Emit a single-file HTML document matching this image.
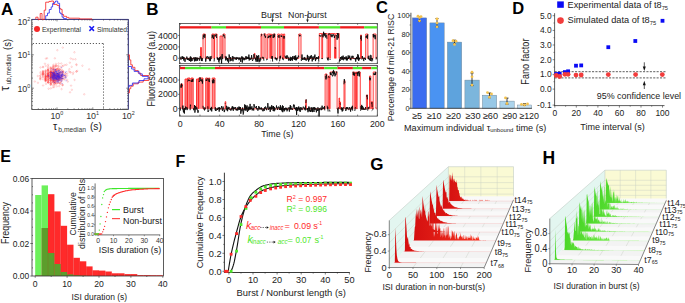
<!DOCTYPE html>
<html><head><meta charset="utf-8"><style>
html,body{margin:0;padding:0;background:#fff;overflow:hidden;width:685px;height:303px;}
svg{display:block;font-family:"Liberation Sans", sans-serif;}
</style></head><body>
<svg width="685" height="303" viewBox="0 0 685 303">
<rect width="685" height="303" fill="#fff"/>
<text x="0.9" y="14.7" font-size="17" text-anchor="start" fill="#000" font-weight="bold">A</text>
<text x="146.3" y="14.7" font-size="17" text-anchor="start" fill="#000" font-weight="bold">B</text>
<text x="376" y="13" font-size="16.5" text-anchor="start" fill="#000" font-weight="bold">C</text>
<text x="512.3" y="13.7" font-size="16.5" text-anchor="start" fill="#000" font-weight="bold">D</text>
<text x="0.3" y="161.8" font-size="16" text-anchor="start" fill="#000" font-weight="bold">E</text>
<text x="175.4" y="166.6" font-size="16" text-anchor="start" fill="#000" font-weight="bold">F</text>
<text x="370.2" y="170.3" font-size="17" text-anchor="start" fill="#000" font-weight="bold">G</text>
<text x="542.4" y="164.4" font-size="17.5" text-anchor="start" fill="#000" font-weight="bold">H</text>
<path d="M52.7,72.5a0.75,0.75 0 1,0 1.5,0a0.75,0.75 0 1,0 -1.5,0M54.5,80.6a0.75,0.75 0 1,0 1.5,0a0.75,0.75 0 1,0 -1.5,0M50.1,84a0.75,0.75 0 1,0 1.5,0a0.75,0.75 0 1,0 -1.5,0M47.4,75.8a0.75,0.75 0 1,0 1.5,0a0.75,0.75 0 1,0 -1.5,0M50,70.3a0.75,0.75 0 1,0 1.5,0a0.75,0.75 0 1,0 -1.5,0M47.5,82.6a0.75,0.75 0 1,0 1.5,0a0.75,0.75 0 1,0 -1.5,0M53,80.6a0.75,0.75 0 1,0 1.5,0a0.75,0.75 0 1,0 -1.5,0M60.8,79a0.75,0.75 0 1,0 1.5,0a0.75,0.75 0 1,0 -1.5,0M50.3,80.8a0.75,0.75 0 1,0 1.5,0a0.75,0.75 0 1,0 -1.5,0M50.1,73.7a0.75,0.75 0 1,0 1.5,0a0.75,0.75 0 1,0 -1.5,0M55.7,79.3a0.75,0.75 0 1,0 1.5,0a0.75,0.75 0 1,0 -1.5,0M54.8,78.9a0.75,0.75 0 1,0 1.5,0a0.75,0.75 0 1,0 -1.5,0M53.3,72.8a0.75,0.75 0 1,0 1.5,0a0.75,0.75 0 1,0 -1.5,0M47.5,79a0.75,0.75 0 1,0 1.5,0a0.75,0.75 0 1,0 -1.5,0M52.5,73.5a0.75,0.75 0 1,0 1.5,0a0.75,0.75 0 1,0 -1.5,0M56.9,80.1a0.75,0.75 0 1,0 1.5,0a0.75,0.75 0 1,0 -1.5,0M44.7,81.2a0.75,0.75 0 1,0 1.5,0a0.75,0.75 0 1,0 -1.5,0M50.1,84.1a0.75,0.75 0 1,0 1.5,0a0.75,0.75 0 1,0 -1.5,0M42.2,66.8a0.75,0.75 0 1,0 1.5,0a0.75,0.75 0 1,0 -1.5,0M45,77a0.75,0.75 0 1,0 1.5,0a0.75,0.75 0 1,0 -1.5,0M42.2,74.4a0.75,0.75 0 1,0 1.5,0a0.75,0.75 0 1,0 -1.5,0M50.3,75.7a0.75,0.75 0 1,0 1.5,0a0.75,0.75 0 1,0 -1.5,0M44.6,74.8a0.75,0.75 0 1,0 1.5,0a0.75,0.75 0 1,0 -1.5,0M54.3,75.3a0.75,0.75 0 1,0 1.5,0a0.75,0.75 0 1,0 -1.5,0M53.6,66.6a0.75,0.75 0 1,0 1.5,0a0.75,0.75 0 1,0 -1.5,0M52.6,80.4a0.75,0.75 0 1,0 1.5,0a0.75,0.75 0 1,0 -1.5,0M37.2,82.8a0.75,0.75 0 1,0 1.5,0a0.75,0.75 0 1,0 -1.5,0M50,80.2a0.75,0.75 0 1,0 1.5,0a0.75,0.75 0 1,0 -1.5,0M52.4,81.7a0.75,0.75 0 1,0 1.5,0a0.75,0.75 0 1,0 -1.5,0M53.4,72a0.75,0.75 0 1,0 1.5,0a0.75,0.75 0 1,0 -1.5,0M42.1,71.7a0.75,0.75 0 1,0 1.5,0a0.75,0.75 0 1,0 -1.5,0M50,80a0.75,0.75 0 1,0 1.5,0a0.75,0.75 0 1,0 -1.5,0M47.2,82a0.75,0.75 0 1,0 1.5,0a0.75,0.75 0 1,0 -1.5,0M47.5,77.2a0.75,0.75 0 1,0 1.5,0a0.75,0.75 0 1,0 -1.5,0M59.1,69a0.75,0.75 0 1,0 1.5,0a0.75,0.75 0 1,0 -1.5,0M47.8,88.7a0.75,0.75 0 1,0 1.5,0a0.75,0.75 0 1,0 -1.5,0M52.5,73a0.75,0.75 0 1,0 1.5,0a0.75,0.75 0 1,0 -1.5,0M58,80.5a0.75,0.75 0 1,0 1.5,0a0.75,0.75 0 1,0 -1.5,0M50.2,70.6a0.75,0.75 0 1,0 1.5,0a0.75,0.75 0 1,0 -1.5,0M52,80.5a0.75,0.75 0 1,0 1.5,0a0.75,0.75 0 1,0 -1.5,0M53.3,76.8a0.75,0.75 0 1,0 1.5,0a0.75,0.75 0 1,0 -1.5,0M53.1,82.6a0.75,0.75 0 1,0 1.5,0a0.75,0.75 0 1,0 -1.5,0M44.7,80.1a0.75,0.75 0 1,0 1.5,0a0.75,0.75 0 1,0 -1.5,0M53.1,69a0.75,0.75 0 1,0 1.5,0a0.75,0.75 0 1,0 -1.5,0M60.9,71.7a0.75,0.75 0 1,0 1.5,0a0.75,0.75 0 1,0 -1.5,0M42.1,77.4a0.75,0.75 0 1,0 1.5,0a0.75,0.75 0 1,0 -1.5,0M57.9,79.6a0.75,0.75 0 1,0 1.5,0a0.75,0.75 0 1,0 -1.5,0M53.4,84.4a0.75,0.75 0 1,0 1.5,0a0.75,0.75 0 1,0 -1.5,0M50,77.3a0.75,0.75 0 1,0 1.5,0a0.75,0.75 0 1,0 -1.5,0M64.8,75.7a0.75,0.75 0 1,0 1.5,0a0.75,0.75 0 1,0 -1.5,0M57.3,75.9a0.75,0.75 0 1,0 1.5,0a0.75,0.75 0 1,0 -1.5,0M45,75.9a0.75,0.75 0 1,0 1.5,0a0.75,0.75 0 1,0 -1.5,0M53.1,80.8a0.75,0.75 0 1,0 1.5,0a0.75,0.75 0 1,0 -1.5,0M56.2,75.8a0.75,0.75 0 1,0 1.5,0a0.75,0.75 0 1,0 -1.5,0M52.5,75.7a0.75,0.75 0 1,0 1.5,0a0.75,0.75 0 1,0 -1.5,0M56.8,69.5a0.75,0.75 0 1,0 1.5,0a0.75,0.75 0 1,0 -1.5,0M52.3,66.8a0.75,0.75 0 1,0 1.5,0a0.75,0.75 0 1,0 -1.5,0M56.7,76.1a0.75,0.75 0 1,0 1.5,0a0.75,0.75 0 1,0 -1.5,0M61.4,79.1a0.75,0.75 0 1,0 1.5,0a0.75,0.75 0 1,0 -1.5,0M47.3,75.8a0.75,0.75 0 1,0 1.5,0a0.75,0.75 0 1,0 -1.5,0M53.9,78.3a0.75,0.75 0 1,0 1.5,0a0.75,0.75 0 1,0 -1.5,0M50.2,79a0.75,0.75 0 1,0 1.5,0a0.75,0.75 0 1,0 -1.5,0M53.4,75.8a0.75,0.75 0 1,0 1.5,0a0.75,0.75 0 1,0 -1.5,0M45,80.4a0.75,0.75 0 1,0 1.5,0a0.75,0.75 0 1,0 -1.5,0M50,72.7a0.75,0.75 0 1,0 1.5,0a0.75,0.75 0 1,0 -1.5,0M52.5,76a0.75,0.75 0 1,0 1.5,0a0.75,0.75 0 1,0 -1.5,0M58.1,74.3a0.75,0.75 0 1,0 1.5,0a0.75,0.75 0 1,0 -1.5,0M59.6,76.4a0.75,0.75 0 1,0 1.5,0a0.75,0.75 0 1,0 -1.5,0M44.6,78.9a0.75,0.75 0 1,0 1.5,0a0.75,0.75 0 1,0 -1.5,0M47.3,79.9a0.75,0.75 0 1,0 1.5,0a0.75,0.75 0 1,0 -1.5,0M56.6,76.6a0.75,0.75 0 1,0 1.5,0a0.75,0.75 0 1,0 -1.5,0M39.3,78.1a0.75,0.75 0 1,0 1.5,0a0.75,0.75 0 1,0 -1.5,0M50.2,74.4a0.75,0.75 0 1,0 1.5,0a0.75,0.75 0 1,0 -1.5,0M52.1,75.5a0.75,0.75 0 1,0 1.5,0a0.75,0.75 0 1,0 -1.5,0M60.3,81.9a0.75,0.75 0 1,0 1.5,0a0.75,0.75 0 1,0 -1.5,0M56.9,75.2a0.75,0.75 0 1,0 1.5,0a0.75,0.75 0 1,0 -1.5,0M50,81.8a0.75,0.75 0 1,0 1.5,0a0.75,0.75 0 1,0 -1.5,0M50.1,78.4a0.75,0.75 0 1,0 1.5,0a0.75,0.75 0 1,0 -1.5,0M50.3,76.9a0.75,0.75 0 1,0 1.5,0a0.75,0.75 0 1,0 -1.5,0M61.9,85.2a0.75,0.75 0 1,0 1.5,0a0.75,0.75 0 1,0 -1.5,0M50.2,75.1a0.75,0.75 0 1,0 1.5,0a0.75,0.75 0 1,0 -1.5,0M49.9,74.8a0.75,0.75 0 1,0 1.5,0a0.75,0.75 0 1,0 -1.5,0M54.8,76.2a0.75,0.75 0 1,0 1.5,0a0.75,0.75 0 1,0 -1.5,0M51.9,77.5a0.75,0.75 0 1,0 1.5,0a0.75,0.75 0 1,0 -1.5,0M52.8,77.3a0.75,0.75 0 1,0 1.5,0a0.75,0.75 0 1,0 -1.5,0M45,80.1a0.75,0.75 0 1,0 1.5,0a0.75,0.75 0 1,0 -1.5,0M52.6,76.8a0.75,0.75 0 1,0 1.5,0a0.75,0.75 0 1,0 -1.5,0M49.9,78.1a0.75,0.75 0 1,0 1.5,0a0.75,0.75 0 1,0 -1.5,0M59.8,75.1a0.75,0.75 0 1,0 1.5,0a0.75,0.75 0 1,0 -1.5,0M56.6,81.1a0.75,0.75 0 1,0 1.5,0a0.75,0.75 0 1,0 -1.5,0M52.5,74.4a0.75,0.75 0 1,0 1.5,0a0.75,0.75 0 1,0 -1.5,0M56.7,74.8a0.75,0.75 0 1,0 1.5,0a0.75,0.75 0 1,0 -1.5,0M49.9,76.2a0.75,0.75 0 1,0 1.5,0a0.75,0.75 0 1,0 -1.5,0M59.1,77.6a0.75,0.75 0 1,0 1.5,0a0.75,0.75 0 1,0 -1.5,0M52.6,72.9a0.75,0.75 0 1,0 1.5,0a0.75,0.75 0 1,0 -1.5,0M56.2,83.3a0.75,0.75 0 1,0 1.5,0a0.75,0.75 0 1,0 -1.5,0M44.8,73.4a0.75,0.75 0 1,0 1.5,0a0.75,0.75 0 1,0 -1.5,0M54.8,74.4a0.75,0.75 0 1,0 1.5,0a0.75,0.75 0 1,0 -1.5,0M42,74.2a0.75,0.75 0 1,0 1.5,0a0.75,0.75 0 1,0 -1.5,0M39.9,73.7a0.75,0.75 0 1,0 1.5,0a0.75,0.75 0 1,0 -1.5,0M49.7,78.6a0.75,0.75 0 1,0 1.5,0a0.75,0.75 0 1,0 -1.5,0M47.3,76.7a0.75,0.75 0 1,0 1.5,0a0.75,0.75 0 1,0 -1.5,0M53.7,72.5a0.75,0.75 0 1,0 1.5,0a0.75,0.75 0 1,0 -1.5,0M66.3,73.5a0.75,0.75 0 1,0 1.5,0a0.75,0.75 0 1,0 -1.5,0M47.4,74.5a0.75,0.75 0 1,0 1.5,0a0.75,0.75 0 1,0 -1.5,0M50,82.6a0.75,0.75 0 1,0 1.5,0a0.75,0.75 0 1,0 -1.5,0M53.9,73a0.75,0.75 0 1,0 1.5,0a0.75,0.75 0 1,0 -1.5,0M55.7,70a0.75,0.75 0 1,0 1.5,0a0.75,0.75 0 1,0 -1.5,0M52.7,70.8a0.75,0.75 0 1,0 1.5,0a0.75,0.75 0 1,0 -1.5,0M52.7,74.4a0.75,0.75 0 1,0 1.5,0a0.75,0.75 0 1,0 -1.5,0M56.9,82.8a0.75,0.75 0 1,0 1.5,0a0.75,0.75 0 1,0 -1.5,0M55.8,71.1a0.75,0.75 0 1,0 1.5,0a0.75,0.75 0 1,0 -1.5,0M47.4,76.2a0.75,0.75 0 1,0 1.5,0a0.75,0.75 0 1,0 -1.5,0M52.2,87.4a0.75,0.75 0 1,0 1.5,0a0.75,0.75 0 1,0 -1.5,0M52.9,73.7a0.75,0.75 0 1,0 1.5,0a0.75,0.75 0 1,0 -1.5,0M47.6,82.5a0.75,0.75 0 1,0 1.5,0a0.75,0.75 0 1,0 -1.5,0M54.3,81.6a0.75,0.75 0 1,0 1.5,0a0.75,0.75 0 1,0 -1.5,0M47.1,78.5a0.75,0.75 0 1,0 1.5,0a0.75,0.75 0 1,0 -1.5,0M58.6,69.6a0.75,0.75 0 1,0 1.5,0a0.75,0.75 0 1,0 -1.5,0M53.8,77.2a0.75,0.75 0 1,0 1.5,0a0.75,0.75 0 1,0 -1.5,0M53.2,74.2a0.75,0.75 0 1,0 1.5,0a0.75,0.75 0 1,0 -1.5,0M50,67.3a0.75,0.75 0 1,0 1.5,0a0.75,0.75 0 1,0 -1.5,0M52,68.1a0.75,0.75 0 1,0 1.5,0a0.75,0.75 0 1,0 -1.5,0M39.5,76a0.75,0.75 0 1,0 1.5,0a0.75,0.75 0 1,0 -1.5,0M44.9,76.6a0.75,0.75 0 1,0 1.5,0a0.75,0.75 0 1,0 -1.5,0M54.9,81.4a0.75,0.75 0 1,0 1.5,0a0.75,0.75 0 1,0 -1.5,0M39.7,78.8a0.75,0.75 0 1,0 1.5,0a0.75,0.75 0 1,0 -1.5,0M57.8,73.5a0.75,0.75 0 1,0 1.5,0a0.75,0.75 0 1,0 -1.5,0M42.1,73.7a0.75,0.75 0 1,0 1.5,0a0.75,0.75 0 1,0 -1.5,0M57.3,75a0.75,0.75 0 1,0 1.5,0a0.75,0.75 0 1,0 -1.5,0M47.4,70.9a0.75,0.75 0 1,0 1.5,0a0.75,0.75 0 1,0 -1.5,0M57.4,79.1a0.75,0.75 0 1,0 1.5,0a0.75,0.75 0 1,0 -1.5,0M53.5,75.8a0.75,0.75 0 1,0 1.5,0a0.75,0.75 0 1,0 -1.5,0M42.4,72.1a0.75,0.75 0 1,0 1.5,0a0.75,0.75 0 1,0 -1.5,0M60.3,72.8a0.75,0.75 0 1,0 1.5,0a0.75,0.75 0 1,0 -1.5,0M61.4,70.5a0.75,0.75 0 1,0 1.5,0a0.75,0.75 0 1,0 -1.5,0M52.3,73.7a0.75,0.75 0 1,0 1.5,0a0.75,0.75 0 1,0 -1.5,0M50.1,77a0.75,0.75 0 1,0 1.5,0a0.75,0.75 0 1,0 -1.5,0M52.5,73.8a0.75,0.75 0 1,0 1.5,0a0.75,0.75 0 1,0 -1.5,0M47.8,80.2a0.75,0.75 0 1,0 1.5,0a0.75,0.75 0 1,0 -1.5,0M59.4,83.2a0.75,0.75 0 1,0 1.5,0a0.75,0.75 0 1,0 -1.5,0M50.4,72.8a0.75,0.75 0 1,0 1.5,0a0.75,0.75 0 1,0 -1.5,0M52.4,75.8a0.75,0.75 0 1,0 1.5,0a0.75,0.75 0 1,0 -1.5,0M47.2,74.1a0.75,0.75 0 1,0 1.5,0a0.75,0.75 0 1,0 -1.5,0M50.1,83.4a0.75,0.75 0 1,0 1.5,0a0.75,0.75 0 1,0 -1.5,0M45.2,77.2a0.75,0.75 0 1,0 1.5,0a0.75,0.75 0 1,0 -1.5,0M60.3,78.3a0.75,0.75 0 1,0 1.5,0a0.75,0.75 0 1,0 -1.5,0M52.8,79.5a0.75,0.75 0 1,0 1.5,0a0.75,0.75 0 1,0 -1.5,0M58.5,86.1a0.75,0.75 0 1,0 1.5,0a0.75,0.75 0 1,0 -1.5,0M52.8,77.1a0.75,0.75 0 1,0 1.5,0a0.75,0.75 0 1,0 -1.5,0M47.5,71.3a0.75,0.75 0 1,0 1.5,0a0.75,0.75 0 1,0 -1.5,0M50,73.7a0.75,0.75 0 1,0 1.5,0a0.75,0.75 0 1,0 -1.5,0M50,78.3a0.75,0.75 0 1,0 1.5,0a0.75,0.75 0 1,0 -1.5,0M52.7,75.6a0.75,0.75 0 1,0 1.5,0a0.75,0.75 0 1,0 -1.5,0M50,72a0.75,0.75 0 1,0 1.5,0a0.75,0.75 0 1,0 -1.5,0M50,88.4a0.75,0.75 0 1,0 1.5,0a0.75,0.75 0 1,0 -1.5,0M45,76.1a0.75,0.75 0 1,0 1.5,0a0.75,0.75 0 1,0 -1.5,0M47.4,73a0.75,0.75 0 1,0 1.5,0a0.75,0.75 0 1,0 -1.5,0M62.7,72.3a0.75,0.75 0 1,0 1.5,0a0.75,0.75 0 1,0 -1.5,0M47.4,67.6a0.75,0.75 0 1,0 1.5,0a0.75,0.75 0 1,0 -1.5,0M47.3,70.2a0.75,0.75 0 1,0 1.5,0a0.75,0.75 0 1,0 -1.5,0M54.7,74a0.75,0.75 0 1,0 1.5,0a0.75,0.75 0 1,0 -1.5,0M61.2,74.1a0.75,0.75 0 1,0 1.5,0a0.75,0.75 0 1,0 -1.5,0M44.8,71.8a0.75,0.75 0 1,0 1.5,0a0.75,0.75 0 1,0 -1.5,0M52.5,78a0.75,0.75 0 1,0 1.5,0a0.75,0.75 0 1,0 -1.5,0M50,75.7a0.75,0.75 0 1,0 1.5,0a0.75,0.75 0 1,0 -1.5,0M42.4,71.3a0.75,0.75 0 1,0 1.5,0a0.75,0.75 0 1,0 -1.5,0M57.1,66.4a0.75,0.75 0 1,0 1.5,0a0.75,0.75 0 1,0 -1.5,0M52.5,76.3a0.75,0.75 0 1,0 1.5,0a0.75,0.75 0 1,0 -1.5,0M53.1,75.7a0.75,0.75 0 1,0 1.5,0a0.75,0.75 0 1,0 -1.5,0M47.5,74.6a0.75,0.75 0 1,0 1.5,0a0.75,0.75 0 1,0 -1.5,0M55.4,69.2a0.75,0.75 0 1,0 1.5,0a0.75,0.75 0 1,0 -1.5,0M50.1,75.6a0.75,0.75 0 1,0 1.5,0a0.75,0.75 0 1,0 -1.5,0M51.8,68.6a0.75,0.75 0 1,0 1.5,0a0.75,0.75 0 1,0 -1.5,0M44.9,80a0.75,0.75 0 1,0 1.5,0a0.75,0.75 0 1,0 -1.5,0M44.9,76.4a0.75,0.75 0 1,0 1.5,0a0.75,0.75 0 1,0 -1.5,0M60.8,76.4a0.75,0.75 0 1,0 1.5,0a0.75,0.75 0 1,0 -1.5,0M50,71.8a0.75,0.75 0 1,0 1.5,0a0.75,0.75 0 1,0 -1.5,0M54.4,70.6a0.75,0.75 0 1,0 1.5,0a0.75,0.75 0 1,0 -1.5,0M52.5,82.6a0.75,0.75 0 1,0 1.5,0a0.75,0.75 0 1,0 -1.5,0M50,79.8a0.75,0.75 0 1,0 1.5,0a0.75,0.75 0 1,0 -1.5,0M50.2,73.9a0.75,0.75 0 1,0 1.5,0a0.75,0.75 0 1,0 -1.5,0M56.5,78.6a0.75,0.75 0 1,0 1.5,0a0.75,0.75 0 1,0 -1.5,0M49.9,82.6a0.75,0.75 0 1,0 1.5,0a0.75,0.75 0 1,0 -1.5,0M51.8,70.7a0.75,0.75 0 1,0 1.5,0a0.75,0.75 0 1,0 -1.5,0M52.8,73.2a0.75,0.75 0 1,0 1.5,0a0.75,0.75 0 1,0 -1.5,0M59.8,73.2a0.75,0.75 0 1,0 1.5,0a0.75,0.75 0 1,0 -1.5,0M56.8,77.7a0.75,0.75 0 1,0 1.5,0a0.75,0.75 0 1,0 -1.5,0M55,70.7a0.75,0.75 0 1,0 1.5,0a0.75,0.75 0 1,0 -1.5,0M50.3,76.6a0.75,0.75 0 1,0 1.5,0a0.75,0.75 0 1,0 -1.5,0M44.9,70.4a0.75,0.75 0 1,0 1.5,0a0.75,0.75 0 1,0 -1.5,0M58.4,79.8a0.75,0.75 0 1,0 1.5,0a0.75,0.75 0 1,0 -1.5,0M58.5,79.5a0.75,0.75 0 1,0 1.5,0a0.75,0.75 0 1,0 -1.5,0M51.8,74.6a0.75,0.75 0 1,0 1.5,0a0.75,0.75 0 1,0 -1.5,0M56,78.8a0.75,0.75 0 1,0 1.5,0a0.75,0.75 0 1,0 -1.5,0M57.4,72.3a0.75,0.75 0 1,0 1.5,0a0.75,0.75 0 1,0 -1.5,0M57.7,74.3a0.75,0.75 0 1,0 1.5,0a0.75,0.75 0 1,0 -1.5,0M58.3,79.8a0.75,0.75 0 1,0 1.5,0a0.75,0.75 0 1,0 -1.5,0M49.9,75.2a0.75,0.75 0 1,0 1.5,0a0.75,0.75 0 1,0 -1.5,0M61.9,77.2a0.75,0.75 0 1,0 1.5,0a0.75,0.75 0 1,0 -1.5,0M44.8,71.2a0.75,0.75 0 1,0 1.5,0a0.75,0.75 0 1,0 -1.5,0M57.9,78.5a0.75,0.75 0 1,0 1.5,0a0.75,0.75 0 1,0 -1.5,0M55.7,77.6a0.75,0.75 0 1,0 1.5,0a0.75,0.75 0 1,0 -1.5,0M58,69.8a0.75,0.75 0 1,0 1.5,0a0.75,0.75 0 1,0 -1.5,0M64.1,65a0.75,0.75 0 1,0 1.5,0a0.75,0.75 0 1,0 -1.5,0M61.7,66.2a0.75,0.75 0 1,0 1.5,0a0.75,0.75 0 1,0 -1.5,0M44.7,75.2a0.75,0.75 0 1,0 1.5,0a0.75,0.75 0 1,0 -1.5,0M42.3,74.5a0.75,0.75 0 1,0 1.5,0a0.75,0.75 0 1,0 -1.5,0M57.6,68.3a0.75,0.75 0 1,0 1.5,0a0.75,0.75 0 1,0 -1.5,0M47.3,76.1a0.75,0.75 0 1,0 1.5,0a0.75,0.75 0 1,0 -1.5,0M52.6,80.1a0.75,0.75 0 1,0 1.5,0a0.75,0.75 0 1,0 -1.5,0M57.8,75a0.75,0.75 0 1,0 1.5,0a0.75,0.75 0 1,0 -1.5,0M42.4,73.4a0.75,0.75 0 1,0 1.5,0a0.75,0.75 0 1,0 -1.5,0M39.5,79.4a0.75,0.75 0 1,0 1.5,0a0.75,0.75 0 1,0 -1.5,0M54.3,83.2a0.75,0.75 0 1,0 1.5,0a0.75,0.75 0 1,0 -1.5,0M52.9,82.2a0.75,0.75 0 1,0 1.5,0a0.75,0.75 0 1,0 -1.5,0M49.7,72.4a0.75,0.75 0 1,0 1.5,0a0.75,0.75 0 1,0 -1.5,0M52.9,79.1a0.75,0.75 0 1,0 1.5,0a0.75,0.75 0 1,0 -1.5,0M47.3,76.2a0.75,0.75 0 1,0 1.5,0a0.75,0.75 0 1,0 -1.5,0M41.9,74.5a0.75,0.75 0 1,0 1.5,0a0.75,0.75 0 1,0 -1.5,0M52.6,72.6a0.75,0.75 0 1,0 1.5,0a0.75,0.75 0 1,0 -1.5,0M47.6,77.1a0.75,0.75 0 1,0 1.5,0a0.75,0.75 0 1,0 -1.5,0M42.3,73.2a0.75,0.75 0 1,0 1.5,0a0.75,0.75 0 1,0 -1.5,0M55.7,79.7a0.75,0.75 0 1,0 1.5,0a0.75,0.75 0 1,0 -1.5,0M52.3,77.2a0.75,0.75 0 1,0 1.5,0a0.75,0.75 0 1,0 -1.5,0M55.1,80.3a0.75,0.75 0 1,0 1.5,0a0.75,0.75 0 1,0 -1.5,0M47.2,70.2a0.75,0.75 0 1,0 1.5,0a0.75,0.75 0 1,0 -1.5,0M47.3,75.6a0.75,0.75 0 1,0 1.5,0a0.75,0.75 0 1,0 -1.5,0M47.7,79a0.75,0.75 0 1,0 1.5,0a0.75,0.75 0 1,0 -1.5,0M47.5,77.2a0.75,0.75 0 1,0 1.5,0a0.75,0.75 0 1,0 -1.5,0M53.9,76.5a0.75,0.75 0 1,0 1.5,0a0.75,0.75 0 1,0 -1.5,0M47.5,72.2a0.75,0.75 0 1,0 1.5,0a0.75,0.75 0 1,0 -1.5,0M54.8,83a0.75,0.75 0 1,0 1.5,0a0.75,0.75 0 1,0 -1.5,0M54.7,80.4a0.75,0.75 0 1,0 1.5,0a0.75,0.75 0 1,0 -1.5,0M65,77.3a0.75,0.75 0 1,0 1.5,0a0.75,0.75 0 1,0 -1.5,0M44.2,63.7a0.75,0.75 0 1,0 1.5,0a0.75,0.75 0 1,0 -1.5,0M58.1,71a0.75,0.75 0 1,0 1.5,0a0.75,0.75 0 1,0 -1.5,0M52.1,76a0.75,0.75 0 1,0 1.5,0a0.75,0.75 0 1,0 -1.5,0M52.6,72.2a0.75,0.75 0 1,0 1.5,0a0.75,0.75 0 1,0 -1.5,0M45,65.9a0.75,0.75 0 1,0 1.5,0a0.75,0.75 0 1,0 -1.5,0M50.4,76.6a0.75,0.75 0 1,0 1.5,0a0.75,0.75 0 1,0 -1.5,0M57.2,77.2a0.75,0.75 0 1,0 1.5,0a0.75,0.75 0 1,0 -1.5,0M52.2,69.8a0.75,0.75 0 1,0 1.5,0a0.75,0.75 0 1,0 -1.5,0M53.2,73.2a0.75,0.75 0 1,0 1.5,0a0.75,0.75 0 1,0 -1.5,0M50.2,72.4a0.75,0.75 0 1,0 1.5,0a0.75,0.75 0 1,0 -1.5,0M59.7,77.9a0.75,0.75 0 1,0 1.5,0a0.75,0.75 0 1,0 -1.5,0M52.5,66.5a0.75,0.75 0 1,0 1.5,0a0.75,0.75 0 1,0 -1.5,0M39.7,67.5a0.75,0.75 0 1,0 1.5,0a0.75,0.75 0 1,0 -1.5,0M47.5,72.9a0.75,0.75 0 1,0 1.5,0a0.75,0.75 0 1,0 -1.5,0M39.7,72.3a0.75,0.75 0 1,0 1.5,0a0.75,0.75 0 1,0 -1.5,0M49.9,72.5a0.75,0.75 0 1,0 1.5,0a0.75,0.75 0 1,0 -1.5,0M60.8,76.4a0.75,0.75 0 1,0 1.5,0a0.75,0.75 0 1,0 -1.5,0M53,73.5a0.75,0.75 0 1,0 1.5,0a0.75,0.75 0 1,0 -1.5,0M44.9,72.3a0.75,0.75 0 1,0 1.5,0a0.75,0.75 0 1,0 -1.5,0M47.3,77.1a0.75,0.75 0 1,0 1.5,0a0.75,0.75 0 1,0 -1.5,0M59.5,83.4a0.75,0.75 0 1,0 1.5,0a0.75,0.75 0 1,0 -1.5,0M53.6,73.8a0.75,0.75 0 1,0 1.5,0a0.75,0.75 0 1,0 -1.5,0M53,79a0.75,0.75 0 1,0 1.5,0a0.75,0.75 0 1,0 -1.5,0M52.4,77.1a0.75,0.75 0 1,0 1.5,0a0.75,0.75 0 1,0 -1.5,0M52.9,78.3a0.75,0.75 0 1,0 1.5,0a0.75,0.75 0 1,0 -1.5,0M57.6,77.1a0.75,0.75 0 1,0 1.5,0a0.75,0.75 0 1,0 -1.5,0M56,86.3a0.75,0.75 0 1,0 1.5,0a0.75,0.75 0 1,0 -1.5,0M54,69.8a0.75,0.75 0 1,0 1.5,0a0.75,0.75 0 1,0 -1.5,0M47.4,74.3a0.75,0.75 0 1,0 1.5,0a0.75,0.75 0 1,0 -1.5,0M55.8,70.3a0.75,0.75 0 1,0 1.5,0a0.75,0.75 0 1,0 -1.5,0M47.5,66.3a0.75,0.75 0 1,0 1.5,0a0.75,0.75 0 1,0 -1.5,0M59.3,75.4a0.75,0.75 0 1,0 1.5,0a0.75,0.75 0 1,0 -1.5,0M45.2,83.9a0.75,0.75 0 1,0 1.5,0a0.75,0.75 0 1,0 -1.5,0M51.8,79.7a0.75,0.75 0 1,0 1.5,0a0.75,0.75 0 1,0 -1.5,0M52.6,81.2a0.75,0.75 0 1,0 1.5,0a0.75,0.75 0 1,0 -1.5,0M44.7,77.9a0.75,0.75 0 1,0 1.5,0a0.75,0.75 0 1,0 -1.5,0M63.1,75.1a0.75,0.75 0 1,0 1.5,0a0.75,0.75 0 1,0 -1.5,0M61.6,84.9a0.75,0.75 0 1,0 1.5,0a0.75,0.75 0 1,0 -1.5,0M50,73.9a0.75,0.75 0 1,0 1.5,0a0.75,0.75 0 1,0 -1.5,0M57.4,82.6a0.75,0.75 0 1,0 1.5,0a0.75,0.75 0 1,0 -1.5,0M55,74.1a0.75,0.75 0 1,0 1.5,0a0.75,0.75 0 1,0 -1.5,0M37,76a0.75,0.75 0 1,0 1.5,0a0.75,0.75 0 1,0 -1.5,0M54.2,77a0.75,0.75 0 1,0 1.5,0a0.75,0.75 0 1,0 -1.5,0M52.3,75.8a0.75,0.75 0 1,0 1.5,0a0.75,0.75 0 1,0 -1.5,0M53.2,78a0.75,0.75 0 1,0 1.5,0a0.75,0.75 0 1,0 -1.5,0M44.9,78.4a0.75,0.75 0 1,0 1.5,0a0.75,0.75 0 1,0 -1.5,0M50.2,83.4a0.75,0.75 0 1,0 1.5,0a0.75,0.75 0 1,0 -1.5,0M52.6,75.6a0.75,0.75 0 1,0 1.5,0a0.75,0.75 0 1,0 -1.5,0M59.9,66.9a0.75,0.75 0 1,0 1.5,0a0.75,0.75 0 1,0 -1.5,0M54.7,66.2a0.75,0.75 0 1,0 1.5,0a0.75,0.75 0 1,0 -1.5,0M52.6,69.3a0.75,0.75 0 1,0 1.5,0a0.75,0.75 0 1,0 -1.5,0M62,72.2a0.75,0.75 0 1,0 1.5,0a0.75,0.75 0 1,0 -1.5,0M49.9,78.7a0.75,0.75 0 1,0 1.5,0a0.75,0.75 0 1,0 -1.5,0M49.8,68.8a0.75,0.75 0 1,0 1.5,0a0.75,0.75 0 1,0 -1.5,0M42.1,75.8a0.75,0.75 0 1,0 1.5,0a0.75,0.75 0 1,0 -1.5,0M62.2,75.8a0.75,0.75 0 1,0 1.5,0a0.75,0.75 0 1,0 -1.5,0M58.5,76.9a0.75,0.75 0 1,0 1.5,0a0.75,0.75 0 1,0 -1.5,0M58.2,75.1a0.75,0.75 0 1,0 1.5,0a0.75,0.75 0 1,0 -1.5,0M56.7,77.5a0.75,0.75 0 1,0 1.5,0a0.75,0.75 0 1,0 -1.5,0M53.3,75.9a0.75,0.75 0 1,0 1.5,0a0.75,0.75 0 1,0 -1.5,0M54,80.6a0.75,0.75 0 1,0 1.5,0a0.75,0.75 0 1,0 -1.5,0M50.1,77.3a0.75,0.75 0 1,0 1.5,0a0.75,0.75 0 1,0 -1.5,0M52.7,64.8a0.75,0.75 0 1,0 1.5,0a0.75,0.75 0 1,0 -1.5,0M53,75.8a0.75,0.75 0 1,0 1.5,0a0.75,0.75 0 1,0 -1.5,0M61.9,76.6a0.75,0.75 0 1,0 1.5,0a0.75,0.75 0 1,0 -1.5,0M56.1,73a0.75,0.75 0 1,0 1.5,0a0.75,0.75 0 1,0 -1.5,0M52.3,72.2a0.75,0.75 0 1,0 1.5,0a0.75,0.75 0 1,0 -1.5,0M49.9,80.7a0.75,0.75 0 1,0 1.5,0a0.75,0.75 0 1,0 -1.5,0M50,76.5a0.75,0.75 0 1,0 1.5,0a0.75,0.75 0 1,0 -1.5,0M62.4,71.2a0.75,0.75 0 1,0 1.5,0a0.75,0.75 0 1,0 -1.5,0M55.8,74.2a0.75,0.75 0 1,0 1.5,0a0.75,0.75 0 1,0 -1.5,0M53.1,74.9a0.75,0.75 0 1,0 1.5,0a0.75,0.75 0 1,0 -1.5,0M50.1,68.2a0.75,0.75 0 1,0 1.5,0a0.75,0.75 0 1,0 -1.5,0M44.9,78.7a0.75,0.75 0 1,0 1.5,0a0.75,0.75 0 1,0 -1.5,0M52.3,75.1a0.75,0.75 0 1,0 1.5,0a0.75,0.75 0 1,0 -1.5,0M58,77.9a0.75,0.75 0 1,0 1.5,0a0.75,0.75 0 1,0 -1.5,0M50,68.5a0.75,0.75 0 1,0 1.5,0a0.75,0.75 0 1,0 -1.5,0M50,84.6a0.75,0.75 0 1,0 1.5,0a0.75,0.75 0 1,0 -1.5,0M49.8,78.6a0.75,0.75 0 1,0 1.5,0a0.75,0.75 0 1,0 -1.5,0M53.3,78a0.75,0.75 0 1,0 1.5,0a0.75,0.75 0 1,0 -1.5,0M42.1,72.4a0.75,0.75 0 1,0 1.5,0a0.75,0.75 0 1,0 -1.5,0M50.3,72.7a0.75,0.75 0 1,0 1.5,0a0.75,0.75 0 1,0 -1.5,0M47.1,69a0.75,0.75 0 1,0 1.5,0a0.75,0.75 0 1,0 -1.5,0M58.1,82.9a0.75,0.75 0 1,0 1.5,0a0.75,0.75 0 1,0 -1.5,0M47.4,72a0.75,0.75 0 1,0 1.5,0a0.75,0.75 0 1,0 -1.5,0M56.2,76.9a0.75,0.75 0 1,0 1.5,0a0.75,0.75 0 1,0 -1.5,0M61.9,78.6a0.75,0.75 0 1,0 1.5,0a0.75,0.75 0 1,0 -1.5,0M50.1,73a0.75,0.75 0 1,0 1.5,0a0.75,0.75 0 1,0 -1.5,0M50,79.8a0.75,0.75 0 1,0 1.5,0a0.75,0.75 0 1,0 -1.5,0M53.8,85.2a0.75,0.75 0 1,0 1.5,0a0.75,0.75 0 1,0 -1.5,0M52.7,77.2a0.75,0.75 0 1,0 1.5,0a0.75,0.75 0 1,0 -1.5,0M47.3,82.5a0.75,0.75 0 1,0 1.5,0a0.75,0.75 0 1,0 -1.5,0M55.5,78.5a0.75,0.75 0 1,0 1.5,0a0.75,0.75 0 1,0 -1.5,0M64.9,73.8a0.75,0.75 0 1,0 1.5,0a0.75,0.75 0 1,0 -1.5,0M50,74a0.75,0.75 0 1,0 1.5,0a0.75,0.75 0 1,0 -1.5,0M52.6,68.1a0.75,0.75 0 1,0 1.5,0a0.75,0.75 0 1,0 -1.5,0M47.4,76.4a0.75,0.75 0 1,0 1.5,0a0.75,0.75 0 1,0 -1.5,0M54.6,82.7a0.75,0.75 0 1,0 1.5,0a0.75,0.75 0 1,0 -1.5,0M44.6,79a0.75,0.75 0 1,0 1.5,0a0.75,0.75 0 1,0 -1.5,0M44.8,79.8a0.75,0.75 0 1,0 1.5,0a0.75,0.75 0 1,0 -1.5,0M60.5,81.2a0.75,0.75 0 1,0 1.5,0a0.75,0.75 0 1,0 -1.5,0M47.3,73.5a0.75,0.75 0 1,0 1.5,0a0.75,0.75 0 1,0 -1.5,0M59.2,78.5a0.75,0.75 0 1,0 1.5,0a0.75,0.75 0 1,0 -1.5,0M61.9,84.8a0.75,0.75 0 1,0 1.5,0a0.75,0.75 0 1,0 -1.5,0M54.3,72.2a0.75,0.75 0 1,0 1.5,0a0.75,0.75 0 1,0 -1.5,0M56,76a0.75,0.75 0 1,0 1.5,0a0.75,0.75 0 1,0 -1.5,0M64.5,73.8a0.75,0.75 0 1,0 1.5,0a0.75,0.75 0 1,0 -1.5,0M52.6,75a0.75,0.75 0 1,0 1.5,0a0.75,0.75 0 1,0 -1.5,0M50.1,72.6a0.75,0.75 0 1,0 1.5,0a0.75,0.75 0 1,0 -1.5,0M44.9,75.3a0.75,0.75 0 1,0 1.5,0a0.75,0.75 0 1,0 -1.5,0M52.9,69.7a0.75,0.75 0 1,0 1.5,0a0.75,0.75 0 1,0 -1.5,0M61.7,73.5a0.75,0.75 0 1,0 1.5,0a0.75,0.75 0 1,0 -1.5,0M58.5,73.7a0.75,0.75 0 1,0 1.5,0a0.75,0.75 0 1,0 -1.5,0M47.6,73.6a0.75,0.75 0 1,0 1.5,0a0.75,0.75 0 1,0 -1.5,0M47.4,82.3a0.75,0.75 0 1,0 1.5,0a0.75,0.75 0 1,0 -1.5,0M50.2,76.3a0.75,0.75 0 1,0 1.5,0a0.75,0.75 0 1,0 -1.5,0M54.5,76.7a0.75,0.75 0 1,0 1.5,0a0.75,0.75 0 1,0 -1.5,0M52.8,74.5a0.75,0.75 0 1,0 1.5,0a0.75,0.75 0 1,0 -1.5,0M54,81.9a0.75,0.75 0 1,0 1.5,0a0.75,0.75 0 1,0 -1.5,0M54.5,67.9a0.75,0.75 0 1,0 1.5,0a0.75,0.75 0 1,0 -1.5,0M50.2,75a0.75,0.75 0 1,0 1.5,0a0.75,0.75 0 1,0 -1.5,0M52.4,81.2a0.75,0.75 0 1,0 1.5,0a0.75,0.75 0 1,0 -1.5,0M53.9,83.5a0.75,0.75 0 1,0 1.5,0a0.75,0.75 0 1,0 -1.5,0M52.2,76.8a0.75,0.75 0 1,0 1.5,0a0.75,0.75 0 1,0 -1.5,0M55.7,75.9a0.75,0.75 0 1,0 1.5,0a0.75,0.75 0 1,0 -1.5,0M64,78.9a0.75,0.75 0 1,0 1.5,0a0.75,0.75 0 1,0 -1.5,0M56.3,75.1a0.75,0.75 0 1,0 1.5,0a0.75,0.75 0 1,0 -1.5,0M53,78.5a0.75,0.75 0 1,0 1.5,0a0.75,0.75 0 1,0 -1.5,0M42.5,72.9a0.75,0.75 0 1,0 1.5,0a0.75,0.75 0 1,0 -1.5,0M55,78.9a0.75,0.75 0 1,0 1.5,0a0.75,0.75 0 1,0 -1.5,0M39.6,75.7a0.75,0.75 0 1,0 1.5,0a0.75,0.75 0 1,0 -1.5,0M44.8,70.9a0.75,0.75 0 1,0 1.5,0a0.75,0.75 0 1,0 -1.5,0M57.9,63.5a0.75,0.75 0 1,0 1.5,0a0.75,0.75 0 1,0 -1.5,0M57,80.2a0.75,0.75 0 1,0 1.5,0a0.75,0.75 0 1,0 -1.5,0M51.8,77.7a0.75,0.75 0 1,0 1.5,0a0.75,0.75 0 1,0 -1.5,0M42.4,79.4a0.75,0.75 0 1,0 1.5,0a0.75,0.75 0 1,0 -1.5,0M49.8,71.8a0.75,0.75 0 1,0 1.5,0a0.75,0.75 0 1,0 -1.5,0M47.5,80.9a0.75,0.75 0 1,0 1.5,0a0.75,0.75 0 1,0 -1.5,0M56.5,77.8a0.75,0.75 0 1,0 1.5,0a0.75,0.75 0 1,0 -1.5,0M66.4,75.6a0.75,0.75 0 1,0 1.5,0a0.75,0.75 0 1,0 -1.5,0M54,80.1a0.75,0.75 0 1,0 1.5,0a0.75,0.75 0 1,0 -1.5,0M47.4,80a0.75,0.75 0 1,0 1.5,0a0.75,0.75 0 1,0 -1.5,0M44.8,77.7a0.75,0.75 0 1,0 1.5,0a0.75,0.75 0 1,0 -1.5,0M52.3,85.3a0.75,0.75 0 1,0 1.5,0a0.75,0.75 0 1,0 -1.5,0M52.4,82.3a0.75,0.75 0 1,0 1.5,0a0.75,0.75 0 1,0 -1.5,0M44.7,77.4a0.75,0.75 0 1,0 1.5,0a0.75,0.75 0 1,0 -1.5,0M53.4,74.8a0.75,0.75 0 1,0 1.5,0a0.75,0.75 0 1,0 -1.5,0M44.8,76.4a0.75,0.75 0 1,0 1.5,0a0.75,0.75 0 1,0 -1.5,0M59.4,83.8a0.75,0.75 0 1,0 1.5,0a0.75,0.75 0 1,0 -1.5,0M59.1,77.7a0.75,0.75 0 1,0 1.5,0a0.75,0.75 0 1,0 -1.5,0M59.3,71.8a0.75,0.75 0 1,0 1.5,0a0.75,0.75 0 1,0 -1.5,0M50.2,72.9a0.75,0.75 0 1,0 1.5,0a0.75,0.75 0 1,0 -1.5,0M55.8,75.9a0.75,0.75 0 1,0 1.5,0a0.75,0.75 0 1,0 -1.5,0M51.9,79.7a0.75,0.75 0 1,0 1.5,0a0.75,0.75 0 1,0 -1.5,0M50.2,72.6a0.75,0.75 0 1,0 1.5,0a0.75,0.75 0 1,0 -1.5,0M50,78.2a0.75,0.75 0 1,0 1.5,0a0.75,0.75 0 1,0 -1.5,0M44.8,81a0.75,0.75 0 1,0 1.5,0a0.75,0.75 0 1,0 -1.5,0M44.7,79.3a0.75,0.75 0 1,0 1.5,0a0.75,0.75 0 1,0 -1.5,0M57.5,68.7a0.75,0.75 0 1,0 1.5,0a0.75,0.75 0 1,0 -1.5,0M52.7,74.5a0.75,0.75 0 1,0 1.5,0a0.75,0.75 0 1,0 -1.5,0M54,70.1a0.75,0.75 0 1,0 1.5,0a0.75,0.75 0 1,0 -1.5,0M58.8,77.7a0.75,0.75 0 1,0 1.5,0a0.75,0.75 0 1,0 -1.5,0M42.2,71.1a0.75,0.75 0 1,0 1.5,0a0.75,0.75 0 1,0 -1.5,0M47.5,78.3a0.75,0.75 0 1,0 1.5,0a0.75,0.75 0 1,0 -1.5,0M53.7,76.2a0.75,0.75 0 1,0 1.5,0a0.75,0.75 0 1,0 -1.5,0M55.1,63.9a0.75,0.75 0 1,0 1.5,0a0.75,0.75 0 1,0 -1.5,0M50.3,71.9a0.75,0.75 0 1,0 1.5,0a0.75,0.75 0 1,0 -1.5,0M58.9,77.9a0.75,0.75 0 1,0 1.5,0a0.75,0.75 0 1,0 -1.5,0M54,75.9a0.75,0.75 0 1,0 1.5,0a0.75,0.75 0 1,0 -1.5,0M44.8,74a0.75,0.75 0 1,0 1.5,0a0.75,0.75 0 1,0 -1.5,0M47.2,69.8a0.75,0.75 0 1,0 1.5,0a0.75,0.75 0 1,0 -1.5,0M57.6,77.8a0.75,0.75 0 1,0 1.5,0a0.75,0.75 0 1,0 -1.5,0M55.5,83.7a0.75,0.75 0 1,0 1.5,0a0.75,0.75 0 1,0 -1.5,0M42.1,76.8a0.75,0.75 0 1,0 1.5,0a0.75,0.75 0 1,0 -1.5,0M60.9,75.4a0.75,0.75 0 1,0 1.5,0a0.75,0.75 0 1,0 -1.5,0M56.3,75a0.75,0.75 0 1,0 1.5,0a0.75,0.75 0 1,0 -1.5,0M60.8,69.4a0.75,0.75 0 1,0 1.5,0a0.75,0.75 0 1,0 -1.5,0M49.8,74a0.75,0.75 0 1,0 1.5,0a0.75,0.75 0 1,0 -1.5,0M49.9,71.7a0.75,0.75 0 1,0 1.5,0a0.75,0.75 0 1,0 -1.5,0M45,80.7a0.75,0.75 0 1,0 1.5,0a0.75,0.75 0 1,0 -1.5,0M68.1,71.4a0.75,0.75 0 1,0 1.5,0a0.75,0.75 0 1,0 -1.5,0M52.7,65.7a0.75,0.75 0 1,0 1.5,0a0.75,0.75 0 1,0 -1.5,0M62.3,71.9a0.75,0.75 0 1,0 1.5,0a0.75,0.75 0 1,0 -1.5,0M47.2,74.3a0.75,0.75 0 1,0 1.5,0a0.75,0.75 0 1,0 -1.5,0M53.7,74.8a0.75,0.75 0 1,0 1.5,0a0.75,0.75 0 1,0 -1.5,0M42.3,67.2a0.75,0.75 0 1,0 1.5,0a0.75,0.75 0 1,0 -1.5,0M50.2,79.8a0.75,0.75 0 1,0 1.5,0a0.75,0.75 0 1,0 -1.5,0M58.7,76a0.75,0.75 0 1,0 1.5,0a0.75,0.75 0 1,0 -1.5,0M44.8,73.4a0.75,0.75 0 1,0 1.5,0a0.75,0.75 0 1,0 -1.5,0M59.2,72a0.75,0.75 0 1,0 1.5,0a0.75,0.75 0 1,0 -1.5,0M54.7,77.6a0.75,0.75 0 1,0 1.5,0a0.75,0.75 0 1,0 -1.5,0M47.3,74.1a0.75,0.75 0 1,0 1.5,0a0.75,0.75 0 1,0 -1.5,0M50,76.8a0.75,0.75 0 1,0 1.5,0a0.75,0.75 0 1,0 -1.5,0M50.1,74.9a0.75,0.75 0 1,0 1.5,0a0.75,0.75 0 1,0 -1.5,0M52.4,76.1a0.75,0.75 0 1,0 1.5,0a0.75,0.75 0 1,0 -1.5,0M50.1,80.8a0.75,0.75 0 1,0 1.5,0a0.75,0.75 0 1,0 -1.5,0M47.6,75.6a0.75,0.75 0 1,0 1.5,0a0.75,0.75 0 1,0 -1.5,0M50.2,71.4a0.75,0.75 0 1,0 1.5,0a0.75,0.75 0 1,0 -1.5,0M47.6,80a0.75,0.75 0 1,0 1.5,0a0.75,0.75 0 1,0 -1.5,0M45.1,76.6a0.75,0.75 0 1,0 1.5,0a0.75,0.75 0 1,0 -1.5,0M52.4,72.4a0.75,0.75 0 1,0 1.5,0a0.75,0.75 0 1,0 -1.5,0M58,80.5a0.75,0.75 0 1,0 1.5,0a0.75,0.75 0 1,0 -1.5,0M42.3,74.7a0.75,0.75 0 1,0 1.5,0a0.75,0.75 0 1,0 -1.5,0M52.7,80.5a0.75,0.75 0 1,0 1.5,0a0.75,0.75 0 1,0 -1.5,0M47.2,70.2a0.75,0.75 0 1,0 1.5,0a0.75,0.75 0 1,0 -1.5,0M47.4,64.7a0.75,0.75 0 1,0 1.5,0a0.75,0.75 0 1,0 -1.5,0M57.9,66.1a0.75,0.75 0 1,0 1.5,0a0.75,0.75 0 1,0 -1.5,0M50.1,76.5a0.75,0.75 0 1,0 1.5,0a0.75,0.75 0 1,0 -1.5,0M61.8,72a0.75,0.75 0 1,0 1.5,0a0.75,0.75 0 1,0 -1.5,0M47.4,74.9a0.75,0.75 0 1,0 1.5,0a0.75,0.75 0 1,0 -1.5,0M55,75a0.75,0.75 0 1,0 1.5,0a0.75,0.75 0 1,0 -1.5,0M50.2,68.3a0.75,0.75 0 1,0 1.5,0a0.75,0.75 0 1,0 -1.5,0M47.4,81.7a0.75,0.75 0 1,0 1.5,0a0.75,0.75 0 1,0 -1.5,0M56.2,70.6a0.75,0.75 0 1,0 1.5,0a0.75,0.75 0 1,0 -1.5,0M52.5,75.7a0.75,0.75 0 1,0 1.5,0a0.75,0.75 0 1,0 -1.5,0M56.3,68.9a0.75,0.75 0 1,0 1.5,0a0.75,0.75 0 1,0 -1.5,0M52.4,74.6a0.75,0.75 0 1,0 1.5,0a0.75,0.75 0 1,0 -1.5,0M45.1,78.7a0.75,0.75 0 1,0 1.5,0a0.75,0.75 0 1,0 -1.5,0M52.1,74.2a0.75,0.75 0 1,0 1.5,0a0.75,0.75 0 1,0 -1.5,0M53,72.1a0.75,0.75 0 1,0 1.5,0a0.75,0.75 0 1,0 -1.5,0M58.5,75.3a0.75,0.75 0 1,0 1.5,0a0.75,0.75 0 1,0 -1.5,0M47.5,73.2a0.75,0.75 0 1,0 1.5,0a0.75,0.75 0 1,0 -1.5,0M52.4,77.9a0.75,0.75 0 1,0 1.5,0a0.75,0.75 0 1,0 -1.5,0M42.3,85.5a0.75,0.75 0 1,0 1.5,0a0.75,0.75 0 1,0 -1.5,0M72.2,59.3a0.75,0.75 0 1,0 1.5,0a0.75,0.75 0 1,0 -1.5,0M69.9,72.4a0.75,0.75 0 1,0 1.5,0a0.75,0.75 0 1,0 -1.5,0M63.4,79.6a0.75,0.75 0 1,0 1.5,0a0.75,0.75 0 1,0 -1.5,0M62.4,65.7a0.75,0.75 0 1,0 1.5,0a0.75,0.75 0 1,0 -1.5,0M73.8,79.9a0.75,0.75 0 1,0 1.5,0a0.75,0.75 0 1,0 -1.5,0M56.2,79.9a0.75,0.75 0 1,0 1.5,0a0.75,0.75 0 1,0 -1.5,0M53.3,87.1a0.75,0.75 0 1,0 1.5,0a0.75,0.75 0 1,0 -1.5,0M59.4,70.1a0.75,0.75 0 1,0 1.5,0a0.75,0.75 0 1,0 -1.5,0M75.6,64.4a0.75,0.75 0 1,0 1.5,0a0.75,0.75 0 1,0 -1.5,0M45.2,58.6a0.75,0.75 0 1,0 1.5,0a0.75,0.75 0 1,0 -1.5,0M75.7,71.4a0.75,0.75 0 1,0 1.5,0a0.75,0.75 0 1,0 -1.5,0M54.1,58.3a0.75,0.75 0 1,0 1.5,0a0.75,0.75 0 1,0 -1.5,0M47.6,69.6a0.75,0.75 0 1,0 1.5,0a0.75,0.75 0 1,0 -1.5,0M76.5,70.9a0.75,0.75 0 1,0 1.5,0a0.75,0.75 0 1,0 -1.5,0M60.5,63.5a0.75,0.75 0 1,0 1.5,0a0.75,0.75 0 1,0 -1.5,0M46.3,58.2a0.75,0.75 0 1,0 1.5,0a0.75,0.75 0 1,0 -1.5,0M57.4,73.6a0.75,0.75 0 1,0 1.5,0a0.75,0.75 0 1,0 -1.5,0M72.6,72.5a0.75,0.75 0 1,0 1.5,0a0.75,0.75 0 1,0 -1.5,0M75.7,71.6a0.75,0.75 0 1,0 1.5,0a0.75,0.75 0 1,0 -1.5,0M56.6,68.9a0.75,0.75 0 1,0 1.5,0a0.75,0.75 0 1,0 -1.5,0M66.4,79.8a0.75,0.75 0 1,0 1.5,0a0.75,0.75 0 1,0 -1.5,0M70,58.5a0.75,0.75 0 1,0 1.5,0a0.75,0.75 0 1,0 -1.5,0M54,74.2a0.75,0.75 0 1,0 1.5,0a0.75,0.75 0 1,0 -1.5,0M65.8,64.7a0.75,0.75 0 1,0 1.5,0a0.75,0.75 0 1,0 -1.5,0M61.2,78.9a0.75,0.75 0 1,0 1.5,0a0.75,0.75 0 1,0 -1.5,0M55.3,65.9a0.75,0.75 0 1,0 1.5,0a0.75,0.75 0 1,0 -1.5,0M55.8,65.5a0.75,0.75 0 1,0 1.5,0a0.75,0.75 0 1,0 -1.5,0M62.4,74.5a0.75,0.75 0 1,0 1.5,0a0.75,0.75 0 1,0 -1.5,0M62,47.6a0.75,0.75 0 1,0 1.5,0a0.75,0.75 0 1,0 -1.5,0M54.9,65.7a0.75,0.75 0 1,0 1.5,0a0.75,0.75 0 1,0 -1.5,0M56.6,50.2a0.75,0.75 0 1,0 1.5,0a0.75,0.75 0 1,0 -1.5,0M74.7,59.3a0.75,0.75 0 1,0 1.5,0a0.75,0.75 0 1,0 -1.5,0M64.1,77.1a0.75,0.75 0 1,0 1.5,0a0.75,0.75 0 1,0 -1.5,0M72.1,74a0.75,0.75 0 1,0 1.5,0a0.75,0.75 0 1,0 -1.5,0M75.8,65a0.75,0.75 0 1,0 1.5,0a0.75,0.75 0 1,0 -1.5,0M68.6,69.2a0.75,0.75 0 1,0 1.5,0a0.75,0.75 0 1,0 -1.5,0M88.4,69.3a0.75,0.75 0 1,0 1.5,0a0.75,0.75 0 1,0 -1.5,0M51.9,73a0.75,0.75 0 1,0 1.5,0a0.75,0.75 0 1,0 -1.5,0M71.1,89.8a0.75,0.75 0 1,0 1.5,0a0.75,0.75 0 1,0 -1.5,0M57.9,72.3a0.75,0.75 0 1,0 1.5,0a0.75,0.75 0 1,0 -1.5,0M83.5,94.3a0.75,0.75 0 1,0 1.5,0a0.75,0.75 0 1,0 -1.5,0M81.7,65.7a0.75,0.75 0 1,0 1.5,0a0.75,0.75 0 1,0 -1.5,0M39.8,77.8a0.75,0.75 0 1,0 1.5,0a0.75,0.75 0 1,0 -1.5,0M50.1,77.7a0.75,0.75 0 1,0 1.5,0a0.75,0.75 0 1,0 -1.5,0M69.4,72.2a0.75,0.75 0 1,0 1.5,0a0.75,0.75 0 1,0 -1.5,0M70.9,66.8a0.75,0.75 0 1,0 1.5,0a0.75,0.75 0 1,0 -1.5,0M70.3,85.6a0.75,0.75 0 1,0 1.5,0a0.75,0.75 0 1,0 -1.5,0M60.8,89.1a0.75,0.75 0 1,0 1.5,0a0.75,0.75 0 1,0 -1.5,0M67,81.6a0.75,0.75 0 1,0 1.5,0a0.75,0.75 0 1,0 -1.5,0M69.3,92.3a0.75,0.75 0 1,0 1.5,0a0.75,0.75 0 1,0 -1.5,0M60.7,80.5a0.75,0.75 0 1,0 1.5,0a0.75,0.75 0 1,0 -1.5,0M73.7,52.3a0.75,0.75 0 1,0 1.5,0a0.75,0.75 0 1,0 -1.5,0M34.1,81.5a0.75,0.75 0 1,0 1.5,0a0.75,0.75 0 1,0 -1.5,0M69.1,62.7a0.75,0.75 0 1,0 1.5,0a0.75,0.75 0 1,0 -1.5,0M49.9,84.9a0.75,0.75 0 1,0 1.5,0a0.75,0.75 0 1,0 -1.5,0" stroke="#ff3a3a" stroke-width="0.5" stroke-opacity="0.36" fill="none"/>
<path d="M54.9,70.4l1.2,1.2M54.9,71.6l1.2,-1.2M53.2,74l1.2,1.2M53.2,75.2l1.2,-1.2M57,73.1l1.2,1.2M57,74.3l1.2,-1.2M60.2,71.6l1.2,1.2M60.2,72.8l1.2,-1.2M54.8,77.1l1.2,1.2M54.8,78.3l1.2,-1.2M52.7,74.1l1.2,1.2M52.7,75.3l1.2,-1.2M62.9,77.8l1.2,1.2M62.9,79l1.2,-1.2M54.9,77.2l1.2,1.2M54.9,78.4l1.2,-1.2M52.4,77l1.2,1.2M52.4,78.2l1.2,-1.2M57.2,75.7l1.2,1.2M57.2,76.9l1.2,-1.2M57.8,74.8l1.2,1.2M57.8,76l1.2,-1.2M54.1,73.9l1.2,1.2M54.1,75.1l1.2,-1.2M58.9,79.4l1.2,1.2M58.9,80.6l1.2,-1.2M54.8,69.5l1.2,1.2M54.8,70.7l1.2,-1.2M53.4,71.9l1.2,1.2M53.4,73.1l1.2,-1.2M57,73.1l1.2,1.2M57,74.3l1.2,-1.2M58.9,76.3l1.2,1.2M58.9,77.5l1.2,-1.2M54.4,75.5l1.2,1.2M54.4,76.7l1.2,-1.2M57.5,73.6l1.2,1.2M57.5,74.8l1.2,-1.2M56.1,74l1.2,1.2M56.1,75.2l1.2,-1.2M65.5,80.1l1.2,1.2M65.5,81.3l1.2,-1.2M54.1,73.1l1.2,1.2M54.1,74.3l1.2,-1.2M60.9,66.8l1.2,1.2M60.9,68l1.2,-1.2M56.2,80.6l1.2,1.2M56.2,81.8l1.2,-1.2M56,72.3l1.2,1.2M56,73.5l1.2,-1.2M58.7,74.2l1.2,1.2M58.7,75.4l1.2,-1.2M59.3,75.6l1.2,1.2M59.3,76.8l1.2,-1.2M60.5,71.2l1.2,1.2M60.5,72.4l1.2,-1.2M57.5,78.7l1.2,1.2M57.5,79.9l1.2,-1.2M54.5,74.8l1.2,1.2M54.5,76l1.2,-1.2M54.7,71l1.2,1.2M54.7,72.2l1.2,-1.2M58,75.8l1.2,1.2M58,77l1.2,-1.2M58.3,76.5l1.2,1.2M58.3,77.7l1.2,-1.2M60.9,74.9l1.2,1.2M60.9,76.1l1.2,-1.2M57.7,76.5l1.2,1.2M57.7,77.7l1.2,-1.2M59.8,70.7l1.2,1.2M59.8,71.9l1.2,-1.2M61.3,77.9l1.2,1.2M61.3,79.1l1.2,-1.2M56.9,72.7l1.2,1.2M56.9,73.9l1.2,-1.2M51.6,78.9l1.2,1.2M51.6,80.1l1.2,-1.2M52.6,73.3l1.2,1.2M52.6,74.5l1.2,-1.2M51.8,75.5l1.2,1.2M51.8,76.7l1.2,-1.2M61.5,82.8l1.2,1.2M61.5,84l1.2,-1.2M53.7,75.3l1.2,1.2M53.7,76.5l1.2,-1.2M60.4,78.4l1.2,1.2M60.4,79.6l1.2,-1.2M58.3,76.5l1.2,1.2M58.3,77.7l1.2,-1.2M61.9,70.8l1.2,1.2M61.9,72l1.2,-1.2M59.6,78.5l1.2,1.2M59.6,79.7l1.2,-1.2M56.1,78.3l1.2,1.2M56.1,79.5l1.2,-1.2M55.8,71l1.2,1.2M55.8,72.2l1.2,-1.2M56.7,74.9l1.2,1.2M56.7,76.1l1.2,-1.2M57,70.7l1.2,1.2M57,71.9l1.2,-1.2M54.7,74.3l1.2,1.2M54.7,75.5l1.2,-1.2M56.3,77.8l1.2,1.2M56.3,79l1.2,-1.2M61.6,75.4l1.2,1.2M61.6,76.6l1.2,-1.2M50.9,71.7l1.2,1.2M50.9,72.9l1.2,-1.2M57.2,72.5l1.2,1.2M57.2,73.7l1.2,-1.2M53.5,75.2l1.2,1.2M53.5,76.4l1.2,-1.2M57,75.1l1.2,1.2M57,76.3l1.2,-1.2M59.1,75.6l1.2,1.2M59.1,76.8l1.2,-1.2M56.2,76.9l1.2,1.2M56.2,78.1l1.2,-1.2M58.9,69.6l1.2,1.2M58.9,70.8l1.2,-1.2M51.3,75.2l1.2,1.2M51.3,76.4l1.2,-1.2M60,78.5l1.2,1.2M60,79.7l1.2,-1.2M54.5,76.6l1.2,1.2M54.5,77.8l1.2,-1.2M58.4,73.1l1.2,1.2M58.4,74.3l1.2,-1.2M57,73.4l1.2,1.2M57,74.6l1.2,-1.2M48.1,75.6l1.2,1.2M48.1,76.8l1.2,-1.2M54,77.2l1.2,1.2M54,78.4l1.2,-1.2M57.1,75.2l1.2,1.2M57.1,76.4l1.2,-1.2M61.4,80.1l1.2,1.2M61.4,81.3l1.2,-1.2M57.3,79l1.2,1.2M57.3,80.2l1.2,-1.2M57.2,72.9l1.2,1.2M57.2,74.1l1.2,-1.2M51.9,76.6l1.2,1.2M51.9,77.8l1.2,-1.2M61,74.1l1.2,1.2M61,75.3l1.2,-1.2M62.2,71.7l1.2,1.2M62.2,72.9l1.2,-1.2M56.5,73.3l1.2,1.2M56.5,74.5l1.2,-1.2M55.7,75.2l1.2,1.2M55.7,76.4l1.2,-1.2M51.2,69l1.2,1.2M51.2,70.2l1.2,-1.2M59.2,73.3l1.2,1.2M59.2,74.5l1.2,-1.2M65.1,76.3l1.2,1.2M65.1,77.5l1.2,-1.2M58.7,73.1l1.2,1.2M58.7,74.3l1.2,-1.2M60.5,74.1l1.2,1.2M60.5,75.3l1.2,-1.2M58.1,77.7l1.2,1.2M58.1,78.9l1.2,-1.2M53.2,75l1.2,1.2M53.2,76.2l1.2,-1.2M60.7,75.7l1.2,1.2M60.7,76.9l1.2,-1.2M52.4,81l1.2,1.2M52.4,82.2l1.2,-1.2M55.7,75.7l1.2,1.2M55.7,76.9l1.2,-1.2M57.3,76.1l1.2,1.2M57.3,77.3l1.2,-1.2M59.2,76.5l1.2,1.2M59.2,77.7l1.2,-1.2M57.7,80l1.2,1.2M57.7,81.2l1.2,-1.2M57.6,76.3l1.2,1.2M57.6,77.5l1.2,-1.2M53.9,75.4l1.2,1.2M53.9,76.6l1.2,-1.2M52.3,74.9l1.2,1.2M52.3,76.1l1.2,-1.2M56.6,78.6l1.2,1.2M56.6,79.8l1.2,-1.2M54.1,73.4l1.2,1.2M54.1,74.6l1.2,-1.2M52.2,78.8l1.2,1.2M52.2,80l1.2,-1.2M52.3,75.9l1.2,1.2M52.3,77.1l1.2,-1.2M54.8,71.4l1.2,1.2M54.8,72.6l1.2,-1.2M50.4,77.3l1.2,1.2M50.4,78.5l1.2,-1.2M52.1,76.7l1.2,1.2M52.1,77.9l1.2,-1.2M51.1,72.1l1.2,1.2M51.1,73.3l1.2,-1.2M57,76.4l1.2,1.2M57,77.6l1.2,-1.2M57.7,76.1l1.2,1.2M57.7,77.3l1.2,-1.2M62.9,74.6l1.2,1.2M62.9,75.8l1.2,-1.2M51.6,72.2l1.2,1.2M51.6,73.4l1.2,-1.2M54.2,81.7l1.2,1.2M54.2,82.9l1.2,-1.2M59.3,77.7l1.2,1.2M59.3,78.9l1.2,-1.2M55.7,78.2l1.2,1.2M55.7,79.4l1.2,-1.2M55.3,78.4l1.2,1.2M55.3,79.6l1.2,-1.2M61.9,77.7l1.2,1.2M61.9,78.9l1.2,-1.2M55.3,77.7l1.2,1.2M55.3,78.9l1.2,-1.2M52.7,74.4l1.2,1.2M52.7,75.6l1.2,-1.2M52.2,77.8l1.2,1.2M52.2,79l1.2,-1.2M57.5,74.9l1.2,1.2M57.5,76.1l1.2,-1.2M57.4,74.1l1.2,1.2M57.4,75.3l1.2,-1.2M52,77.4l1.2,1.2M52,78.6l1.2,-1.2M53.2,74.9l1.2,1.2M53.2,76.1l1.2,-1.2M58.1,70.5l1.2,1.2M58.1,71.7l1.2,-1.2M58.3,74.3l1.2,1.2M58.3,75.5l1.2,-1.2M54.3,77.1l1.2,1.2M54.3,78.3l1.2,-1.2M58.4,75.4l1.2,1.2M58.4,76.6l1.2,-1.2M58.2,77.9l1.2,1.2M58.2,79.1l1.2,-1.2M50.7,74.5l1.2,1.2M50.7,75.7l1.2,-1.2M55.4,72.7l1.2,1.2M55.4,73.9l1.2,-1.2M57.7,77.6l1.2,1.2M57.7,78.8l1.2,-1.2M54.6,75.8l1.2,1.2M54.6,77l1.2,-1.2M49.5,72l1.2,1.2M49.5,73.2l1.2,-1.2M55.5,76.7l1.2,1.2M55.5,77.9l1.2,-1.2M58.8,74.7l1.2,1.2M58.8,75.9l1.2,-1.2M61.5,78.2l1.2,1.2M61.5,79.4l1.2,-1.2M49.4,77.6l1.2,1.2M49.4,78.8l1.2,-1.2M64.8,76.7l1.2,1.2M64.8,77.9l1.2,-1.2M52.8,69.1l1.2,1.2M52.8,70.3l1.2,-1.2M59.5,76.4l1.2,1.2M59.5,77.6l1.2,-1.2M60.4,76.7l1.2,1.2M60.4,77.9l1.2,-1.2M59.6,76.8l1.2,1.2M59.6,78l1.2,-1.2M56.9,75.7l1.2,1.2M56.9,76.9l1.2,-1.2M52.7,73.4l1.2,1.2M52.7,74.6l1.2,-1.2M58.4,74.7l1.2,1.2M58.4,75.9l1.2,-1.2M54.1,69.4l1.2,1.2M54.1,70.6l1.2,-1.2M48.3,74.6l1.2,1.2M48.3,75.8l1.2,-1.2M65.5,71.1l1.2,1.2M65.5,72.3l1.2,-1.2M58.7,74.5l1.2,1.2M58.7,75.7l1.2,-1.2M62.2,73.5l1.2,1.2M62.2,74.7l1.2,-1.2M53.5,79.3l1.2,1.2M53.5,80.5l1.2,-1.2M61.1,75.6l1.2,1.2M61.1,76.8l1.2,-1.2M61.5,75.4l1.2,1.2M61.5,76.6l1.2,-1.2M61.4,75.9l1.2,1.2M61.4,77.1l1.2,-1.2M56.3,81.4l1.2,1.2M56.3,82.6l1.2,-1.2M52.5,72.7l1.2,1.2M52.5,73.9l1.2,-1.2M55.8,76.3l1.2,1.2M55.8,77.5l1.2,-1.2M49.3,76.5l1.2,1.2M49.3,77.7l1.2,-1.2M50.9,76l1.2,1.2M50.9,77.2l1.2,-1.2M56.7,75.9l1.2,1.2M56.7,77.1l1.2,-1.2M53.2,74.1l1.2,1.2M53.2,75.3l1.2,-1.2M55.9,78.9l1.2,1.2M55.9,80.1l1.2,-1.2M56,77.9l1.2,1.2M56,79.1l1.2,-1.2M62.6,74.4l1.2,1.2M62.6,75.6l1.2,-1.2M60.6,74.8l1.2,1.2M60.6,76l1.2,-1.2M56.3,76.3l1.2,1.2M56.3,77.5l1.2,-1.2M60.3,76.9l1.2,1.2M60.3,78.1l1.2,-1.2M53.9,77.6l1.2,1.2M53.9,78.8l1.2,-1.2M55.3,75.4l1.2,1.2M55.3,76.6l1.2,-1.2M59.3,71.9l1.2,1.2M59.3,73.1l1.2,-1.2M52.4,78.2l1.2,1.2M52.4,79.4l1.2,-1.2M55.5,70.9l1.2,1.2M55.5,72.1l1.2,-1.2M52.2,72.8l1.2,1.2M52.2,74l1.2,-1.2M56.8,76.5l1.2,1.2M56.8,77.7l1.2,-1.2M61.7,73l1.2,1.2M61.7,74.2l1.2,-1.2M54,79.4l1.2,1.2M54,80.6l1.2,-1.2M57.1,80.2l1.2,1.2M57.1,81.4l1.2,-1.2M53.5,78.9l1.2,1.2M53.5,80.1l1.2,-1.2M52.7,76.4l1.2,1.2M52.7,77.6l1.2,-1.2M52.4,76.2l1.2,1.2M52.4,77.4l1.2,-1.2M61.1,76.7l1.2,1.2M61.1,77.9l1.2,-1.2M64,75l1.2,1.2M64,76.2l1.2,-1.2M58,81.3l1.2,1.2M58,82.5l1.2,-1.2M54.1,73.8l1.2,1.2M54.1,75l1.2,-1.2M58.7,79.3l1.2,1.2M58.7,80.5l1.2,-1.2M55.3,77.1l1.2,1.2M55.3,78.3l1.2,-1.2M59,76.4l1.2,1.2M59,77.6l1.2,-1.2M57.3,78.5l1.2,1.2M57.3,79.7l1.2,-1.2M57.3,79.1l1.2,1.2M57.3,80.3l1.2,-1.2M58.4,78.1l1.2,1.2M58.4,79.3l1.2,-1.2M54.5,75.3l1.2,1.2M54.5,76.5l1.2,-1.2M55.1,73.6l1.2,1.2M55.1,74.8l1.2,-1.2M50.9,73.6l1.2,1.2M50.9,74.8l1.2,-1.2M55,78.1l1.2,1.2M55,79.3l1.2,-1.2M51.8,77.5l1.2,1.2M51.8,78.7l1.2,-1.2M55.9,77.9l1.2,1.2M55.9,79.1l1.2,-1.2M53.3,74l1.2,1.2M53.3,75.2l1.2,-1.2M56.7,81l1.2,1.2M56.7,82.2l1.2,-1.2M57.9,71.7l1.2,1.2M57.9,72.9l1.2,-1.2M51.8,76.6l1.2,1.2M51.8,77.8l1.2,-1.2M53.8,77.5l1.2,1.2M53.8,78.7l1.2,-1.2M53.4,74.3l1.2,1.2M53.4,75.5l1.2,-1.2M58.8,72.3l1.2,1.2M58.8,73.5l1.2,-1.2M61.9,74.3l1.2,1.2M61.9,75.5l1.2,-1.2M59.1,72.3l1.2,1.2M59.1,73.5l1.2,-1.2M55.3,74.9l1.2,1.2M55.3,76.1l1.2,-1.2M61.1,71.8l1.2,1.2M61.1,73l1.2,-1.2M51.5,71.7l1.2,1.2M51.5,72.9l1.2,-1.2M61.2,75.5l1.2,1.2M61.2,76.7l1.2,-1.2M54.3,71.2l1.2,1.2M54.3,72.4l1.2,-1.2M47.5,74.8l1.2,1.2M47.5,76l1.2,-1.2M64.9,75l1.2,1.2M64.9,76.2l1.2,-1.2M61.5,77.9l1.2,1.2M61.5,79.1l1.2,-1.2M53.1,76.1l1.2,1.2M53.1,77.3l1.2,-1.2M56.9,73l1.2,1.2M56.9,74.2l1.2,-1.2M55.7,79l1.2,1.2M55.7,80.2l1.2,-1.2M56.7,73.4l1.2,1.2M56.7,74.6l1.2,-1.2M51.6,74.3l1.2,1.2M51.6,75.5l1.2,-1.2M54.2,74.5l1.2,1.2M54.2,75.7l1.2,-1.2M57.9,81.5l1.2,1.2M57.9,82.7l1.2,-1.2M57.1,75.5l1.2,1.2M57.1,76.7l1.2,-1.2M60.3,73.4l1.2,1.2M60.3,74.6l1.2,-1.2M56.7,77.4l1.2,1.2M56.7,78.6l1.2,-1.2M64,75l1.2,1.2M64,76.2l1.2,-1.2M54.1,82l1.2,1.2M54.1,83.2l1.2,-1.2M57.2,73.3l1.2,1.2M57.2,74.5l1.2,-1.2M50.2,77.1l1.2,1.2M50.2,78.3l1.2,-1.2M52.4,72.8l1.2,1.2M52.4,74l1.2,-1.2M60.7,80.5l1.2,1.2M60.7,81.7l1.2,-1.2M53.4,73.3l1.2,1.2M53.4,74.5l1.2,-1.2M58.1,75.9l1.2,1.2M58.1,77.1l1.2,-1.2M56.2,72.9l1.2,1.2M56.2,74.1l1.2,-1.2M53,77.9l1.2,1.2M53,79.1l1.2,-1.2M55.3,77l1.2,1.2M55.3,78.2l1.2,-1.2M54.7,68.9l1.2,1.2M54.7,70.1l1.2,-1.2M54.8,77.6l1.2,1.2M54.8,78.8l1.2,-1.2M58.8,77.2l1.2,1.2M58.8,78.4l1.2,-1.2M58.5,76l1.2,1.2M58.5,77.2l1.2,-1.2M54.5,78.1l1.2,1.2M54.5,79.3l1.2,-1.2M53.5,71.9l1.2,1.2M53.5,73.1l1.2,-1.2M57.3,70.3l1.2,1.2M57.3,71.5l1.2,-1.2M56.1,77.2l1.2,1.2M56.1,78.4l1.2,-1.2M59.7,80.1l1.2,1.2M59.7,81.3l1.2,-1.2M64.9,71.9l1.2,1.2M64.9,73.1l1.2,-1.2M59.1,72.1l1.2,1.2M59.1,73.3l1.2,-1.2M56.3,72.9l1.2,1.2M56.3,74.1l1.2,-1.2M55.8,72l1.2,1.2M55.8,73.2l1.2,-1.2M53.6,77.7l1.2,1.2M53.6,78.9l1.2,-1.2M53.5,75.7l1.2,1.2M53.5,76.9l1.2,-1.2M53.2,79.2l1.2,1.2M53.2,80.4l1.2,-1.2M55.1,79.3l1.2,1.2M55.1,80.5l1.2,-1.2M55,72.5l1.2,1.2M55,73.7l1.2,-1.2M58.8,77.1l1.2,1.2M58.8,78.3l1.2,-1.2M55.1,68.8l1.2,1.2M55.1,70l1.2,-1.2M55.8,75l1.2,1.2M55.8,76.2l1.2,-1.2M52.5,77.1l1.2,1.2M52.5,78.3l1.2,-1.2M61.7,73l1.2,1.2M61.7,74.2l1.2,-1.2M58,70.1l1.2,1.2M58,71.3l1.2,-1.2M62.2,73.9l1.2,1.2M62.2,75.1l1.2,-1.2M59,78.7l1.2,1.2M59,79.9l1.2,-1.2M61.2,74.2l1.2,1.2M61.2,75.4l1.2,-1.2M55.6,71.3l1.2,1.2M55.6,72.5l1.2,-1.2M58.7,76.6l1.2,1.2M58.7,77.8l1.2,-1.2M65.1,77.4l1.2,1.2M65.1,78.6l1.2,-1.2M52.5,72.4l1.2,1.2M52.5,73.6l1.2,-1.2M60.2,74.8l1.2,1.2M60.2,76l1.2,-1.2" stroke="#4020e8" stroke-width="0.5" stroke-opacity="0.42" fill="none"/>
<line x1="32.8" y1="43.5" x2="103.5" y2="43.5" stroke="#333" stroke-width="0.8" stroke-dasharray="1.2,1.8"/>
<line x1="103.5" y1="43.5" x2="103.5" y2="109.4" stroke="#333" stroke-width="0.8" stroke-dasharray="1.2,1.8"/>
<rect x="31.8" y="19.4" width="96.5" height="90" fill="none" stroke="#333" stroke-width="0.8"/>
<line x1="31.8" y1="19.4" x2="128.3" y2="19.4" stroke="#3a3a9a" stroke-width="0.8"/>
<line x1="128.3" y1="19.4" x2="128.3" y2="109.4" stroke="#3a3a9a" stroke-width="0.8"/>
<path d="M32,109.4v-1.1M32,19.4v1.1M38.3,109.4v-1.1M38.3,19.4v1.1M31.8,105.7h1.1M128.3,105.7h-1.1M42.8,109.4v-1.1M42.8,19.4v1.1M31.8,101.5h1.1M128.3,101.5h-1.1M46.2,109.4v-1.1M46.2,19.4v1.1M31.8,98.3h1.1M128.3,98.3h-1.1M49.1,109.4v-1.1M49.1,19.4v1.1M31.8,95.6h1.1M128.3,95.6h-1.1M51.5,109.4v-1.1M51.5,19.4v1.1M31.8,93.4h1.1M128.3,93.4h-1.1M53.5,109.4v-1.1M53.5,19.4v1.1M31.8,91.4h1.1M128.3,91.4h-1.1M55.4,109.4v-1.1M55.4,19.4v1.1M31.8,89.7h1.1M128.3,89.7h-1.1M57,109.4v-2.0M57,19.4v2.0M31.8,88.2h2.0M128.3,88.2h-2.0M67.8,109.4v-1.1M67.8,19.4v1.1M31.8,78.1h1.1M128.3,78.1h-1.1M74.1,109.4v-1.1M74.1,19.4v1.1M31.8,72.3h1.1M128.3,72.3h-1.1M78.5,109.4v-1.1M78.5,19.4v1.1M31.8,68.1h1.1M128.3,68.1h-1.1M82,109.4v-1.1M82,19.4v1.1M31.8,64.9h1.1M128.3,64.9h-1.1M84.8,109.4v-1.1M84.8,19.4v1.1M31.8,62.2h1.1M128.3,62.2h-1.1M87.2,109.4v-1.1M87.2,19.4v1.1M31.8,60h1.1M128.3,60h-1.1M89.3,109.4v-1.1M89.3,19.4v1.1M31.8,58h1.1M128.3,58h-1.1M91.1,109.4v-1.1M91.1,19.4v1.1M31.8,56.3h1.1M128.3,56.3h-1.1M92.8,109.4v-2.0M92.8,19.4v2.0M31.8,54.8h2.0M128.3,54.8h-2.0M103.5,109.4v-1.1M103.5,19.4v1.1M31.8,44.7h1.1M128.3,44.7h-1.1M109.8,109.4v-1.1M109.8,19.4v1.1M31.8,38.9h1.1M128.3,38.9h-1.1M114.3,109.4v-1.1M114.3,19.4v1.1M31.8,34.7h1.1M128.3,34.7h-1.1M117.7,109.4v-1.1M117.7,19.4v1.1M31.8,31.5h1.1M128.3,31.5h-1.1M120.6,109.4v-1.1M120.6,19.4v1.1M31.8,28.8h1.1M128.3,28.8h-1.1M123,109.4v-1.1M123,19.4v1.1M31.8,26.6h1.1M128.3,26.6h-1.1M125,109.4v-1.1M125,19.4v1.1M31.8,24.6h1.1M128.3,24.6h-1.1M126.9,109.4v-1.1M126.9,19.4v1.1M31.8,22.9h1.1M128.3,22.9h-1.1" stroke="#333" stroke-width="0.6" fill="none"/>
<text x="30.3" y="91.5" font-size="8.9" text-anchor="end" fill="#333">10<tspan font-size="5.4" dy="-3.6">0</tspan></text>
<text x="30.3" y="58.1" font-size="8.9" text-anchor="end" fill="#333">10<tspan font-size="5.4" dy="-3.6">1</tspan></text>
<text x="30.3" y="24.7" font-size="8.9" text-anchor="end" fill="#333">10<tspan font-size="5.4" dy="-3.6">2</tspan></text>
<text x="50.4" y="119" font-size="8.9" text-anchor="start" fill="#333">10<tspan font-size="5.4" dy="-3.6">0</tspan></text>
<text x="86.2" y="119" font-size="8.9" text-anchor="start" fill="#333">10<tspan font-size="5.4" dy="-3.6">1</tspan></text>
<text x="121.9" y="119" font-size="8.9" text-anchor="start" fill="#333">10<tspan font-size="5.4" dy="-3.6">2</tspan></text>
<text x="53.1" y="130.3" font-size="10.5" text-anchor="start" fill="#222">τ</text>
<text x="58.3" y="131.9" font-size="7.2" text-anchor="start" fill="#333" textLength="27.7" lengthAdjust="spacingAndGlyphs">b,median</text>
<text x="89.9" y="130.4" font-size="11.2" text-anchor="start" fill="#222" textLength="11.9" lengthAdjust="spacingAndGlyphs">(s)</text>
<g transform="translate(0,91.1) rotate(-90)">
<text x="0.2" y="9.4" font-size="12" text-anchor="start" fill="#222">τ</text>
<text x="6.6" y="11.1" font-size="7.5" text-anchor="start" fill="#333" textLength="30.2" lengthAdjust="spacingAndGlyphs">ub,median</text>
<text x="41.2" y="10.6" font-size="11.2" text-anchor="start" fill="#222" textLength="10.9" lengthAdjust="spacingAndGlyphs">(s)</text>
</g>
<circle cx="37" cy="28.9" r="3" fill="#f52828"/>
<text x="41.9" y="31.9" font-size="8.1" text-anchor="start" fill="#333" textLength="39.2" lengthAdjust="spacingAndGlyphs">Experimental</text>
<path d="M89.4,26.3l4.6,4.6M89.4,30.9l4.6,-4.6" stroke="#1a1af5" stroke-width="1.5"/>
<text x="96.9" y="31.9" font-size="8.1" text-anchor="start" fill="#333" textLength="30.2" lengthAdjust="spacingAndGlyphs">Simulated</text>
<polyline points="35.8,19.4 35.8,17.2 38,17.2 38,19.4 40.2,19.4 40.2,13.5 42,13.5 42,19.4 44.2,19.4 44.2,10.2 45.7,10.2 45.7,2.2 49,2.2 49,1.4 51.2,1.4 51.2,1 53.4,1 53.4,4.4 57,4.4 57,5.4 59.2,5.4 59.2,8.4 60.7,8.4 60.7,9.4 62.1,9.4 62.1,14.5 63.6,14.5 63.6,16.3 66.5,16.3 66.5,17.4 68.7,17.4 68.7,18.2 79.6,18.2 79.6,18.9 92,18.9 92,19.4" fill="none" stroke="#f52020" stroke-width="0.8"/>
<polyline points="45.7,19.4 45.7,15.7 47.5,15.7 47.5,13.1 49.3,13.1 49.3,9.5 51.2,9.5 51.2,6.9 52.6,6.9 52.6,3.6 54.5,3.6 54.5,2.2 55.5,2.2 55.5,1.1 57.7,1.1 57.7,3.3 59.6,3.3 59.6,12.8 60.7,12.8 60.7,13.9 62.1,13.9 62.1,17.2 63.6,17.2 63.6,18.6 66.5,18.6 66.5,19.4" fill="none" stroke="#2424f0" stroke-width="0.8"/>
<polyline points="128.3,54.9 129.5,54.9 129.5,59.9 130.8,59.9 130.8,64.8 132.4,64.8 132.4,67.3 134.9,67.3 134.9,70.6 138.2,70.6 138.2,73.1 140.7,73.1 140.7,75.5 148.9,75.5 148.9,78.8 148.9,78.8 148.9,80.5 143.2,80.5 143.2,82.1 138.2,82.1 138.2,83.8 133.2,83.8 133.2,86.2 130.8,86.2 130.8,88.7 129.5,88.7 129.5,92.8 128.3,92.8" fill="none" stroke="#f52020" stroke-width="0.8"/>
<polyline points="128.3,66.5 131.6,66.5 131.6,69 134.1,69 134.1,71.4 139,71.4 139,73.9 142.3,73.9 142.3,76.4 148.1,76.4 148.1,78.8 144,78.8 144,80.5 139,80.5 139,83 132.4,83 132.4,85.4 129.2,85.4 129.2,87.1 128.3,87.1" fill="none" stroke="#2424f0" stroke-width="0.8"/>
<rect x="200.5" y="47.5" width="1" height="10.9" fill="#ff3030" fill-opacity="0.25"/>
<rect x="203" y="34" width="2.3" height="24.4" fill="#ff3030" fill-opacity="0.1"/>
<rect x="212" y="34" width="1.9" height="24.4" fill="#ff3030" fill-opacity="0.1"/>
<rect x="214.5" y="34" width="2.6" height="24.4" fill="#ff3030" fill-opacity="0.1"/>
<rect x="220" y="36" width="2" height="22.4" fill="#ff3030" fill-opacity="0.25"/>
<rect x="223" y="34" width="2" height="24.4" fill="#ff3030" fill-opacity="0.1"/>
<rect x="254.3" y="53.4" width="0.7" height="5" fill="#ff3030" fill-opacity="0.25"/>
<rect x="261" y="34" width="1" height="24.4" fill="#ff3030" fill-opacity="0.1"/>
<rect x="264" y="34" width="2" height="24.4" fill="#ff3030" fill-opacity="0.1"/>
<rect x="267.7" y="34" width="2.3" height="24.4" fill="#ff3030" fill-opacity="0.1"/>
<rect x="270.3" y="34" width="1.2" height="24.4" fill="#ff3030" fill-opacity="0.1"/>
<rect x="272.9" y="34" width="2.1" height="24.4" fill="#ff3030" fill-opacity="0.1"/>
<rect x="277.7" y="34" width="1.7" height="24.4" fill="#ff3030" fill-opacity="0.1"/>
<rect x="280.8" y="34" width="1.6" height="24.4" fill="#ff3030" fill-opacity="0.1"/>
<rect x="283.5" y="34" width="1.2" height="24.4" fill="#ff3030" fill-opacity="0.1"/>
<rect x="298.8" y="34" width="2.2" height="24.4" fill="#ff3030" fill-opacity="0.1"/>
<rect x="319.3" y="33.5" width="2.5" height="24.9" fill="#ff3030" fill-opacity="0.1"/>
<rect x="322.6" y="33.5" width="4.6" height="24.9" fill="#ff3030" fill-opacity="0.05"/>
<rect x="328.5" y="33.5" width="1.3" height="24.9" fill="#ff3030" fill-opacity="0.1"/>
<rect x="330.3" y="33.5" width="4.5" height="24.9" fill="#ff3030" fill-opacity="0.05"/>
<rect x="335.8" y="33.5" width="3.4" height="24.9" fill="#ff3030" fill-opacity="0.05"/>
<rect x="334.8" y="47.5" width="1" height="10.9" fill="#ff3030" fill-opacity="0.1"/>
<rect x="360.5" y="35" width="1" height="23.4" fill="#ff3030" fill-opacity="0.1"/>
<rect x="365.7" y="34" width="2.2" height="24.4" fill="#ff3030" fill-opacity="0.1"/>
<rect x="373.1" y="34" width="2.9" height="24.4" fill="#ff3030" fill-opacity="0.05"/>
<polyline points="180.1,58.4 200.5,58.4 200.5,47.5 201.5,47.5 201.5,58.4 203,58.4 203,34 205.3,34 205.3,58.4 212,58.4 212,34 213.9,34 213.9,58.4 214.5,58.4 214.5,34 217.1,34 217.1,58.4 220,58.4 220,36 222,36 222,58.4 223,58.4 223,34 225,34 225,58.4 254.3,58.4 254.3,53.4 255,53.4 255,58.4 261,58.4 261,34 262,34 262,58.4 264,58.4 264,34 266,34 266,58.4 267.7,58.4 267.7,34 270,34 270,58.4 270.3,58.4 270.3,34 271.5,34 271.5,58.4 272.9,58.4 272.9,34 275,34 275,58.4 277.7,58.4 277.7,34 279.4,34 279.4,58.4 280.8,58.4 280.8,34 282.4,34 282.4,58.4 283.5,58.4 283.5,34 284.7,34 284.7,58.4 298.8,58.4 298.8,34 301,34 301,58.4 319.3,58.4 319.3,33.5 321.8,33.5 321.8,58.4 322.6,58.4 322.6,33.5 327.2,33.5 327.2,58.4 328.5,58.4 328.5,33.5 329.8,33.5 329.8,58.4 330.3,58.4 330.3,33.5 334.8,33.5 334.8,58.4 334.8,58.4 334.8,47.5 335.8,47.5 335.8,58.4 335.8,58.4 335.8,33.5 339.2,33.5 339.2,58.4 360.5,58.4 360.5,35 361.5,35 361.5,58.4 365.7,58.4 365.7,34 367.9,34 367.9,58.4 373.1,58.4 373.1,34 376,34 376,58.4 376.8,58.4" fill="none" stroke="#ff1414" stroke-width="0.8"/>
<path d="M180.2,56.7L180.5,58.8L180.8,59.5L181.1,59.7L181.4,57.6L181.7,56.8L182,57.3L182.3,56.4L182.6,59L182.9,56.6L183.2,58.3L183.5,57.1L183.8,60.5L184.1,57.3L184.4,57.9L184.7,58.6L185,61.8L185.3,59.5L185.6,58.8L185.9,58.7L186.2,59.3L186.5,58.5L186.8,56.6L187.1,57.4L187.4,58.9L187.7,60L188,58L188.3,58.9L188.6,60.2L188.9,59.2L189.2,58.7L189.5,61L189.8,58.2L190.1,57.3L190.4,56.5L190.7,61.6L191,56.9L191.3,61.1L191.6,58.9L191.9,58L192.2,59.2L192.5,60.6L192.8,60.5L193.1,58L193.4,58.4L193.7,58.2L194,57.1L194.3,57.6L194.6,61.4L194.9,58.3L195.2,58.3L195.5,60.5L195.8,57.1L196.1,61.1L196.4,59.8L196.7,57.9L197,58.2L197.3,57.8L197.6,60.7L197.9,57.8L198.2,58.2L198.5,58.5L198.8,58L199.1,58.8L199.4,60.2L199.7,60.7L200,56.6L200.3,56L200.6,56.6L200.9,58.3L201.2,57.9L201.5,61L201.8,58.4L202.1,61.1L202.4,58.3L202.7,58.6M203,39.2L203.3,35.4L203.6,36.8L203.9,35.8L204.2,34.2L204.5,36.2L204.8,37.8L205.1,34.5M205.4,58.3L205.7,61.6L206,60.1L206.3,56.8L206.6,57.5L206.9,58.1L207.2,56.1L207.5,56.7L207.8,57.4L208.1,58.6L208.4,58.6L208.7,56.8L209,57.6L209.3,59.7L209.6,59.1L209.9,61.2L210.2,56.3L210.5,60.6L210.8,57.9L211.1,58.5L211.4,56.2L211.7,56.3M212,38.2L212.3,34.8L212.6,37.2L212.9,37L213.2,37.2L213.5,39L213.8,34.6M214.1,61.5L214.4,58.2M214.7,35.8L215,36.3L215.3,35.3L215.6,36.2L215.9,35.1L216.2,34.2L216.5,37.8L216.8,37M217.1,57.3L217.4,59.5L217.7,57.6L218,59.5L218.3,60.1L218.6,58.5L218.9,62.3L219.2,58L219.5,60.3L219.8,57L220.1,59.5L220.4,57.7L220.7,56.5L221,59.2L221.3,59.1L221.6,63.9L221.9,55.9L222.2,54.1L222.5,59.1L222.8,58.8M223.1,36.7L223.4,34.6L223.7,35.5L224,34.9L224.3,35.5L224.6,36.4L224.9,38.3M225.2,55.9L225.5,58.5L225.8,60.5L226.1,57.2L226.4,56.7L226.7,59.1L227,59.8L227.3,58L227.6,61.3L227.9,58.9L228.2,59.7L228.5,62.7L228.8,61.8L229.1,54.5L229.4,55.8L229.7,58.2L230,58.5L230.3,61.2L230.6,57.2L230.9,58.9L231.2,60L231.5,60.5L231.8,59.5L232.1,60.2L232.4,56.4L232.7,56L233,61.3L233.3,57.6L233.6,56.8L233.9,57.9L234.2,58L234.5,57.9L234.8,57.4L235.1,59.4L235.4,57.8L235.7,57.7L236,58.7L236.3,59.9L236.6,57.3L236.9,57.2L237.2,58.7L237.5,57.6L237.8,58.7L238.1,58.8L238.4,57.8L238.7,57.6L239,60.2L239.3,58L239.6,59.1L239.9,57.4L240.2,58L240.5,60L240.8,61.9L241.1,58.1L241.4,58.5L241.7,56.6L242,56.2L242.3,62.6L242.6,57.1L242.9,57.5L243.2,59.3L243.5,59.4L243.8,57.7L244.1,60.3L244.4,58.7L244.7,58.1L245,59.7L245.3,58.2L245.6,58L245.9,56.2L246.2,59.4L246.5,57L246.8,56.6L247.1,59L247.4,57.3L247.7,58.5L248,58.7L248.3,57.2L248.6,58.8L248.9,54.6L249.2,60.5L249.5,58.1L249.8,57.6L250.1,58.1L250.4,59.5L250.7,59.9L251,58.6L251.3,58.9L251.6,55.2L251.9,58.5L252.2,59.4L252.5,60.9L252.8,60L253.1,59.8L253.4,57.2L253.7,56.2L254,54.1L254.3,57.2L254.6,57.4L254.9,58.4L255.2,57.7L255.5,60.1L255.8,58.5L256.1,61.7L256.4,58.6L256.7,55.3L257,56.6L257.3,61.6L257.6,56L257.9,61.3L258.2,58.5L258.5,55.2L258.8,55.5L259.1,61.9L259.4,60.1L259.7,59.5L260,61.4L260.3,58.9L260.6,57.7L260.9,60.1M261.2,36.3L261.5,35.6L261.8,34M262.1,58.4L262.4,57L262.7,57.2L263,56.9L263.3,57.9L263.6,57.7L263.9,60.7M264.2,33.4L264.5,35.9L264.8,35.8L265.1,35.7L265.4,37.7L265.7,35.8M266,59.9L266.3,59.9L266.6,59.8L266.9,60L267.2,58.9L267.5,59.1M267.8,37.3L268.1,38.1L268.4,36.4L268.7,37.5L269,35.5L269.3,36.4L269.6,37.1L269.9,35.9M270.2,60.9L270.5,60.9M270.5,37.6L270.8,35L271.1,35.6L271.4,36M271.7,56.3L272,58.8L272.3,56.1L272.6,61.6M272.9,34.3L273.2,38L273.5,35.8L273.8,34.6L274.1,35.7L274.4,37.2L274.7,33.6M275,59.2L275.3,57.4L275.6,59.2L275.9,59.2L276.2,59.2L276.5,58.2L276.8,60.4L277.1,57.8L277.4,58M277.7,36.7L278,36.9L278.3,37.2L278.6,37.3L278.9,35L279.2,37.9M279.5,61.3L279.8,60L280.1,56.2L280.4,58.1L280.7,55.6M281,35.3L281.3,37L281.6,35.7L281.9,36.8L282.2,37.1M282.5,57.5L282.8,59.3L283.1,58.6L283.4,60.2M283.7,35.9L284,38.6L284.3,36.3L284.6,37.1M284.9,55.6L285.2,56.7L285.5,57.9L285.8,57.8L286.1,56.1L286.4,58.1L286.7,58.7L287,55.2L287.3,57.4L287.6,56.7L287.9,57.4L288.2,56.9L288.5,60.4L288.8,60.6L289.1,58.6L289.4,59.3L289.7,60.3L290,59.6L290.3,56.8L290.6,61L290.9,58L291.2,60.1L291.5,59.7L291.8,57.2L292.1,59.2L292.4,60.7L292.7,56.2L293,59.3L293.3,58.6L293.6,57.4L293.9,57.1L294.2,55.9L294.5,59.7L294.8,56.4L295.1,58.1L295.4,60L295.7,55.4L296,60.5L296.3,57.8L296.6,59.9L296.9,58.6L297.2,57.2L297.5,58.4L297.8,58.3L298.1,57.4L298.4,55.6L298.7,56.9M299,34.5L299.3,34.8L299.6,36.3L299.9,35L300.2,35.4L300.5,35.6L300.8,36.2M301.1,59.5L301.4,60.7L301.7,59.4L302,54.5L302.3,59.8L302.6,58.1L302.9,59.6L303.2,59.9L303.5,58.6L303.8,58.8L304.1,57.2L304.4,57.3L304.7,59.9L305,57.6L305.3,59.3L305.6,60.3L305.9,59L306.2,59.8L306.5,60.5L306.8,60.2L307.1,57.7L307.4,54.9L307.7,59.5L308,55.9L308.3,58.9L308.6,61.5L308.9,58.6L309.2,60.1L309.5,59.2L309.8,56.5L310.1,58.8L310.4,57.9L310.7,55.9L311,58L311.3,55.2L311.6,56.6L311.9,58L312.2,61.4L312.5,58.8L312.8,56.7L313.1,56.7L313.4,59.5L313.7,59.8L314,56.3L314.3,56.3L314.6,57.7L314.9,54.6L315.2,58.4L315.5,61.1L315.8,58.1L316.1,59.4L316.4,57.1L316.7,58.2L317,58.2L317.3,57.3L317.6,58.8L317.9,58.5L318.2,58.5L318.5,56.3L318.8,61.5L319.1,61.7M319.4,35.5L319.7,35L320,36.3L320.3,35.9L320.6,35.9L320.9,36.5L321.2,35.5L321.5,34.7M321.8,58.3L322.1,59.1L322.4,58.2M322.7,34.5L323,37.3L323.3,35.2L323.6,31.8L323.9,35.4L324.2,34.9L324.5,33.6L324.8,35.8L325.1,33.4L325.4,37.3L325.7,37.3L326,34.9L326.3,34.8L326.6,35.3L326.9,38.8M327.2,57.5L327.5,59.5L327.8,58.5L328.1,60.4L328.4,57.3M328.7,35.2L329,33.6L329.3,34.3L329.6,33.6M329.9,58.9L330.2,60M330.5,34.8L330.8,34.3L331.1,36.6L331.4,35.5L331.7,34.6L332,37.2L332.3,35.9L332.6,34.9L332.9,35.6L333.2,34.2L333.5,35.3L333.8,35.2L334.1,35.5L334.4,37.9L334.7,35.7M335,47.1L335.3,47.7L335.6,48.7M335.9,36.1L336.2,35.1L336.5,35.9L336.8,36.1L337.1,39.7L337.4,35.2L337.7,33L338,34.6L338.3,38.2L338.6,33.7L338.9,34M339.2,62.6L339.5,59.3L339.8,59.7L340.1,61L340.4,57.1L340.7,58.6L341,58.4L341.3,57L341.6,56.6L341.9,59.9L342.2,56.6L342.5,58.4L342.8,59.4L343.1,55.6L343.4,60.1L343.7,60.2L344,59.1L344.3,57.2L344.6,58.8L344.9,57.8L345.2,57.3L345.5,58.9L345.8,59.3L346.1,56.3L346.4,60.4L346.7,57.4L347,57.5L347.3,60.4L347.6,58.2L347.9,58.9L348.2,55.4L348.5,59L348.8,57.8L349.1,57L349.4,57.8L349.7,55.7L350,57.5L350.3,59.9L350.6,58.4L350.9,60.3L351.2,58.3L351.5,56.8L351.8,56.8L352.1,55.8L352.4,58.2L352.7,57.5L353,55.9L353.3,58.2L353.6,58.5L353.9,58.5L354.2,58.6L354.5,59.1L354.8,59L355.1,58.2L355.4,58.5L355.7,61.6L356,58L356.3,58.8L356.6,56.9L356.9,59.2L357.2,58.4L357.5,59.3L357.8,54.1L358.1,58.9L358.4,55.4L358.7,60.9L359,57.6L359.3,59.4L359.6,57.9L359.9,58.9L360.2,58.7M360.5,39L360.8,37.9L361.1,35.7L361.4,40.7M361.7,59.5L362,59L362.3,56L362.6,57.9L362.9,58.1L363.2,57.8L363.5,60.6L363.8,61.1L364.1,58.4L364.4,57.7L364.7,58.9L365,58.2L365.3,58.2L365.6,60M365.9,36.2L366.2,37.8L366.5,36.3L366.8,36.9L367.1,35.1L367.4,38.7L367.7,34.3M368,56.5L368.3,59L368.6,57.5L368.9,55.7L369.2,59.8L369.5,58.9L369.8,58.9L370.1,60.5L370.4,61L370.7,55L371,55.2L371.3,57.3L371.6,59.5L371.9,61.3L372.2,58.2L372.5,59L372.8,60.3M373.1,34.1L373.4,37.2L373.7,34.4L374,37.4L374.3,35.1L374.6,35.5L374.9,34.9L375.2,39.2L375.5,35.5L375.8,36M376.1,59.5L376.4,56.9" stroke="#0a0a0a" stroke-width="0.9" fill="none"/>
<rect x="179.6" y="23.4" width="197.7" height="40.3" fill="none" stroke="#333" stroke-width="0.75"/>
<rect x="180" y="26.2" width="31.5" height="2.3" fill="#ee1c1c"/>
<rect x="211.5" y="26.2" width="14.5" height="2.3" fill="#4ee62a"/>
<rect x="226" y="26.2" width="35" height="2.3" fill="#ee1c1c"/>
<rect x="261" y="26.2" width="23" height="2.3" fill="#4ee62a"/>
<rect x="284" y="26.2" width="34.9" height="2.3" fill="#ee1c1c"/>
<rect x="318.9" y="26.2" width="21.2" height="2.3" fill="#4ee62a"/>
<rect x="340.1" y="26.2" width="24.1" height="2.3" fill="#ee1c1c"/>
<rect x="364.2" y="26.2" width="12.8" height="2.3" fill="#4ee62a"/>
<text x="177.6" y="38.5" font-size="9.4" text-anchor="end" fill="#222" textLength="19.6" lengthAdjust="spacingAndGlyphs">4000</text>
<text x="177.6" y="50" font-size="9.4" text-anchor="end" fill="#222" textLength="19.6" lengthAdjust="spacingAndGlyphs">2000</text>
<text x="177.6" y="61.4" font-size="9.4" text-anchor="end" fill="#222" textLength="4.9" lengthAdjust="spacingAndGlyphs">0</text>
<path d="M180.3,63.7v-1.5M180.3,23.4v1.5M200,63.7v-1.5M200,23.4v1.5M219.7,63.7v-1.5M219.7,23.4v1.5M239.4,63.7v-1.5M239.4,23.4v1.5M259.1,63.7v-1.5M259.1,23.4v1.5M278.8,63.7v-1.5M278.8,23.4v1.5M298.5,63.7v-1.5M298.5,23.4v1.5M318.2,63.7v-1.5M318.2,23.4v1.5M337.9,63.7v-1.5M337.9,23.4v1.5M357.6,63.7v-1.5M357.6,23.4v1.5M377.3,63.7v-1.5M377.3,23.4v1.5M179.6,35.4h-1.6M179.6,46.9h-1.6M179.6,58.3h-1.6" stroke="#333" stroke-width="0.6" fill="none"/>
<rect x="180.8" y="84" width="1.8" height="24.8" fill="#ff3030" fill-opacity="0.55"/>
<rect x="185" y="79" width="2.2" height="29.8" fill="#ff3030" fill-opacity="0.55"/>
<rect x="187.6" y="78" width="2.4" height="30.8" fill="#ff3030" fill-opacity="0.55"/>
<rect x="191" y="78" width="2.2" height="30.8" fill="#ff3030" fill-opacity="0.55"/>
<rect x="196.5" y="79" width="1.8" height="29.8" fill="#ff3030" fill-opacity="0.55"/>
<rect x="198.7" y="78" width="4.3" height="30.8" fill="#ff3030" fill-opacity="0.55"/>
<rect x="205.7" y="78" width="1.9" height="30.8" fill="#ff3030" fill-opacity="0.55"/>
<rect x="208.5" y="78" width="1.3" height="30.8" fill="#ff3030" fill-opacity="0.55"/>
<rect x="212.2" y="78" width="2.8" height="30.8" fill="#ff3030" fill-opacity="0.55"/>
<rect x="225.1" y="101.7" width="0.7" height="7.1" fill="#ff3030" fill-opacity="0.1"/>
<rect x="305.7" y="99.9" width="0.6" height="8.9" fill="#ff3030" fill-opacity="0.1"/>
<rect x="325.1" y="74" width="1.9" height="34.8" fill="#ff3030" fill-opacity="0.1"/>
<rect x="328.3" y="76" width="1.1" height="32.8" fill="#ff3030" fill-opacity="0.1"/>
<rect x="330.1" y="72" width="7" height="36.8" fill="#ff3030" fill-opacity="0.05"/>
<rect x="339" y="98" width="0.6" height="10.8" fill="#ff3030" fill-opacity="0.1"/>
<rect x="339.9" y="102" width="0.6" height="6.8" fill="#ff3030" fill-opacity="0.1"/>
<rect x="344" y="80.5" width="1" height="28.3" fill="#ff3030" fill-opacity="0.1"/>
<rect x="352.9" y="72" width="1.8" height="36.8" fill="#ff3030" fill-opacity="0.1"/>
<rect x="355.6" y="72" width="1" height="36.8" fill="#ff3030" fill-opacity="0.1"/>
<rect x="357.1" y="72" width="3.2" height="36.8" fill="#ff3030" fill-opacity="0.05"/>
<rect x="366.4" y="95" width="1.1" height="13.8" fill="#ff3030" fill-opacity="0.1"/>
<rect x="369.5" y="76" width="1.3" height="32.8" fill="#ff3030" fill-opacity="0.1"/>
<rect x="371.3" y="101.7" width="1.2" height="7.1" fill="#ff3030" fill-opacity="0.1"/>
<rect x="373.2" y="72" width="2.8" height="36.8" fill="#ff3030" fill-opacity="0.05"/>
<polyline points="180.1,108.8 180.8,108.8 180.8,84 182.6,84 182.6,108.8 185,108.8 185,79 187.2,79 187.2,108.8 187.6,108.8 187.6,78 190,78 190,108.8 191,108.8 191,78 193.2,78 193.2,108.8 196.5,108.8 196.5,79 198.3,79 198.3,108.8 198.7,108.8 198.7,78 203,78 203,108.8 205.7,108.8 205.7,78 207.6,78 207.6,108.8 208.5,108.8 208.5,78 209.8,78 209.8,108.8 212.2,108.8 212.2,78 215,78 215,108.8 225.1,108.8 225.1,101.7 225.8,101.7 225.8,108.8 305.7,108.8 305.7,99.9 306.3,99.9 306.3,108.8 325.1,108.8 325.1,74 327,74 327,108.8 328.3,108.8 328.3,76 329.4,76 329.4,108.8 330.1,108.8 330.1,72 337.1,72 337.1,108.8 339,108.8 339,98 339.6,98 339.6,108.8 339.9,108.8 339.9,102 340.5,102 340.5,108.8 344,108.8 344,80.5 345,80.5 345,108.8 352.9,108.8 352.9,72 354.7,72 354.7,108.8 355.6,108.8 355.6,72 356.6,72 356.6,108.8 357.1,108.8 357.1,72 360.3,72 360.3,108.8 366.4,108.8 366.4,95 367.5,95 367.5,108.8 369.5,108.8 369.5,76 370.8,76 370.8,108.8 371.3,108.8 371.3,101.7 372.5,101.7 372.5,108.8 373.2,108.8 373.2,72 376,72 376,108.8 376.8,108.8" fill="none" stroke="#ff1414" stroke-width="0.8"/>
<path d="M180.2,107.3L180.5,110.6M180.8,85.4L181.1,87.8L181.4,83.6L181.7,86.6L182,85.2L182.3,85.4M182.6,109.5L182.9,105.6L183.2,110.3L183.5,112.4L183.8,108.8L184.1,109.7L184.4,113.5L184.7,108.1L185,110L185.3,109.6L185.6,106.6L185.9,108.7L186.2,107.6L186.5,107.5L186.8,108.3L187.1,110.1L187.4,107.5M187.7,81.3L188,81.3L188.3,79.6L188.6,79.8L188.9,80.7L189.2,80.1L189.5,80.2L189.8,81M190.1,110.2L190.4,104.7L190.7,105.9M191,80.2L191.3,81.9L191.6,80.9L191.9,80.9L192.2,79.3L192.5,81.1L192.8,81.9L193.1,78.9M193.4,108.2L193.7,110.2L194,109.8L194.3,108.4L194.6,105L194.9,112.6L195.2,109.6L195.5,106L195.8,107L196.1,109.5L196.4,107.8L196.7,107.6L197,107.4L197.3,110.1L197.6,110L197.9,112.8L198.2,112.3L198.5,110.3M198.8,81.2L199.1,81.2L199.4,81.9L199.7,81.2L200,77.4L200.3,79.9L200.6,80.7L200.9,80.1L201.2,79.8L201.5,81.3L201.8,80.7L202.1,79.2L202.4,83.6L202.7,80.6M203,105.8L203.3,108.1L203.6,108.2L203.9,109.1L204.2,109.1L204.5,110.4L204.8,107.3L205.1,107.6L205.4,109.3M205.7,79.6L206,80.4L206.3,81L206.6,79.7L206.9,80.5L207.2,78.5L207.5,78.6M207.8,106.3L208.1,112L208.4,110.4M208.7,81.7L209,78.7L209.3,79.8L209.6,82.1M209.9,110.4L210.2,109.6L210.5,108L210.8,110.2L211.1,109L211.4,106.9L211.7,111.4L212,107.7M212.3,80.2L212.6,83.2L212.9,80.9L213.2,79.2L213.5,79.2L213.8,83.2L214.1,80.5L214.4,80.3L214.7,80.4M215,110.2L215.3,107.3L215.6,111L215.9,110.5L216.2,110.8L216.5,109.5L216.8,108.6L217.1,108.6L217.4,110L217.7,108.3L218,108L218.3,107.4L218.6,108.9L218.9,108.1L219.2,111.6L219.5,107.3L219.8,109.7L220.1,109.3L220.4,108.5L220.7,108.1L221,108.4L221.3,108L221.6,106.1L221.9,108.1L222.2,110.1L222.5,110.8L222.8,107.6L223.1,106.6L223.4,107.5L223.7,108.9L224,110.4L224.3,112.1L224.6,109.8L224.9,110.2M225.2,103.6L225.5,103M225.8,109.9L226.1,109.9L226.4,105.8L226.7,107.2L227,110.4L227.3,108L227.6,111.2L227.9,106.7L228.2,107.7L228.5,109.2L228.8,107.5L229.1,107L229.4,108.6L229.7,109.6L230,108.9L230.3,109.1L230.6,109.9L230.9,110.7L231.2,108.5L231.5,108.4L231.8,109.6L232.1,106.6L232.4,108.5L232.7,106.3L233,109.5L233.3,110.8L233.6,107.3L233.9,109.2L234.2,109L234.5,108L234.8,107.3L235.1,108.5L235.4,107.7L235.7,107.1L236,110.2L236.3,109L236.6,110.2L236.9,109.3L237.2,110.6L237.5,108.3L237.8,107.3L238.1,110.2L238.4,109.2L238.7,107.9L239,106.5L239.3,109.7L239.6,107L239.9,109.9L240.2,109.4L240.5,107.1L240.8,113.7L241.1,111.1L241.4,109.7L241.7,109.3L242,111.2L242.3,109L242.6,107.5L242.9,110.3L243.2,114.5L243.5,113.5L243.8,109.3L244.1,110.1L244.4,108.8L244.7,104.4L245,110.5L245.3,110.4L245.6,105.1L245.9,108L246.2,110.5L246.5,106.7L246.8,108.7L247.1,105.4L247.4,112L247.7,111L248,108.8L248.3,107.5L248.6,110.5L248.9,106.6L249.2,109.8L249.5,107.2L249.8,108.9L250.1,103.9L250.4,109.5L250.7,107.2L251,108.5L251.3,108.3L251.6,109.1L251.9,106.3L252.2,110.4L252.5,109L252.8,109.4L253.1,108.2L253.4,108.6L253.7,110.5L254,104.1L254.3,106.1L254.6,105.9L254.9,107.6L255.2,107L255.5,107.6L255.8,107.4L256.1,107.3L256.4,106L256.7,109.2L257,108.9L257.3,108.4L257.6,109.6L257.9,110.7L258.2,108.8L258.5,107.4L258.8,106.1L259.1,109.5L259.4,107.3L259.7,108.1L260,108.9L260.3,108L260.6,108.5L260.9,109.5L261.2,107.3L261.5,109.3L261.8,108.2L262.1,108.5L262.4,110.4L262.7,109.8L263,111.3L263.3,110.3L263.6,108.8L263.9,108.7L264.2,110.9L264.5,107.3L264.8,108.1L265.1,109.1L265.4,106.6L265.7,106.7L266,108.5L266.3,108.6L266.6,110.2L266.9,109.2L267.2,107.1L267.5,107.4L267.8,103.1L268.1,105.3L268.4,108.5L268.7,109.9L269,108L269.3,107.8L269.6,109L269.9,106.7L270.2,111.8L270.5,109.5L270.8,106.9L271.1,109.1L271.4,109.5L271.7,105.2L272,109L272.3,107.8L272.6,106.6L272.9,106.3L273.2,111L273.5,106L273.8,109.3L274.1,111.3L274.4,107.2L274.7,110.5L275,109.1L275.3,109.2L275.6,108.7L275.9,108.2L276.2,108L276.5,105.5L276.8,107.9L277.1,107.1L277.4,109.8L277.7,108.7L278,108.4L278.3,107.8L278.6,106.6L278.9,107.7L279.2,109L279.5,110L279.8,107.3L280.1,108.1L280.4,105.2L280.7,110L281,106.6L281.3,110.1L281.6,108.2L281.9,111.1L282.2,111.5L282.5,105.4L282.8,112.2L283.1,106L283.4,108.5L283.7,110.2L284,109.3L284.3,111.3L284.6,108L284.9,110.2L285.2,109.2L285.5,107.7L285.8,109L286.1,109.8L286.4,109.6L286.7,107.8L287,111.3L287.3,110.6L287.6,109L287.9,109.5L288.2,107.7L288.5,107.6L288.8,108L289.1,109.6L289.4,111.6L289.7,107.3L290,108.2L290.3,105.1L290.6,109.5L290.9,106.1L291.2,109.1L291.5,109.3L291.8,108.4L292.1,109.4L292.4,109.9L292.7,108.7L293,108.4L293.3,106.3L293.6,104.6L293.9,106.7L294.2,104.8L294.5,108.8L294.8,108L295.1,108.4L295.4,107.8L295.7,110.3L296,109.7L296.3,107.1L296.6,114.9L296.9,107.2L297.2,107.5L297.5,111L297.8,107.9L298.1,109.4L298.4,109.1L298.7,106.5L299,110.7L299.3,110.8L299.6,108.1L299.9,107.5L300.2,111.9L300.5,108.2L300.8,107.1L301.1,107.6L301.4,107.7L301.7,109.9L302,109.9L302.3,109.8L302.6,108.4L302.9,107.9L303.2,106.6L303.5,106.9L303.8,107.9L304.1,108.5L304.4,109.4L304.7,107.6L305,107.9L305.3,110.4L305.6,105.5M305.9,103L306.2,99.2M306.5,109.2L306.8,109.5L307.1,108.4L307.4,110.2L307.7,108.1L308,112.2L308.3,109.4L308.6,108L308.9,106.5L309.2,111L309.5,109.6L309.8,107.5L310.1,111.9L310.4,110.3L310.7,111.9L311,110.9L311.3,107.3L311.6,108L311.9,111.5L312.2,108.3L312.5,112.1L312.8,107.8L313.1,107L313.4,107.5L313.7,109.9L314,112L314.3,107.1L314.6,109.6L314.9,109.8L315.2,108.4L315.5,107.8L315.8,110L316.1,110.2L316.4,112.3L316.7,108.7L317,108.8L317.3,109.6L317.6,110.9L317.9,107.3L318.2,108.2L318.5,110.4L318.8,109.7L319.1,116.5L319.4,108.4L319.7,109.9L320,109.4L320.3,108.3L320.6,108L320.9,107.6L321.2,110.2L321.5,108.8L321.8,110L322.1,105.7L322.4,108.6L322.7,108.4L323,109L323.3,108.3L323.6,107.4L323.9,108.4L324.2,108.8L324.5,106.1L324.8,110.4M325.1,77.1L325.4,76.5L325.7,77.2L326,79.4L326.3,74.5L326.6,76.9L326.9,78.3M327.2,105.7L327.5,108.7L327.8,107.2L328.1,111.5M328.4,76.2L328.7,76.9L329,77.7L329.3,77.2M329.6,109.6L329.9,111.6M330.2,72.6L330.5,74.9L330.8,72.5L331.1,73.4L331.4,74.7L331.7,74.2L332,74.6L332.3,76.1L332.6,76.3L332.9,75.2L333.2,75.3L333.5,72.7L333.8,74.2L334.1,73.3L334.4,74L334.7,73.3L335,76.3L335.3,74.7L335.6,73.7L335.9,74.8L336.2,73.8L336.5,73.2L336.8,71.2M337.1,108.2L337.4,108.7L337.7,110.1L338,113.5L338.3,107.5L338.6,108L338.9,108.5M339.2,101.4L339.5,101.5M339.8,107L340.1,107M340.1,103.4L340.4,104.5M340.7,108.4L341,108.7L341.3,110L341.6,107.4L341.9,109.2L342.2,111.5L342.5,107.8L342.8,110.9L343.1,108.4L343.4,107.4L343.7,108.2M344,84.3L344.3,79.1L344.6,81L344.9,82.9M345.2,107.5L345.5,109.6L345.8,110.9L346.1,109.8L346.4,109.6L346.7,107L347,108.9L347.3,108.9L347.6,107.2L347.9,107.6L348.2,109.3L348.5,109.6L348.8,109.8L349.1,109.8L349.4,107.1L349.7,107.4L350,108.4L350.3,108.8L350.6,111.6L350.9,108.5L351.2,108.2L351.5,106.9L351.8,109.4L352.1,108.5L352.4,105.8L352.7,110.7M353,71.7L353.3,75L353.6,72.7L353.9,75.4L354.2,72.7L354.5,75.8M354.8,111L355.1,108.7L355.4,107.1M355.7,73.5L356,73.8L356.3,72.6M356.6,109L356.9,108.7M357.2,74L357.5,72.4L357.8,75.8L358.1,73.1L358.4,72.2L358.7,73.3L359,71.3L359.3,76.4L359.6,73.1L359.9,73.1L360.2,72.9M360.5,110.8L360.8,110L361.1,106.1L361.4,109L361.7,104.9L362,109.8L362.3,107.7L362.6,106.1L362.9,108.2L363.2,109.6L363.5,107.6L363.8,109.5L364.1,109.1L364.4,109.5L364.7,109.1L365,109.7L365.3,108.5L365.6,107.1L365.9,109L366.2,109.9M366.5,96.6L366.8,95.7L367.1,94.9L367.4,99.4M367.7,110.7L368,107.7L368.3,107.2L368.6,108.6L368.9,108.1L369.2,106.7M369.5,79.4L369.8,77.4L370.1,80.3L370.4,78.2L370.7,79M371,110.8L371.3,110.8M371.3,103.6L371.6,103.4L371.9,102.3L372.2,107.1M372.5,110.3L372.8,109.5L373.1,108.3M373.4,73.5L373.7,73.3L374,74.9L374.3,73.8L374.6,75L374.9,74.9L375.2,72.6L375.5,74.7L375.8,71.8M376.1,107.7L376.4,108.1" stroke="#0a0a0a" stroke-width="0.9" fill="none"/>
<rect x="179.6" y="65.5" width="197.7" height="50.6" fill="none" stroke="#333" stroke-width="0.75"/>
<rect x="180" y="66.9" width="5" height="2.3" fill="#ee1c1c"/>
<rect x="185" y="66.9" width="30" height="2.3" fill="#4ee62a"/>
<rect x="215" y="66.9" width="109.2" height="2.3" fill="#ee1c1c"/>
<rect x="324.2" y="66.9" width="13.3" height="2.3" fill="#4ee62a"/>
<rect x="337.5" y="66.9" width="15.4" height="2.3" fill="#ee1c1c"/>
<rect x="352.9" y="66.9" width="9.2" height="2.3" fill="#4ee62a"/>
<rect x="362.1" y="66.9" width="9.2" height="2.3" fill="#ee1c1c"/>
<rect x="371.3" y="66.9" width="5.7" height="2.3" fill="#4ee62a"/>
<text x="177.6" y="83.1" font-size="9.4" text-anchor="end" fill="#222" textLength="19.6" lengthAdjust="spacingAndGlyphs">4000</text>
<text x="177.6" y="97.4" font-size="9.4" text-anchor="end" fill="#222" textLength="19.6" lengthAdjust="spacingAndGlyphs">2000</text>
<text x="177.6" y="111.7" font-size="9.4" text-anchor="end" fill="#222" textLength="4.9" lengthAdjust="spacingAndGlyphs">0</text>
<path d="M180.3,116.1v-1.5M180.3,65.5v1.5M200,116.1v-1.5M200,65.5v1.5M219.7,116.1v-1.5M219.7,65.5v1.5M239.4,116.1v-1.5M239.4,65.5v1.5M259.1,116.1v-1.5M259.1,65.5v1.5M278.8,116.1v-1.5M278.8,65.5v1.5M298.5,116.1v-1.5M298.5,65.5v1.5M318.2,116.1v-1.5M318.2,65.5v1.5M337.9,116.1v-1.5M337.9,65.5v1.5M357.6,116.1v-1.5M357.6,65.5v1.5M377.3,116.1v-1.5M377.3,65.5v1.5M179.6,80h-1.6M179.6,94.3h-1.6M179.6,108.6h-1.6" stroke="#333" stroke-width="0.6" fill="none"/>
<polygon points="331.3,73.6 335.7,73.6 333.5,69.6" fill="#111" stroke="none" stroke-width="0"/>
<text x="180.3" y="126.6" font-size="9.4" text-anchor="middle" fill="#222" textLength="4.9" lengthAdjust="spacingAndGlyphs">0</text>
<text x="219.7" y="126.6" font-size="9.4" text-anchor="middle" fill="#222" textLength="9.8" lengthAdjust="spacingAndGlyphs">40</text>
<text x="259.1" y="126.6" font-size="9.4" text-anchor="middle" fill="#222" textLength="9.8" lengthAdjust="spacingAndGlyphs">80</text>
<text x="298.5" y="126.6" font-size="9.4" text-anchor="middle" fill="#222" textLength="14.7" lengthAdjust="spacingAndGlyphs">120</text>
<text x="337.9" y="126.6" font-size="9.4" text-anchor="middle" fill="#222" textLength="14.7" lengthAdjust="spacingAndGlyphs">160</text>
<text x="377.3" y="126.6" font-size="9.4" text-anchor="middle" fill="#222" textLength="14.7" lengthAdjust="spacingAndGlyphs">200</text>
<text x="261.3" y="136.8" font-size="9.5" text-anchor="start" fill="#222" textLength="32.1" lengthAdjust="spacingAndGlyphs">Time (s)</text>
<text transform="translate(155,68.8) rotate(-90)" x="0" y="0" font-size="10.6" text-anchor="middle" fill="#222" textLength="75.4" lengthAdjust="spacingAndGlyphs">Fluorescence (a.u)</text>
<text x="261" y="17.9" font-size="9.5" text-anchor="start" fill="#222" textLength="20.8" lengthAdjust="spacingAndGlyphs">Burst</text>
<text x="288.1" y="17.9" font-size="9.5" text-anchor="start" fill="#222" textLength="38.6" lengthAdjust="spacingAndGlyphs">Non-burst</text>
<line x1="272.5" y1="14.2" x2="272.5" y2="21" stroke="#222" stroke-width="0.6"/>
<polygon points="271.2,19.6 273.8,19.6 272.5,22.6" fill="#222" stroke="none" stroke-width="0"/>
<line x1="307.5" y1="14.2" x2="307.5" y2="21" stroke="#222" stroke-width="0.6"/>
<polygon points="306.2,19.6 308.8,19.6 307.5,22.6" fill="#222" stroke="none" stroke-width="0"/>
<rect x="412.4" y="17.9" width="14.3" height="90.4" fill="#3b6cf0" stroke="#6f8494" stroke-width="0.45"/>
<rect x="429.9" y="22.9" width="14.3" height="85.4" fill="#4a93f2" stroke="#6f8494" stroke-width="0.45"/>
<rect x="447.4" y="42.1" width="14.3" height="66.2" fill="#5ea3dd" stroke="#6f8494" stroke-width="0.45"/>
<rect x="464.9" y="80.1" width="14.3" height="28.2" fill="#7cb6dc" stroke="#6f8494" stroke-width="0.45"/>
<rect x="482.4" y="95.2" width="14.3" height="13.1" fill="#98c8e6" stroke="#6f8494" stroke-width="0.45"/>
<rect x="499.9" y="101.1" width="14.3" height="7.2" fill="#acd4ec" stroke="#6f8494" stroke-width="0.45"/>
<rect x="517.4" y="105" width="14.3" height="3.3" fill="#c4e0f2" stroke="#6f8494" stroke-width="0.45"/>
<line x1="419.5" y1="21.3" x2="419.5" y2="16.6" stroke="#111" stroke-width="0.8"/>
<line x1="418" y1="21.3" x2="421" y2="21.3" stroke="#111" stroke-width="0.8"/>
<line x1="418" y1="16.6" x2="421" y2="16.6" stroke="#111" stroke-width="0.8"/>
<circle cx="418" cy="16.2" r="1.4" fill="#f2c14e"/>
<circle cx="421" cy="16.6" r="1.4" fill="#f2c14e"/>
<circle cx="419.5" cy="20.8" r="1.4" fill="#f2c14e"/>
<circle cx="419.5" cy="17.6" r="1.4" fill="#f2c14e"/>
<line x1="437" y1="26.8" x2="437" y2="18.5" stroke="#111" stroke-width="0.8"/>
<line x1="435.5" y1="26.8" x2="438.5" y2="26.8" stroke="#111" stroke-width="0.8"/>
<line x1="435.5" y1="18.5" x2="438.5" y2="18.5" stroke="#111" stroke-width="0.8"/>
<circle cx="437" cy="18.9" r="1.4" fill="#f2c14e"/>
<circle cx="437" cy="23.1" r="1.4" fill="#f2c14e"/>
<circle cx="437" cy="26.8" r="1.4" fill="#f2c14e"/>
<line x1="454.5" y1="43.9" x2="454.5" y2="40.2" stroke="#111" stroke-width="0.8"/>
<line x1="453" y1="43.9" x2="456" y2="43.9" stroke="#111" stroke-width="0.8"/>
<line x1="453" y1="40.2" x2="456" y2="40.2" stroke="#111" stroke-width="0.8"/>
<circle cx="453" cy="40.7" r="1.4" fill="#f2c14e"/>
<circle cx="456" cy="41.2" r="1.4" fill="#f2c14e"/>
<circle cx="454.5" cy="44.4" r="1.4" fill="#f2c14e"/>
<line x1="472" y1="85.6" x2="472" y2="73.1" stroke="#111" stroke-width="0.8"/>
<line x1="470.5" y1="85.6" x2="473.5" y2="85.6" stroke="#111" stroke-width="0.8"/>
<line x1="470.5" y1="73.1" x2="473.5" y2="73.1" stroke="#111" stroke-width="0.8"/>
<circle cx="472" cy="72.2" r="1.4" fill="#f2c14e"/>
<circle cx="472" cy="76.8" r="1.4" fill="#f2c14e"/>
<circle cx="472" cy="85.1" r="1.4" fill="#f2c14e"/>
<line x1="489.5" y1="97.7" x2="489.5" y2="93" stroke="#111" stroke-width="0.8"/>
<line x1="488" y1="97.7" x2="491" y2="97.7" stroke="#111" stroke-width="0.8"/>
<line x1="488" y1="93" x2="491" y2="93" stroke="#111" stroke-width="0.8"/>
<circle cx="487.5" cy="92.6" r="1.4" fill="#f2c14e"/>
<circle cx="491.5" cy="93.9" r="1.4" fill="#f2c14e"/>
<circle cx="489.5" cy="97.2" r="1.4" fill="#f2c14e"/>
<line x1="507" y1="104.1" x2="507" y2="98.1" stroke="#111" stroke-width="0.8"/>
<line x1="505.5" y1="104.1" x2="508.5" y2="104.1" stroke="#111" stroke-width="0.8"/>
<line x1="505.5" y1="98.1" x2="508.5" y2="98.1" stroke="#111" stroke-width="0.8"/>
<circle cx="505.5" cy="97.9" r="1.4" fill="#f2c14e"/>
<circle cx="507" cy="103.5" r="1.4" fill="#f2c14e"/>
<line x1="524.5" y1="105.5" x2="524.5" y2="103.7" stroke="#111" stroke-width="0.8"/>
<line x1="523" y1="105.5" x2="526" y2="105.5" stroke="#111" stroke-width="0.8"/>
<line x1="523" y1="103.7" x2="526" y2="103.7" stroke="#111" stroke-width="0.8"/>
<circle cx="521.5" cy="104.4" r="1.4" fill="#f2c14e"/>
<circle cx="524.5" cy="105" r="1.4" fill="#f2c14e"/>
<circle cx="527.5" cy="104" r="1.4" fill="#f2c14e"/>
<line x1="410.9" y1="12.8" x2="410.9" y2="108.6" stroke="#666" stroke-width="1.1"/>
<line x1="410.2" y1="108.3" x2="532" y2="108.3" stroke="#333" stroke-width="0.8"/>
<text x="409.6" y="110.9" font-size="7.9" text-anchor="end" fill="#222" textLength="4.1" lengthAdjust="spacingAndGlyphs">0</text>
<text x="409.6" y="92.4" font-size="7.9" text-anchor="end" fill="#222" textLength="8.2" lengthAdjust="spacingAndGlyphs">20</text>
<text x="409.6" y="73.9" font-size="7.9" text-anchor="end" fill="#222" textLength="8.2" lengthAdjust="spacingAndGlyphs">40</text>
<text x="409.6" y="55.3" font-size="7.9" text-anchor="end" fill="#222" textLength="8.2" lengthAdjust="spacingAndGlyphs">60</text>
<text x="409.6" y="36.8" font-size="7.9" text-anchor="end" fill="#222" textLength="8.2" lengthAdjust="spacingAndGlyphs">80</text>
<text x="409.6" y="18.3" font-size="7.9" text-anchor="end" fill="#222" textLength="12.3" lengthAdjust="spacingAndGlyphs">100</text>
<path d="M410.6,108.3h-1.8M410.6,89.8h-1.8M410.6,71.3h-1.8M410.6,52.7h-1.8M410.6,34.2h-1.8M410.6,15.7h-1.8M410.6,99h-1M410.6,80.5h-1M410.6,62h-1M410.6,43.5h-1M410.6,25h-1" stroke="#333" stroke-width="0.6" fill="none"/>
<text x="412" y="119.2" font-size="9.2" text-anchor="start" fill="#222" textLength="9.9" lengthAdjust="spacingAndGlyphs">≥5</text>
<text x="426.7" y="119.2" font-size="9.2" text-anchor="start" fill="#222" textLength="14.9" lengthAdjust="spacingAndGlyphs">≥10</text>
<text x="446" y="119.2" font-size="9.2" text-anchor="start" fill="#222" textLength="14.9" lengthAdjust="spacingAndGlyphs">≥20</text>
<text x="465.3" y="119.2" font-size="9.2" text-anchor="start" fill="#222" textLength="15.3" lengthAdjust="spacingAndGlyphs">≥30</text>
<text x="482.8" y="119.2" font-size="9.2" text-anchor="start" fill="#222" textLength="15.2" lengthAdjust="spacingAndGlyphs">≥60</text>
<text x="502.5" y="119.2" font-size="9.2" text-anchor="start" fill="#222" textLength="14.6" lengthAdjust="spacingAndGlyphs">≥90</text>
<text x="519.3" y="119.2" font-size="9.2" text-anchor="start" fill="#222" textLength="19.7" lengthAdjust="spacingAndGlyphs">≥120</text>
<text x="404" y="130.8" font-size="8.6" text-anchor="start" fill="#222" textLength="142.3" lengthAdjust="spacingAndGlyphs">Maximum individual τ<tspan font-size="5.6" dy="1.4">unbound</tspan><tspan dy="-1.4"> time (s)</tspan></text>
<text transform="translate(394.4,67.6) rotate(-90)" x="0" y="0" font-size="9.4" text-anchor="middle" fill="#222" textLength="107.5" lengthAdjust="spacingAndGlyphs">Percentage of miR-21 RISC</text>
<line x1="554.6" y1="13.2" x2="554.6" y2="106" stroke="#333" stroke-width="0.8"/>
<line x1="554.2" y1="105.6" x2="664.5" y2="105.6" stroke="#333" stroke-width="0.8"/>
<text x="551.6" y="18.6" font-size="9" text-anchor="end" fill="#222" textLength="11.7" lengthAdjust="spacingAndGlyphs">5.0</text>
<text x="551.6" y="33.3" font-size="9" text-anchor="end" fill="#222" textLength="11.7" lengthAdjust="spacingAndGlyphs">4.0</text>
<text x="551.6" y="47.9" font-size="9" text-anchor="end" fill="#222" textLength="11.7" lengthAdjust="spacingAndGlyphs">3.0</text>
<text x="551.6" y="62.6" font-size="9" text-anchor="end" fill="#222" textLength="11.7" lengthAdjust="spacingAndGlyphs">2.0</text>
<text x="551.6" y="77.3" font-size="9" text-anchor="end" fill="#222" textLength="11.7" lengthAdjust="spacingAndGlyphs">1.0</text>
<text x="551.6" y="92" font-size="9" text-anchor="end" fill="#222" textLength="11.7" lengthAdjust="spacingAndGlyphs">0.0</text>
<text x="551.6" y="108" font-size="9" text-anchor="end" fill="#222" textLength="14.5" lengthAdjust="spacingAndGlyphs">-0.1</text>
<text x="554.8" y="116.1" font-size="9.1" text-anchor="middle" fill="#222" textLength="4.7" lengthAdjust="spacingAndGlyphs">0</text>
<text x="576.3" y="116.1" font-size="9.1" text-anchor="middle" fill="#222" textLength="9.5" lengthAdjust="spacingAndGlyphs">20</text>
<text x="597.9" y="116.1" font-size="9.1" text-anchor="middle" fill="#222" textLength="9.5" lengthAdjust="spacingAndGlyphs">40</text>
<text x="619.4" y="116.1" font-size="9.1" text-anchor="middle" fill="#222" textLength="9.5" lengthAdjust="spacingAndGlyphs">60</text>
<text x="641" y="116.1" font-size="9.1" text-anchor="middle" fill="#222" textLength="9.5" lengthAdjust="spacingAndGlyphs">80</text>
<text x="662.5" y="116.1" font-size="9.1" text-anchor="middle" fill="#222" textLength="14.2" lengthAdjust="spacingAndGlyphs">100</text>
<path d="M554.6,15.7h-2M554.6,30.4h-2M554.6,45h-2M554.6,59.7h-2M554.6,74.4h-2M554.6,89.1h-2M554.6,23h-1.1M554.6,37.7h-1.1M554.6,52.4h-1.1M554.6,67.1h-1.1M554.6,81.7h-1.1M554.6,105.1h-2M554.8,105.6v2M576.3,105.6v2M597.9,105.6v2M619.4,105.6v2M641,105.6v2M662.5,105.6v2M565.6,105.6v1.1M587.1,105.6v1.1M608.6,105.6v1.1M630.2,105.6v1.1M651.7,105.6v1.1" stroke="#333" stroke-width="0.6" fill="none"/>
<line x1="554.6" y1="71.7" x2="666.5" y2="71.7" stroke="#333" stroke-width="0.8" stroke-dasharray="2.1,1.3"/>
<line x1="554.6" y1="77.9" x2="666.5" y2="77.9" stroke="#333" stroke-width="0.8" stroke-dasharray="2.1,1.3"/>
<rect x="554.3" y="72.1" width="3.8" height="3.8" fill="#0a0af5"/>
<rect x="557.8" y="71.7" width="3.8" height="3.8" fill="#0a0af5"/>
<rect x="563" y="70.2" width="3.8" height="3.8" fill="#0a0af5"/>
<rect x="566.2" y="69.4" width="3.8" height="3.8" fill="#0a0af5"/>
<rect x="574.1" y="63.8" width="3.8" height="3.8" fill="#0a0af5"/>
<rect x="579.3" y="63.5" width="3.8" height="3.8" fill="#0a0af5"/>
<rect x="606.4" y="45.3" width="3.8" height="3.8" fill="#0a0af5"/>
<rect x="633.4" y="39.1" width="3.8" height="3.8" fill="#0a0af5"/>
<rect x="660.6" y="18.9" width="3.8" height="3.8" fill="#0a0af5"/>
<circle cx="556.2" cy="75.4" r="2.4" fill="#f23c3c"/>
<circle cx="559.7" cy="76.5" r="2.4" fill="#f23c3c"/>
<circle cx="564.9" cy="74.3" r="2.4" fill="#f23c3c"/>
<circle cx="568.1" cy="74.3" r="2.4" fill="#f23c3c"/>
<circle cx="576" cy="75.1" r="2.4" fill="#f23c3c"/>
<circle cx="581.2" cy="75" r="2.4" fill="#f23c3c"/>
<circle cx="608.3" cy="74.6" r="2.4" fill="#f23c3c"/>
<circle cx="635.6" cy="74.6" r="2.4" fill="#f23c3c"/>
<circle cx="662.3" cy="74.6" r="2.4" fill="#f23c3c"/>
<line x1="644.3" y1="62.3" x2="644.3" y2="67.5" stroke="#111" stroke-width="0.7"/>
<polygon points="642.8,66.4 645.8,66.4 644.3,70.9" fill="#111" stroke="none" stroke-width="0"/>
<line x1="644.3" y1="89" x2="644.3" y2="84" stroke="#111" stroke-width="0.7"/>
<polygon points="642.8,85.2 645.8,85.2 644.3,80.8" fill="#111" stroke="none" stroke-width="0"/>
<text x="596.8" y="98.5" font-size="9.5" text-anchor="start" fill="#222" textLength="84.3" lengthAdjust="spacingAndGlyphs">95% confidence level</text>
<rect x="557.2" y="1.4" width="6.6" height="6.4" fill="#0a0af5"/>
<text x="567.6" y="8.3" font-size="9" text-anchor="start" fill="#222" textLength="100.4" lengthAdjust="spacingAndGlyphs">Experimental data of t8<tspan font-size="5.6" dy="1.6">75</tspan></text>
<circle cx="560.5" cy="20.6" r="3.3" fill="#f23c3c"/>
<text x="567.6" y="23.4" font-size="9" text-anchor="start" fill="#222" textLength="88.5" lengthAdjust="spacingAndGlyphs">Simulated data of t8<tspan font-size="5.6" dy="1.6">75</tspan></text>
<text x="580.3" y="129.6" font-size="9.6" text-anchor="start" fill="#222" textLength="64.4" lengthAdjust="spacingAndGlyphs">Time interval (s)</text>
<text transform="translate(529.4,61.6) rotate(-90)" x="0" y="0" font-size="10" text-anchor="middle" fill="#222" textLength="46.2" lengthAdjust="spacingAndGlyphs">Fano factor</text>
<rect x="35.2" y="275.4" width="6.4" height="0.6" fill="#ff2a2a"/>
<rect x="41.6" y="228" width="6.4" height="48" fill="#ff2a2a"/>
<rect x="48" y="194.2" width="6.4" height="81.8" fill="#ff2a2a"/>
<rect x="54.3" y="211.4" width="6.4" height="64.6" fill="#ff2a2a"/>
<rect x="60.7" y="225.8" width="6.4" height="50.2" fill="#ff2a2a"/>
<rect x="67.1" y="244.7" width="6.4" height="31.3" fill="#ff2a2a"/>
<rect x="73.5" y="257.8" width="6.4" height="18.2" fill="#ff2a2a"/>
<rect x="79.9" y="261.3" width="6.4" height="14.7" fill="#ff2a2a"/>
<rect x="86.2" y="266.4" width="6.4" height="9.6" fill="#ff2a2a"/>
<rect x="92.6" y="270.3" width="6.4" height="5.7" fill="#ff2a2a"/>
<rect x="99" y="270.6" width="6.4" height="5.4" fill="#ff2a2a"/>
<rect x="105.4" y="271.5" width="6.4" height="4.5" fill="#ff2a2a"/>
<rect x="111.8" y="273.3" width="6.4" height="2.7" fill="#ff2a2a"/>
<rect x="118.1" y="273.3" width="6.4" height="2.7" fill="#ff2a2a"/>
<rect x="124.5" y="274.1" width="6.4" height="1.9" fill="#ff2a2a"/>
<rect x="130.9" y="274.1" width="6.4" height="1.9" fill="#ff2a2a"/>
<rect x="137.3" y="275.1" width="6.4" height="0.9" fill="#ff2a2a"/>
<rect x="143.7" y="275.1" width="6.4" height="0.9" fill="#ff2a2a"/>
<rect x="150" y="275.2" width="6.4" height="0.8" fill="#ff2a2a"/>
<rect x="156.4" y="275.2" width="6.4" height="0.8" fill="#ff2a2a"/>
<rect x="35.2" y="195" width="6.4" height="80.4" fill="#6cf05a"/>
<rect x="35.2" y="275.4" width="6.4" height="0.6" fill="#5c9e2c"/>
<rect x="41.6" y="185.4" width="6.4" height="42.6" fill="#6cf05a"/>
<rect x="41.6" y="228" width="6.4" height="48" fill="#5c9e2c"/>
<rect x="48" y="253" width="6.4" height="23" fill="#5c9e2c"/>
<rect x="54.3" y="264" width="6.4" height="12" fill="#5c9e2c"/>
<rect x="60.7" y="272" width="6.4" height="4" fill="#5c9e2c"/>
<rect x="67.1" y="274.4" width="6.4" height="1.6" fill="#5c9e2c"/>
<rect x="73.5" y="275.3" width="6.4" height="0.7" fill="#5c9e2c"/>
<rect x="79.9" y="275.7" width="6.4" height="0.3" fill="#5c9e2c"/>
<path d="M41.6,275.4V276.0M48,228V276.0M54.3,211.4V276.0M60.7,225.8V276.0M67.1,244.7V276.0M73.5,257.8V276.0M79.9,261.3V276.0M86.2,266.4V276.0M92.6,270.3V276.0M99,270.6V276.0M105.4,271.5V276.0M111.8,273.3V276.0M118.1,273.3V276.0M124.5,274.1V276.0M130.9,274.1V276.0M137.3,275.1V276.0M143.7,275.1V276.0M150,275.2V276.0M156.4,275.2V276.0" stroke="#c01818" stroke-width="0.3" stroke-opacity="0.5" fill="none"/>
<rect x="32.0" y="178.5" width="131.4" height="97.5" fill="none" stroke="#333" stroke-width="0.8"/>
<text x="29.3" y="279" font-size="9.1" text-anchor="end" fill="#222" textLength="16.5" lengthAdjust="spacingAndGlyphs">0.00</text>
<text x="29.3" y="246.5" font-size="9.1" text-anchor="end" fill="#222" textLength="16.5" lengthAdjust="spacingAndGlyphs">0.02</text>
<text x="29.3" y="214" font-size="9.1" text-anchor="end" fill="#222" textLength="16.5" lengthAdjust="spacingAndGlyphs">0.04</text>
<text x="29.3" y="181.5" font-size="9.1" text-anchor="end" fill="#222" textLength="16.5" lengthAdjust="spacingAndGlyphs">0.06</text>
<text x="35.2" y="286.7" font-size="9.2" text-anchor="middle" fill="#222" textLength="4.8" lengthAdjust="spacingAndGlyphs">0</text>
<text x="67.1" y="286.7" font-size="9.2" text-anchor="middle" fill="#222" textLength="9.6" lengthAdjust="spacingAndGlyphs">10</text>
<text x="99" y="286.7" font-size="9.2" text-anchor="middle" fill="#222" textLength="9.6" lengthAdjust="spacingAndGlyphs">20</text>
<text x="130.9" y="286.7" font-size="9.2" text-anchor="middle" fill="#222" textLength="9.6" lengthAdjust="spacingAndGlyphs">30</text>
<text x="162.8" y="286.7" font-size="9.2" text-anchor="middle" fill="#222" textLength="9.6" lengthAdjust="spacingAndGlyphs">40</text>
<path d="M32,276h-1.8M32,243.5h-1.8M32,211h-1.8M32,178.5h-1.8M32,267.9h1M32,259.8h1M32,251.6h1M32,243.5h1M32,235.4h1M32,227.2h1M32,219.1h1M32,211h1M32,202.9h1M32,194.8h1M32,186.6h1M35.2,276v1.8M67.1,276v1.8M99,276v1.8M130.9,276v1.8M162.8,276v1.8M51.2,276v1M83.1,276v1M115,276v1M146.8,276v1" stroke="#333" stroke-width="0.6" fill="none"/>
<text x="71.5" y="300" font-size="9.2" text-anchor="start" fill="#222" textLength="55.6" lengthAdjust="spacingAndGlyphs">ISI duration (s)</text>
<text transform="translate(9,223.1) rotate(-90)" x="0" y="0" font-size="10.5" text-anchor="middle" fill="#222" textLength="41.8" lengthAdjust="spacingAndGlyphs">Frequency</text>
<line x1="95.1" y1="183.4" x2="95.1" y2="235.2" stroke="#333" stroke-width="0.7"/>
<line x1="94.8" y1="234.9" x2="160.2" y2="234.9" stroke="#333" stroke-width="0.7"/>
<text x="94" y="235.7" font-size="5.1" text-anchor="end" fill="#333" textLength="6.7" lengthAdjust="spacingAndGlyphs">0.0</text>
<text x="94" y="226.5" font-size="5.1" text-anchor="end" fill="#333" textLength="6.7" lengthAdjust="spacingAndGlyphs">0.2</text>
<text x="94" y="217.3" font-size="5.1" text-anchor="end" fill="#333" textLength="6.7" lengthAdjust="spacingAndGlyphs">0.4</text>
<text x="94" y="208" font-size="5.1" text-anchor="end" fill="#333" textLength="6.7" lengthAdjust="spacingAndGlyphs">0.6</text>
<text x="94" y="198.8" font-size="5.1" text-anchor="end" fill="#333" textLength="6.7" lengthAdjust="spacingAndGlyphs">0.8</text>
<text x="94" y="189.6" font-size="5.1" text-anchor="end" fill="#333" textLength="6.7" lengthAdjust="spacingAndGlyphs">1.0</text>
<text x="98.1" y="243.2" font-size="7.3" text-anchor="middle" fill="#333" textLength="3.8" lengthAdjust="spacingAndGlyphs">0</text>
<text x="113.5" y="243.2" font-size="7.3" text-anchor="middle" fill="#333" textLength="7.6" lengthAdjust="spacingAndGlyphs">10</text>
<text x="128.9" y="243.2" font-size="7.3" text-anchor="middle" fill="#333" textLength="7.6" lengthAdjust="spacingAndGlyphs">20</text>
<text x="144.3" y="243.2" font-size="7.3" text-anchor="middle" fill="#333" textLength="7.6" lengthAdjust="spacingAndGlyphs">30</text>
<text x="159.7" y="243.2" font-size="7.3" text-anchor="middle" fill="#333" textLength="7.6" lengthAdjust="spacingAndGlyphs">40</text>
<path d="M95.1,234h-1.2M95.1,224.8h-1.2M95.1,215.6h-1.2M95.1,206.3h-1.2M95.1,197.1h-1.2M95.1,187.9h-1.2M98.1,234.9v1.3M113.5,234.9v1.3M128.9,234.9v1.3M144.3,234.9v1.3M159.7,234.9v1.3" stroke="#333" stroke-width="0.5" fill="none"/>
<path d="M95,234h0.01M96,234h0.01M96.9,234h0.01M97.9,234h0.01M98.8,234h0.01M99.8,234h0.01M100.7,234h0.01M101.7,233.9h0.01M102.7,231.8h0.01M103.6,229.5h0.01M104.6,226.3h0.01M105.5,221.6h0.01M106.5,216.9h0.01M107.4,212.4h0.01M108.4,207.8h0.01M109.3,204.5h0.01M110.3,202h0.01M111.3,199.5h0.01M112.2,197.2h0.01M113.2,196.1h0.01M114.1,195.2h0.01" stroke="#ff2a2a" stroke-width="1.35" stroke-linecap="round" fill="none"/>
<path d="M95,234h0.01M95.9,234h0.01M96.7,234h0.01M97.6,234h0.01M98.4,233.6h0.01M99.3,230.1h0.01M100.1,223.9h0.01M100.9,216.5h0.01M101.8,204.5h0.01M102.6,197.9h0.01M103.5,194.6h0.01M104.3,191.5h0.01" stroke="#3ee62a" stroke-width="1.35" stroke-linecap="round" fill="none"/>
<polyline points="104.9,190.8 105.3,190.3 105.8,190 106.3,189.7 106.7,189.5 107.2,189.3 107.6,189.2 108.1,189.1 108.6,189 109,189 109.5,188.9 110,188.8 110.4,188.8 110.9,188.7 111.3,188.7 111.8,188.7 112.3,188.6 112.7,188.6 113.2,188.6 113.7,188.6 114.1,188.6 114.6,188.6 115,188.6 115.5,188.6 116,188.6 116.4,188.6 116.9,188.6 117.3,188.5 117.8,188.5 118.3,188.5 118.7,188.5 119.2,188.5 119.7,188.5 120.1,188.5 120.6,188.5 121,188.5 121.5,188.5 122,188.5 122.4,188.5 122.9,188.5 123.4,188.5 123.8,188.5 124.3,188.5 124.7,188.5 125.2,188.5 125.7,188.5 126.1,188.5 126.6,188.5 127.1,188.5 127.5,188.5 128,188.5 128.4,188.4 128.9,188.4 129.4,188.4 129.8,188.4 130.3,188.4 130.7,188.4 131.2,188.4 131.7,188.4 132.1,188.4 132.6,188.4 133.1,188.4 133.5,188.4 134,188.4 134.4,188.4 134.9,188.4 135.4,188.4 135.8,188.4 136.3,188.4 136.8,188.4 137.2,188.4 137.7,188.4 138.1,188.4 138.6,188.4 139.1,188.4 139.5,188.4 140,188.4 140.4,188.4 140.9,188.4 141.4,188.4 141.8,188.4 142.3,188.4 142.8,188.4 143.2,188.4 143.7,188.4 144.1,188.4 144.6,188.4 145.1,188.4 145.5,188.4 146,188.4 146.5,188.4 146.9,188.4 147.4,188.4 147.8,188.4 148.3,188.4 148.8,188.4 149.2,188.4 149.7,188.4 150.2,188.4 150.6,188.4 151.1,188.4 151.5,188.4 152,188.4 152.5,188.4 152.9,188.4 153.4,188.4 153.8,188.4 154.3,188.4 154.8,188.4 155.2,188.4 155.7,188.4 156.2,188.4 156.6,188.4 157.1,188.4 157.5,188.4 158,188.4 158.5,188.4 158.9,188.4 159.4,188.4" fill="none" stroke="#3ee62a" stroke-width="1.1"/>
<polyline points="112.6,196.7 113,196.2 113.5,195.8 114,195.4 114.4,195 114.9,194.7 115.3,194.4 115.8,194.1 116.3,193.9 116.7,193.6 117.2,193.4 117.7,193.2 118.1,193 118.6,192.9 119,192.7 119.5,192.6 120,192.4 120.4,192.3 120.9,192.1 121.4,192 121.8,191.9 122.3,191.7 122.7,191.6 123.2,191.5 123.7,191.4 124.1,191.3 124.6,191.2 125.1,191 125.5,190.9 126,190.8 126.4,190.7 126.9,190.7 127.4,190.6 127.8,190.5 128.3,190.4 128.7,190.3 129.2,190.2 129.7,190.2 130.1,190.1 130.6,190 131.1,190 131.5,189.9 132,189.9 132.4,189.8 132.9,189.8 133.4,189.8 133.8,189.7 134.3,189.7 134.8,189.7 135.2,189.6 135.7,189.6 136.1,189.5 136.6,189.5 137.1,189.5 137.5,189.4 138,189.4 138.4,189.4 138.9,189.4 139.4,189.3 139.8,189.3 140.3,189.3 140.8,189.2 141.2,189.2 141.7,189.2 142.1,189.2 142.6,189.1 143.1,189.1 143.5,189.1 144,189 144.5,189 144.9,189 145.4,189 145.8,189 146.3,188.9 146.8,188.9 147.2,188.9 147.7,188.9 148.2,188.8 148.6,188.8 149.1,188.8 149.5,188.8 150,188.8 150.5,188.8 150.9,188.7 151.4,188.7 151.8,188.7 152.3,188.7 152.8,188.7 153.2,188.7 153.7,188.7 154.2,188.7 154.6,188.6 155.1,188.6 155.5,188.6 156,188.6 156.5,188.6 156.9,188.6 157.4,188.6 157.9,188.6 158.3,188.6 158.8,188.6 159.2,188.6 159.7,188.6" fill="none" stroke="#ff2a2a" stroke-width="1.1"/>
<line x1="112" y1="209.6" x2="120" y2="209.6" stroke="#3ee62a" stroke-width="1.2"/>
<text x="123" y="213.1" font-size="9.6" text-anchor="start" fill="#222" textLength="20.6" lengthAdjust="spacingAndGlyphs">Burst</text>
<line x1="112" y1="218.6" x2="120" y2="218.6" stroke="#ff4a4a" stroke-width="1.2"/>
<text x="123" y="224" font-size="9.6" text-anchor="start" fill="#222" textLength="38.9" lengthAdjust="spacingAndGlyphs">Non-burst</text>
<text transform="translate(76.3,213.9) rotate(-90)" x="0" y="0" font-size="9.2" text-anchor="middle" fill="#222" textLength="43.2" lengthAdjust="spacingAndGlyphs">Cumulative</text>
<text transform="translate(85,213.9) rotate(-90)" x="0" y="0" font-size="9.2" text-anchor="middle" fill="#222" textLength="70" lengthAdjust="spacingAndGlyphs">distribution of ISIs</text>
<text x="98.7" y="253.3" font-size="9.2" text-anchor="start" fill="#222" textLength="62.5" lengthAdjust="spacingAndGlyphs">ISIs duration (s)</text>
<line x1="224.4" y1="172.7" x2="224.4" y2="272.9" stroke="#222" stroke-width="0.9"/>
<line x1="224" y1="272.5" x2="349.8" y2="272.5" stroke="#222" stroke-width="0.9"/>
<text x="221.6" y="274.5" font-size="9.8" text-anchor="end" fill="#222" textLength="12.8" lengthAdjust="spacingAndGlyphs">0.0</text>
<text x="221.6" y="256.5" font-size="9.8" text-anchor="end" fill="#222" textLength="12.8" lengthAdjust="spacingAndGlyphs">0.2</text>
<text x="221.6" y="238.6" font-size="9.8" text-anchor="end" fill="#222" textLength="12.8" lengthAdjust="spacingAndGlyphs">0.4</text>
<text x="221.6" y="220.6" font-size="9.8" text-anchor="end" fill="#222" textLength="12.8" lengthAdjust="spacingAndGlyphs">0.6</text>
<text x="221.6" y="202.7" font-size="9.8" text-anchor="end" fill="#222" textLength="12.8" lengthAdjust="spacingAndGlyphs">0.8</text>
<text x="221.6" y="184.7" font-size="9.8" text-anchor="end" fill="#222" textLength="12.8" lengthAdjust="spacingAndGlyphs">1.0</text>
<text x="228.9" y="283.4" font-size="9.8" text-anchor="middle" fill="#222" textLength="5.1" lengthAdjust="spacingAndGlyphs">0</text>
<text x="253" y="283.4" font-size="9.8" text-anchor="middle" fill="#222" textLength="10.2" lengthAdjust="spacingAndGlyphs">10</text>
<text x="277.1" y="283.4" font-size="9.8" text-anchor="middle" fill="#222" textLength="10.2" lengthAdjust="spacingAndGlyphs">20</text>
<text x="301.2" y="283.4" font-size="9.8" text-anchor="middle" fill="#222" textLength="10.2" lengthAdjust="spacingAndGlyphs">30</text>
<text x="325.3" y="283.4" font-size="9.8" text-anchor="middle" fill="#222" textLength="10.2" lengthAdjust="spacingAndGlyphs">40</text>
<text x="349.4" y="283.4" font-size="9.8" text-anchor="middle" fill="#222" textLength="10.2" lengthAdjust="spacingAndGlyphs">50</text>
<path d="M224.4,271.3h-2M224.4,253.3h-2M224.4,235.4h-2M224.4,217.4h-2M224.4,199.5h-2M224.4,181.5h-2M224.4,262.3h-1.1M224.4,244.4h-1.1M224.4,226.4h-1.1M224.4,208.4h-1.1M224.4,190.5h-1.1M228.9,272.5v2M253,272.5v2M277.1,272.5v2M301.2,272.5v2M325.3,272.5v2M349.4,272.5v2M241,272.5v1.1M265.1,272.5v1.1M289.1,272.5v1.1M313.2,272.5v1.1M337.4,272.5v1.1" stroke="#222" stroke-width="0.6" fill="none"/>
<text x="236.6" y="296.3" font-size="9.8" text-anchor="start" fill="#222" textLength="109.2" lengthAdjust="spacingAndGlyphs">Burst / Nonburst length (s)</text>
<text transform="translate(203.2,222.3) rotate(-90)" x="0" y="0" font-size="9.8" text-anchor="middle" fill="#222" textLength="92" lengthAdjust="spacingAndGlyphs">Cumulative Frequency</text>
<polyline points="228.2,271.3 228.8,267.5 229.4,263.9 230,260.3 230.6,257 231.2,253.9 231.8,251.1 232.4,248.3 233,245.8 233.6,243.3 234.2,240.9 234.8,238.5 235.4,236.3 236,234 236.6,231.8 237.2,229.5 237.8,227.3 238.4,225.1 239,222.9 239.6,220.9 240.2,219 240.8,217.3 241.4,215.8 242,214.3 242.6,213 243.2,211.7 243.8,210.5 244.4,209.4 245,208.3 245.6,207.3 246.3,206.3 246.9,205.4 247.5,204.5 248.1,203.6 248.7,202.8 249.3,202 249.9,201.2 250.5,200.5 251.1,199.8 251.7,199.1 252.3,198.4 252.9,197.8 253.5,197.2 254.1,196.6 254.7,196.1 255.3,195.6 255.9,195.1 256.5,194.6 257.1,194.1 257.7,193.6 258.3,193.1 258.9,192.6 259.5,192.2 260.1,191.8 260.7,191.4 261.3,191 261.9,190.7 262.5,190.4 263.1,190.1 263.7,189.9 264.3,189.7 264.9,189.4 265.5,189.2 266.1,189 266.7,188.8 267.3,188.6 267.9,188.4 268.5,188.2 269.1,188.1 269.7,187.9 270.4,187.7 271,187.6 271.6,187.4 272.2,187.3 272.8,187.2 273.4,187.1 274,186.9 274.6,186.8 275.2,186.7 275.8,186.6 276.4,186.5 277,186.5 277.6,186.4 278.2,186.3 278.8,186.2 279.4,186.2 280,186.1 280.6,186 281.2,186 281.8,185.9 282.4,185.8 283,185.8 283.6,185.7 284.2,185.6 284.8,185.6 285.4,185.5 286,185.5 286.6,185.4 287.2,185.4 287.8,185.3 288.4,185.3 289,185.2 289.6,185.2 290.2,185.1 290.8,185.1 291.4,185.1 292,185 292.6,185 293.2,184.9 293.8,184.9 294.5,184.9 295.1,184.8 295.7,184.8 296.3,184.8 296.9,184.8 297.5,184.7 298.1,184.7 298.7,184.7 299.3,184.7 299.9,184.6 300.5,184.6 301.1,184.6 301.7,184.6 302.3,184.6 302.9,184.6 303.5,184.5 304.1,184.5 304.7,184.5 305.3,184.5 305.9,184.5 306.5,184.4 307.1,184.4 307.7,184.4 308.3,184.4 308.9,184.4 309.5,184.4 310.1,184.3 310.7,184.3 311.3,184.3 311.9,184.3 312.5,184.3 313.1,184.3 313.7,184.2 314.3,184.2 314.9,184.2 315.5,184.2 316.1,184.2 316.7,184.2 317.3,184.2 317.9,184.1 318.6,184.1 319.2,184.1 319.8,184.1 320.4,184.1 321,184.1 321.6,184.1 322.2,184 322.8,184 323.4,184 324,184 324.6,184 325.2,184 325.8,184 326.4,184 327,184 327.6,183.9 328.2,183.9 328.8,183.9 329.4,183.9 330,183.9 330.6,183.9 331.2,183.9 331.8,183.9 332.4,183.9 333,183.9 333.6,183.9 334.2,183.8 334.8,183.8 335.4,183.8 336,183.8 336.6,183.8 337.2,183.8 337.8,183.8 338.4,183.8 339,183.8 339.6,183.8 340.2,183.8 340.8,183.8 341.4,183.8 342,183.8 342.7,183.8 343.3,183.8 343.9,183.8 344.5,183.8 345.1,183.8 345.7,183.8 346.3,183.7 346.9,183.7 347.5,183.7 348.1,183.7 348.7,183.7 349.3,183.7" fill="none" stroke="#111" stroke-width="1.1"/>
<polyline points="230.8,271.3 231.4,270.4 232,269.1 232.6,267.5 233.2,265.7 233.8,263.7 234.4,261.2 235,258.1 235.6,254.8 236.3,251.3 236.9,247.9 237.5,244.3 238.1,240.5 238.7,236.5 239.3,232.7 239.9,229 240.5,225.6 241.1,222.7 241.7,220.1 242.3,217.6 242.9,215.2 243.5,213 244.1,210.9 244.7,208.9 245.3,207.1 245.9,205.4 246.5,203.8 247.1,202.3 247.7,200.9 248.3,199.5 248.9,198.3 249.5,197.1 250.1,196.1 250.7,195.3 251.3,194.5 251.9,193.8 252.5,193.2 253.1,192.6 253.7,192.1 254.3,191.6 254.9,191.1 255.5,190.6 256.1,190.2 256.7,189.7 257.3,189.2 257.9,188.8 258.5,188.4 259.1,187.9 259.7,187.5 260.4,187.2 261,186.8 261.6,186.5 262.2,186.2 262.8,186 263.4,185.8 264,185.6 264.6,185.5 265.2,185.3 265.8,185.1 266.4,185 267,184.9 267.6,184.7 268.2,184.6 268.8,184.5 269.4,184.3 270,184.2 270.6,184.1 271.2,184 271.8,183.9 272.4,183.9 273,183.8 273.6,183.7 274.2,183.6 274.8,183.6 275.4,183.5 276,183.5 276.6,183.4 277.2,183.4 277.8,183.4 278.4,183.3 279,183.3 279.6,183.3 280.2,183.2 280.8,183.2 281.4,183.2 282,183.1 282.6,183.1 283.2,183.1 283.8,183 284.5,183 285.1,183 285.7,183 286.3,182.9 286.9,182.9 287.5,182.9 288.1,182.9 288.7,182.8 289.3,182.8 289.9,182.8 290.5,182.8 291.1,182.8 291.7,182.7 292.3,182.7 292.9,182.7 293.5,182.7 294.1,182.7 294.7,182.7 295.3,182.7 295.9,182.6 296.5,182.6 297.1,182.6 297.7,182.6 298.3,182.6 298.9,182.6 299.5,182.6 300.1,182.6 300.7,182.6 301.3,182.6 301.9,182.6 302.5,182.6 303.1,182.6 303.7,182.6 304.3,182.6 304.9,182.6 305.5,182.5 306.1,182.5 306.7,182.5 307.3,182.5 307.9,182.5 308.6,182.5 309.2,182.5 309.8,182.5 310.4,182.5 311,182.5 311.6,182.5 312.2,182.5 312.8,182.5 313.4,182.5 314,182.5 314.6,182.5 315.2,182.5 315.8,182.5 316.4,182.5 317,182.5 317.6,182.5 318.2,182.5 318.8,182.5 319.4,182.5 320,182.5 320.6,182.5 321.2,182.5 321.8,182.5 322.4,182.5 323,182.5 323.6,182.4 324.2,182.4 324.8,182.4 325.4,182.4 326,182.4 326.6,182.4 327.2,182.4 327.8,182.4 328.4,182.4 329,182.4 329.6,182.4 330.2,182.4 330.8,182.4 331.4,182.4 332,182.4 332.7,182.4 333.3,182.4 333.9,182.4 334.5,182.4 335.1,182.4 335.7,182.4 336.3,182.4 336.9,182.4 337.5,182.4 338.1,182.4 338.7,182.4 339.3,182.4 339.9,182.4 340.5,182.4 341.1,182.4 341.7,182.4 342.3,182.4 342.9,182.4 343.5,182.4 344.1,182.4 344.7,182.4 345.3,182.4 345.9,182.4 346.5,182.4 347.1,182.4 347.7,182.4 348.3,182.4 348.9,182.4" fill="none" stroke="#111" stroke-width="1.1"/>
<rect x="229.7" y="269.9" width="2.8" height="2.8" fill="#4ee62a"/>
<rect x="235.2" y="249.7" width="2.8" height="2.8" fill="#4ee62a"/>
<rect x="239.6" y="223.2" width="2.8" height="2.8" fill="#4ee62a"/>
<rect x="244.6" y="207" width="2.8" height="2.8" fill="#4ee62a"/>
<rect x="249.7" y="196.3" width="2.8" height="2.8" fill="#4ee62a"/>
<rect x="254.5" y="190.9" width="2.8" height="2.8" fill="#4ee62a"/>
<rect x="259.3" y="187.6" width="2.8" height="2.8" fill="#4ee62a"/>
<rect x="263.9" y="185.5" width="2.8" height="2.8" fill="#4ee62a"/>
<rect x="269.2" y="184" width="2.8" height="2.8" fill="#4ee62a"/>
<rect x="274.3" y="183.4" width="2.8" height="2.8" fill="#4ee62a"/>
<rect x="279.2" y="183" width="2.8" height="2.8" fill="#4ee62a"/>
<rect x="284.2" y="182.8" width="2.8" height="2.8" fill="#4ee62a"/>
<rect x="289.2" y="182.6" width="2.8" height="2.8" fill="#4ee62a"/>
<rect x="294.2" y="182.4" width="2.8" height="2.8" fill="#4ee62a"/>
<rect x="299.2" y="182.2" width="2.8" height="2.8" fill="#4ee62a"/>
<rect x="304.2" y="182.1" width="2.8" height="2.8" fill="#4ee62a"/>
<rect x="309.2" y="182" width="2.8" height="2.8" fill="#4ee62a"/>
<rect x="314.2" y="182" width="2.8" height="2.8" fill="#4ee62a"/>
<rect x="319.2" y="181.9" width="2.8" height="2.8" fill="#4ee62a"/>
<rect x="324.1" y="181.8" width="2.8" height="2.8" fill="#4ee62a"/>
<rect x="329.1" y="181.8" width="2.8" height="2.8" fill="#4ee62a"/>
<rect x="334.1" y="181.8" width="2.8" height="2.8" fill="#4ee62a"/>
<rect x="339.1" y="181.7" width="2.8" height="2.8" fill="#4ee62a"/>
<rect x="344.1" y="181.7" width="2.8" height="2.8" fill="#4ee62a"/>
<rect x="349.1" y="181.7" width="2.8" height="2.8" fill="#4ee62a"/>
<rect x="224.1" y="269.9" width="2.8" height="2.8" fill="#ff2a2a"/>
<rect x="225.8" y="269.9" width="2.8" height="2.8" fill="#ff2a2a"/>
<rect x="229.7" y="252.8" width="2.8" height="2.8" fill="#ff2a2a"/>
<rect x="235.2" y="232.2" width="2.8" height="2.8" fill="#ff2a2a"/>
<rect x="239.6" y="215.1" width="2.8" height="2.8" fill="#ff2a2a"/>
<rect x="244.4" y="205.2" width="2.8" height="2.8" fill="#ff2a2a"/>
<rect x="248.9" y="199" width="2.8" height="2.8" fill="#ff2a2a"/>
<rect x="254.5" y="194.9" width="2.8" height="2.8" fill="#ff2a2a"/>
<rect x="259.3" y="191.2" width="2.8" height="2.8" fill="#ff2a2a"/>
<rect x="263.9" y="189.1" width="2.8" height="2.8" fill="#ff2a2a"/>
<rect x="269.2" y="187.5" width="2.8" height="2.8" fill="#ff2a2a"/>
<rect x="274.3" y="186.6" width="2.8" height="2.8" fill="#ff2a2a"/>
<rect x="279.2" y="185.9" width="2.8" height="2.8" fill="#ff2a2a"/>
<rect x="284.2" y="185.3" width="2.8" height="2.8" fill="#ff2a2a"/>
<rect x="289.2" y="184.9" width="2.8" height="2.8" fill="#ff2a2a"/>
<rect x="294.2" y="184.6" width="2.8" height="2.8" fill="#ff2a2a"/>
<rect x="299.2" y="184.4" width="2.8" height="2.8" fill="#ff2a2a"/>
<rect x="304.2" y="184.1" width="2.8" height="2.8" fill="#ff2a2a"/>
<rect x="309.2" y="184" width="2.8" height="2.8" fill="#ff2a2a"/>
<rect x="314.2" y="183.8" width="2.8" height="2.8" fill="#ff2a2a"/>
<rect x="319.2" y="183.7" width="2.8" height="2.8" fill="#ff2a2a"/>
<rect x="324.1" y="183.5" width="2.8" height="2.8" fill="#ff2a2a"/>
<rect x="329.1" y="183.4" width="2.8" height="2.8" fill="#ff2a2a"/>
<rect x="334.1" y="183.3" width="2.8" height="2.8" fill="#ff2a2a"/>
<rect x="339.1" y="183.2" width="2.8" height="2.8" fill="#ff2a2a"/>
<rect x="344.1" y="183.2" width="2.8" height="2.8" fill="#ff2a2a"/>
<rect x="349.1" y="183.2" width="2.8" height="2.8" fill="#ff2a2a"/>
<text x="286.6" y="202.3" font-size="8.9" text-anchor="start" fill="#ff2a2a" textLength="40.3" lengthAdjust="spacingAndGlyphs">R<tspan font-size="5.6" dy="-3.2">2</tspan><tspan dy="3.2"> = 0.997</tspan></text>
<text x="286.6" y="212.3" font-size="8.9" text-anchor="start" fill="#4ee62a" textLength="40.3" lengthAdjust="spacingAndGlyphs">R<tspan font-size="5.6" dy="-3.2">2</tspan><tspan dy="3.2"> = 0.996</tspan></text>
<text x="246" y="228.7" font-size="10.4" text-anchor="start" fill="#ff2a2a" font-style="italic">k</text>
<text x="250.4" y="230.4" font-size="6.4" text-anchor="start" fill="#ff2a2a" font-style="italic">acc</text>
<line x1="260.2" y1="227.5" x2="267.2" y2="227.5" stroke="#111" stroke-width="0.6" stroke-dasharray="1.3,1.1"/>
<polygon points="266.6,226.2 266.6,228.8 268.8,227.5" fill="#111" stroke="none" stroke-width="0"/>
<text x="269.8" y="230.4" font-size="6.4" text-anchor="start" fill="#ff2a2a" textLength="13.5" lengthAdjust="spacingAndGlyphs" font-style="italic">inacc</text>
<text x="284.4" y="228.7" font-size="9.8" text-anchor="start" fill="#ff2a2a" textLength="5.4" lengthAdjust="spacingAndGlyphs">=</text>
<text x="294" y="228.7" font-size="9.8" text-anchor="start" fill="#ff2a2a" textLength="17" lengthAdjust="spacingAndGlyphs">0.09</text>
<text x="313.2" y="228.7" font-size="9.8" text-anchor="start" fill="#ff2a2a" textLength="4.6" lengthAdjust="spacingAndGlyphs">s</text>
<text x="317.6" y="225.3" font-size="5.6" text-anchor="start" fill="#ff2a2a" textLength="4.6" lengthAdjust="spacingAndGlyphs">-1</text>
<text x="247.6" y="242.6" font-size="10.4" text-anchor="start" fill="#4ee62a" font-style="italic">k</text>
<text x="251.8" y="244.3" font-size="6.4" text-anchor="start" fill="#4ee62a" textLength="13.9" lengthAdjust="spacingAndGlyphs" font-style="italic">inacc</text>
<line x1="266.8" y1="242.1" x2="274.1" y2="242.1" stroke="#111" stroke-width="0.6" stroke-dasharray="1.3,1.1"/>
<polygon points="273.5,240.8 273.5,243.4 275.7,242.1" fill="#111" stroke="none" stroke-width="0"/>
<text x="277.7" y="244.3" font-size="6.4" text-anchor="start" fill="#4ee62a" font-style="italic">acc</text>
<text x="287.4" y="242.6" font-size="9.8" text-anchor="start" fill="#4ee62a" textLength="5.4" lengthAdjust="spacingAndGlyphs">=</text>
<text x="295.6" y="242.6" font-size="9.8" text-anchor="start" fill="#4ee62a" textLength="15.8" lengthAdjust="spacingAndGlyphs">0.07</text>
<text x="314.4" y="242.6" font-size="9.8" text-anchor="start" fill="#4ee62a" textLength="4.6" lengthAdjust="spacingAndGlyphs">s</text>
<text x="318.8" y="239.2" font-size="5.6" text-anchor="start" fill="#4ee62a" textLength="4.6" lengthAdjust="spacingAndGlyphs">-1</text>
<polygon points="389.3,267.5 484.2,267.6 513.5,199.9 448.4,199.9" fill="#f3f3f3" stroke="none" stroke-width="0"/>
<polygon points="389.3,267.5 389.3,220.4 448.4,166.7 448.4,199.9" fill="#e3f6f0" stroke="none" stroke-width="0"/>
<polygon points="448.4,199.9 513.5,199.9 513.5,166.7 448.4,166.7" fill="#fafad4" stroke="none" stroke-width="0"/>
<path d="M464.7,199.9L464.7,166.7M480.9,199.9L480.9,166.7M497.2,199.9L497.2,166.7M448.4,194.1L513.5,194.1M389.3,259.3L448.4,194.1M448.4,188.4L513.5,188.4M389.3,251.1L448.4,188.4M448.4,182.6L513.5,182.6M389.3,242.9L448.4,182.6M448.4,176.8L513.5,176.8M389.3,234.7L448.4,176.8M413,267.5L464.7,199.9M436.8,267.6L480.9,199.9M460.5,267.6L497.2,199.9" stroke="#c9cfc4" stroke-width="0.45" fill="none"/>
<path d="M389.3,220.4L448.4,166.7M448.4,166.7L513.5,166.7M513.5,166.7L513.5,199.9M448.4,199.9L448.4,166.7" stroke="#b8c4bc" stroke-width="0.5" fill="none"/>
<defs><linearGradient id="wg1" x1="0" y1="0" x2="1" y2="0"><stop offset="0" stop-color="#d41010"/><stop offset="1" stop-color="#ff3a22"/></linearGradient></defs>
<polygon points="447.4,201 513,201.1 515.1,196.3 451.5,196.3" fill="#f9f9f9" stroke="none" stroke-width="0"/>
<polygon points="447.4,201 447.4,201 447.7,201 448,201 448.3,201 448.6,201 448.9,201 449.2,201 449.5,177.9 449.8,174.4 450.1,174.8 450.4,175.4 450.7,180.6 451,176.9 451.3,181.1 451.6,178.8 451.9,175.2 452.2,176.5 452.5,171.9 452.8,177.8 453.1,182.9 453.4,178 453.7,180.6 454,178.6 454.3,178.9 454.6,181.4 454.9,180.5 455.2,182.1 455.5,182.3 455.8,181.5 456.1,183.2 456.4,179.5 456.7,182.9 457,182.2 457.3,187.6 457.6,186.4 457.9,189.7 458.2,190.5 458.5,189.8 458.8,189.9 459.1,193.4 459.4,192.8 459.7,195.7 460,195.8 460.3,197.5 460.6,196.7 460.9,197.5 461.2,197.3 461.5,196.3 461.8,198.6 462.1,198.5 462.4,198.9 462.7,197.5 463,199.4 463.3,199.4 463.6,199.6 463.9,198.3 464.2,199.9 464.5,200.1 464.8,200.2 465.1,198.7 465.4,200.6 465.7,200.5 466,200.4 466.3,200.7 466.6,199.2 466.9,200.7 467.2,200.7 467.5,200.7 467.8,199.3 468.1,200.8 468.4,200.8 468.7,200.9 469,199.4 469.3,200.9 469.6,200.9 469.9,200.9 470.2,199.6 470.5,201 470.8,201 471.1,201 471.4,201 471.7,201 472,201 472.3,201 472.6,201 472.9,199.5 473.2,201 473.5,201 473.8,201 474.1,199.3 474.4,201 474.7,201 475,201 475.3,199.6 475.6,201 475.9,201 476.2,201 476.5,199.5 476.8,201 477.1,201 477.4,201 477.7,201 478,201 478.3,201 478.6,201 478.9,201 479.2,199.3 479.4,201 479.7,201 480,201 480.3,199.6 480.6,201 480.9,201 481.2,201 481.5,199.4 481.8,201 482.1,201 482.4,201 482.7,199.6 483,201 483.3,201 483.6,201 483.9,201 484.2,201 484.5,201 484.8,201 485.1,201 485.4,199.3 485.7,201 486,201 486.3,201 486.6,199.7 486.9,201.1 487.2,201.1 487.5,201.1 487.8,199.5 488.1,201.1 488.4,201.1 488.7,201.1 489,199.4 489.3,201.1 489.6,201.1 489.9,201.1 490.2,201.1 490.5,201.1 490.8,201.1 491.1,201.1 491.4,201.1 491.7,201.1 492,201.1 492.3,201.1 492.6,201.1 492.9,201.1 493.2,201.1 493.5,201.1 493.8,201.1 494.1,201.1 494.4,201.1 494.7,201.1 495,201.1 495.3,201.1 495.6,201.1 495.9,201.1 496.2,201.1 496.5,201.1 496.8,201.1 497.1,201.1 497.4,201.1 497.7,201.1 498,201.1 498.3,201.1 498.6,201.1 498.9,201.1 499.2,201.1 499.5,201.1 499.8,201.1 500.1,201.1 500.4,201.1 500.7,201.1 501,201.1 501.3,201.1 501.6,201.1 501.9,201.1 502.2,201.1 502.5,201.1 502.8,201.1 503.1,201.1 503.4,201.1 503.7,201.1 504,201.1 504.3,201.1 504.6,201.1 504.9,201.1 505.2,201.1 505.5,201.1 505.8,201.1 506.1,201.1 506.4,201.1 506.7,201.1 507,201.1 507.3,201.1 507.6,201.1 507.9,201.1 508.2,201.1 508.5,201.1 508.8,201.1 509.1,201.1 509.4,201.1 509.7,201.1 510,201.1 510.3,201.1 510.6,201.1 510.9,201.1 511.2,201.1 511.5,201.1 511.8,201.1 512.1,201.1 512.4,201.1 512.7,201.1 513,201.1 513,201.1" fill="url(#wg1)" stroke="none" stroke-width="0"/>
<line x1="447.4" y1="201" x2="513" y2="201.1" stroke="#f06060" stroke-width="0.5" stroke-opacity="0.3"/>
<polygon points="440.7,208.7 509.7,208.7 511.7,204 444.9,204" fill="#f9f9f9" stroke="none" stroke-width="0"/>
<polygon points="440.7,208.7 440.7,208.7 441,208.7 441.3,208.7 441.7,208.7 442,208.7 442.3,208.7 442.6,208.7 442.9,188.6 443.2,179.5 443.6,181.6 443.9,183.5 444.2,185.3 444.5,187 444.8,188.6 445.1,190 445.4,191.4 445.8,192.5 446.1,192.2 446.4,191.5 446.7,197.7 447,197 447.3,196.7 447.6,198.2 448,199 448.3,200 448.6,201.8 448.9,202.9 449.2,201.7 449.5,202.4 449.9,201.5 450.2,202.8 450.5,203.5 450.8,204.1 451.1,204.2 451.4,204.6 451.7,204.5 452.1,205.8 452.4,205.7 452.7,204.7 453,205.7 453.3,206 453.6,206.5 453.9,206.3 454.3,206.7 454.6,206.7 454.9,207.3 455.2,206.9 455.5,207.4 455.8,207 456.1,207.1 456.5,207.4 456.8,207.6 457.1,207.6 457.4,207.7 457.7,207.7 458,207.9 458.4,207.9 458.7,207.9 459,207.8 459.3,208 459.6,208.1 459.9,208.2 460.2,208.1 460.6,208.2 460.9,208.3 461.2,208.3 461.5,208.3 461.8,208.3 462.1,208.3 462.4,208.4 462.8,208.4 463.1,208.4 463.4,208.4 463.7,208.4 464,208.5 464.3,208.4 464.7,208.5 465,208.5 465.3,208.6 465.6,208.5 465.9,208.6 466.2,208.6 466.5,208.6 466.9,208.6 467.2,208.6 467.5,208.6 467.8,208.6 468.1,208.6 468.4,208.6 468.7,208.6 469.1,208.6 469.4,208.6 469.7,208.6 470,208.6 470.3,208.6 470.6,208.6 471,208.6 471.3,208.6 471.6,208.7 471.9,208.7 472.2,208.7 472.5,208.7 472.8,208.7 473.2,208.7 473.5,208.7 473.8,208.7 474.1,208.7 474.4,208.7 474.7,208.7 475,208.7 475.4,208.7 475.7,208.7 476,208.7 476.3,208.7 476.6,208.7 476.9,208.7 477.3,208.7 477.6,208.7 477.9,208.7 478.2,208.7 478.5,208.7 478.8,208.7 479.1,208.7 479.5,208.7 479.8,208.7 480.1,208.7 480.4,208.7 480.7,208.7 481,208.7 481.3,208.7 481.7,208.7 482,208.7 482.3,208.7 482.6,208.7 482.9,208.7 483.2,208.7 483.6,208.7 483.9,208.7 484.2,208.7 484.5,208.7 484.8,208.7 485.1,208.7 485.4,208.7 485.8,208.7 486.1,208.7 486.4,208.7 486.7,208.7 487,208.7 487.3,208.7 487.6,208.7 488,208.7 488.3,208.7 488.6,208.7 488.9,208.7 489.2,208.7 489.5,208.7 489.8,208.7 490.2,208.7 490.5,208.7 490.8,208.7 491.1,208.7 491.4,208.7 491.7,208.7 492.1,208.7 492.4,208.7 492.7,208.7 493,208.7 493.3,208.7 493.6,208.7 493.9,208.7 494.3,208.7 494.6,208.7 494.9,208.7 495.2,208.7 495.5,208.7 495.8,208.7 496.1,208.7 496.5,208.7 496.8,208.7 497.1,208.7 497.4,208.7 497.7,208.7 498,208.7 498.4,208.7 498.7,208.7 499,208.7 499.3,208.7 499.6,208.7 499.9,208.7 500.2,208.7 500.6,208.7 500.9,208.7 501.2,208.7 501.5,208.7 501.8,208.7 502.1,208.7 502.4,208.7 502.8,208.7 503.1,208.7 503.4,208.7 503.7,208.7 504,208.7 504.3,208.7 504.7,208.7 505,208.7 505.3,208.7 505.6,208.7 505.9,208.7 506.2,208.7 506.5,208.7 506.9,208.7 507.2,208.7 507.5,208.7 507.8,208.7 508.1,208.7 508.4,208.7 508.7,208.7 509.1,208.7 509.4,208.7 509.7,208.7 509.7,208.7" fill="url(#wg1)" stroke="none" stroke-width="0"/>
<line x1="440.7" y1="208.7" x2="509.7" y2="208.7" stroke="#f06060" stroke-width="0.5" stroke-opacity="0.3"/>
<polygon points="434.3,216.1 506.5,216.1 508.5,211.3 438.4,211.3" fill="#f9f9f9" stroke="none" stroke-width="0"/>
<polygon points="434.3,216.1 434.3,216.1 434.6,216.1 434.9,216.1 435.3,216.1 435.6,216.1 435.9,216.1 436.3,197.7 436.6,184.7 436.9,187.1 437.2,189.4 437.6,191.5 437.9,193.4 438.2,195.1 438.6,196.8 438.9,197 439.2,195.7 439.6,201.1 439.9,202.3 440.2,205.4 440.5,202.7 440.9,207.1 441.2,205.2 441.5,205.6 441.9,206.9 442.2,207.4 442.5,208.6 442.8,209.3 443.2,209.7 443.5,211 443.8,209.9 444.2,210.5 444.5,212.2 444.8,211.5 445.2,211.9 445.5,213 445.8,213.4 446.1,213.1 446.5,213.1 446.8,212.9 447.1,213.8 447.5,214.1 447.8,213.8 448.1,213.9 448.5,214.5 448.8,214.4 449.1,214.4 449.4,214.9 449.8,214.9 450.1,214.9 450.4,214.9 450.8,214.8 451.1,215.1 451.4,215.2 451.8,215.3 452.1,215.3 452.4,215.5 452.7,215.5 453.1,215.4 453.4,215.6 453.7,215.7 454.1,215.6 454.4,215.7 454.7,215.6 455.1,215.7 455.4,215.7 455.7,215.7 456,215.7 456.4,215.8 456.7,215.8 457,215.8 457.4,215.8 457.7,215.9 458,215.9 458.3,215.9 458.7,215.9 459,215.9 459.3,215.9 459.7,215.9 460,216 460.3,216 460.7,215.9 461,216 461.3,216 461.6,216 462,216 462.3,216 462.6,216 463,216 463.3,216 463.6,216 464,216 464.3,216 464.6,216 464.9,216 465.3,216 465.6,216 465.9,216 466.3,216 466.6,216 466.9,216 467.3,216 467.6,216 467.9,216 468.2,216 468.6,216.1 468.9,216 469.2,216.1 469.6,216.1 469.9,216.1 470.2,216.1 470.6,216.1 470.9,216.1 471.2,216.1 471.5,216.1 471.9,216.1 472.2,216.1 472.5,216.1 472.9,216.1 473.2,216.1 473.5,216.1 473.8,216.1 474.2,216.1 474.5,216.1 474.8,216.1 475.2,216.1 475.5,216.1 475.8,216.1 476.2,216.1 476.5,216.1 476.8,216.1 477.1,216.1 477.5,216.1 477.8,216.1 478.1,216.1 478.5,216.1 478.8,216.1 479.1,216.1 479.5,216.1 479.8,216.1 480.1,216.1 480.4,216.1 480.8,216.1 481.1,216.1 481.4,216.1 481.8,216.1 482.1,216.1 482.4,216.1 482.8,216.1 483.1,216.1 483.4,216.1 483.7,216.1 484.1,216.1 484.4,216.1 484.7,216.1 485.1,216.1 485.4,216.1 485.7,216.1 486.1,216.1 486.4,216.1 486.7,216.1 487,216.1 487.4,216.1 487.7,216.1 488,216.1 488.4,216.1 488.7,216.1 489,216.1 489.3,216.1 489.7,216.1 490,216.1 490.3,216.1 490.7,216.1 491,216.1 491.3,216.1 491.7,216.1 492,216.1 492.3,216.1 492.6,216.1 493,216.1 493.3,216.1 493.6,216.1 494,216.1 494.3,216.1 494.6,216.1 495,216.1 495.3,216.1 495.6,216.1 495.9,216.1 496.3,216.1 496.6,216.1 496.9,216.1 497.3,216.1 497.6,216.1 497.9,216.1 498.3,216.1 498.6,216.1 498.9,216.1 499.2,216.1 499.6,216.1 499.9,216.1 500.2,216.1 500.6,216.1 500.9,216.1 501.2,216.1 501.6,216.1 501.9,216.1 502.2,216.1 502.5,216.1 502.9,216.1 503.2,216.1 503.5,216.1 503.9,216.1 504.2,216.1 504.5,216.1 504.8,216.1 505.2,216.1 505.5,216.1 505.8,216.1 506.2,216.1 506.5,216.1 506.5,216.1" fill="url(#wg1)" stroke="none" stroke-width="0"/>
<line x1="434.3" y1="216.1" x2="506.5" y2="216.1" stroke="#f06060" stroke-width="0.5" stroke-opacity="0.3"/>
<polygon points="427.8,223.4 503.3,223.5 505.4,218.7 432,218.7" fill="#f9f9f9" stroke="none" stroke-width="0"/>
<polygon points="427.8,223.4 427.8,223.4 428.2,223.4 428.5,223.4 428.9,223.4 429.2,223.4 429.6,223.4 429.9,198.6 430.2,191.3 430.6,193.8 430.9,196.1 431.3,198.3 431.6,200.2 432,202 432.3,203.7 432.7,204.7 433,205.2 433.3,207.4 433.7,209.1 434,210.7 434.4,213 434.7,212.7 435.1,212.4 435.4,212.9 435.8,215.3 436.1,215.7 436.4,215.4 436.8,216.3 437.1,217.7 437.5,218.4 437.8,218.2 438.2,218.2 438.5,219.5 438.9,219.3 439.2,219.5 439.6,220 439.9,220.1 440.2,220.5 440.6,220.7 440.9,220.9 441.3,220.8 441.6,221.1 442,221.3 442.3,221.6 442.7,221.4 443,221.4 443.3,222 443.7,222.2 444,222.2 444.4,222.2 444.7,222.3 445.1,222.3 445.4,222.6 445.8,222.5 446.1,222.6 446.4,222.6 446.8,222.7 447.1,222.8 447.5,222.9 447.8,222.9 448.2,222.9 448.5,223 448.9,223 449.2,222.9 449.5,223 449.9,223.1 450.2,223.1 450.6,223.1 450.9,223.2 451.3,223.1 451.6,223.2 452,223.2 452.3,223.2 452.6,223.2 453,223.2 453.3,223.3 453.7,223.3 454,223.3 454.4,223.3 454.7,223.3 455.1,223.3 455.4,223.3 455.7,223.3 456.1,223.4 456.4,223.4 456.8,223.4 457.1,223.4 457.5,223.4 457.8,223.4 458.2,223.4 458.5,223.4 458.8,223.4 459.2,223.4 459.5,223.4 459.9,223.4 460.2,223.4 460.6,223.4 460.9,223.4 461.3,223.4 461.6,223.4 461.9,223.4 462.3,223.4 462.6,223.4 463,223.4 463.3,223.4 463.7,223.4 464,223.4 464.4,223.4 464.7,223.4 465.1,223.4 465.4,223.4 465.7,223.4 466.1,223.4 466.4,223.4 466.8,223.4 467.1,223.4 467.5,223.4 467.8,223.4 468.2,223.4 468.5,223.4 468.8,223.4 469.2,223.4 469.5,223.4 469.9,223.4 470.2,223.4 470.6,223.4 470.9,223.4 471.3,223.4 471.6,223.4 471.9,223.4 472.3,223.4 472.6,223.4 473,223.4 473.3,223.4 473.7,223.4 474,223.4 474.4,223.4 474.7,223.4 475,223.4 475.4,223.4 475.7,223.4 476.1,223.4 476.4,223.4 476.8,223.4 477.1,223.4 477.5,223.4 477.8,223.4 478.1,223.4 478.5,223.4 478.8,223.4 479.2,223.4 479.5,223.4 479.9,223.4 480.2,223.4 480.6,223.4 480.9,223.4 481.2,223.4 481.6,223.4 481.9,223.4 482.3,223.4 482.6,223.4 483,223.4 483.3,223.4 483.7,223.5 484,223.5 484.3,223.5 484.7,223.5 485,223.5 485.4,223.5 485.7,223.5 486.1,223.5 486.4,223.5 486.8,223.5 487.1,223.5 487.5,223.5 487.8,223.5 488.1,223.5 488.5,223.5 488.8,223.5 489.2,223.5 489.5,223.5 489.9,223.5 490.2,223.5 490.6,223.5 490.9,223.5 491.2,223.5 491.6,223.5 491.9,223.5 492.3,223.5 492.6,223.5 493,223.5 493.3,223.5 493.7,223.5 494,223.5 494.3,223.5 494.7,223.5 495,223.5 495.4,223.5 495.7,223.5 496.1,223.5 496.4,223.5 496.8,223.5 497.1,223.5 497.4,223.5 497.8,223.5 498.1,223.5 498.5,223.5 498.8,223.5 499.2,223.5 499.5,223.5 499.9,223.5 500.2,223.5 500.5,223.5 500.9,223.5 501.2,223.5 501.6,223.5 501.9,223.5 502.3,223.5 502.6,223.5 503,223.5 503.3,223.5 503.3,223.5" fill="url(#wg1)" stroke="none" stroke-width="0"/>
<line x1="427.8" y1="223.4" x2="503.3" y2="223.5" stroke="#f06060" stroke-width="0.5" stroke-opacity="0.3"/>
<polygon points="420.3,232 499.6,232.1 501.6,227.3 424.5,227.3" fill="#f9f9f9" stroke="none" stroke-width="0"/>
<polygon points="420.3,232 420.3,232 420.7,232 421.1,232 421.4,232 421.8,232 422.1,221 422.5,196.1 422.9,199.1 423.2,201.9 423.6,204.5 423.9,206.8 424.3,209 424.7,210.9 425,210.4 425.4,216 425.8,214.2 426.1,218.3 426.5,218.8 426.8,220.4 427.2,220 427.6,221.6 427.9,220.9 428.3,222.4 428.7,223 429,224.4 429.4,225.9 429.7,226 430.1,225.1 430.5,227.4 430.8,228.4 431.2,227.2 431.5,228.5 431.9,228.4 432.3,229 432.6,228.9 433,229.1 433.4,229.3 433.7,229.7 434.1,229.6 434.4,230.1 434.8,229.9 435.2,230.2 435.5,230.5 435.9,230.7 436.3,230.4 436.6,230.5 437,230.9 437.3,230.8 437.7,230.9 438.1,231.1 438.4,231.3 438.8,231.2 439.1,231.3 439.5,231.4 439.9,231.5 440.2,231.4 440.6,231.6 441,231.6 441.3,231.6 441.7,231.7 442,231.6 442.4,231.8 442.8,231.7 443.1,231.7 443.5,231.8 443.9,231.8 444.2,231.8 444.6,231.8 444.9,231.8 445.3,231.9 445.7,231.9 446,231.9 446.4,231.9 446.7,231.9 447.1,231.9 447.5,231.9 447.8,231.9 448.2,231.9 448.6,231.9 448.9,231.9 449.3,231.9 449.6,231.9 450,232 450.4,232 450.7,232 451.1,232 451.5,232 451.8,232 452.2,232 452.5,232 452.9,232 453.3,232 453.6,232 454,232 454.3,232 454.7,232 455.1,232 455.4,232 455.8,232 456.2,232 456.5,232 456.9,232 457.2,232 457.6,232 458,232 458.3,232 458.7,232 459.1,232 459.4,232 459.8,232 460.1,232 460.5,232 460.9,232 461.2,232 461.6,232 461.9,232 462.3,232 462.7,232 463,232 463.4,232 463.8,232 464.1,232 464.5,232 464.8,232 465.2,232 465.6,232 465.9,232 466.3,232 466.7,232 467,232 467.4,232 467.7,232 468.1,232 468.5,232 468.8,232 469.2,232 469.5,232 469.9,232 470.3,232 470.6,232 471,232 471.4,232 471.7,232 472.1,232 472.4,232 472.8,232 473.2,232 473.5,232 473.9,232 474.2,232 474.6,232 475,232 475.3,232 475.7,232 476.1,232 476.4,232 476.8,232 477.1,232 477.5,232 477.9,232 478.2,232 478.6,232 479,232 479.3,232 479.7,232 480,232 480.4,232 480.8,232 481.1,232 481.5,232 481.8,232 482.2,232 482.6,232 482.9,232 483.3,232 483.7,232 484,232 484.4,232 484.7,232 485.1,232 485.5,232 485.8,232 486.2,232 486.6,232 486.9,232 487.3,232.1 487.6,232.1 488,232.1 488.4,232.1 488.7,232.1 489.1,232.1 489.4,232.1 489.8,232.1 490.2,232.1 490.5,232.1 490.9,232.1 491.3,232.1 491.6,232.1 492,232.1 492.3,232.1 492.7,232.1 493.1,232.1 493.4,232.1 493.8,232.1 494.2,232.1 494.5,232.1 494.9,232.1 495.2,232.1 495.6,232.1 496,232.1 496.3,232.1 496.7,232.1 497,232.1 497.4,232.1 497.8,232.1 498.1,232.1 498.5,232.1 498.9,232.1 499.2,232.1 499.6,232.1 499.6,232.1" fill="url(#wg1)" stroke="none" stroke-width="0"/>
<line x1="420.3" y1="232" x2="499.6" y2="232.1" stroke="#f06060" stroke-width="0.5" stroke-opacity="0.3"/>
<polygon points="412.9,240.5 495.9,240.6 497.9,235.8 417,235.8" fill="#f9f9f9" stroke="none" stroke-width="0"/>
<polygon points="412.9,240.5 412.9,240.5 413.3,240.5 413.6,240.5 414,239.5 414.4,232.4 414.8,226.9 415.2,226.3 415.5,218.8 415.9,213.2 416.3,217 416.7,208.2 417.1,214.9 417.4,209.1 417.8,217.5 418.2,208.9 418.6,211.5 418.9,218.5 419.3,219 419.7,206.3 420.1,209.7 420.5,210.9 420.8,214.7 421.2,210.3 421.6,217.6 422,208 422.4,220.3 422.7,210.9 423.1,214.3 423.5,215.8 423.9,222.1 424.3,217.9 424.6,220.2 425,203.4 425.4,220.1 425.8,217 426.1,220.8 426.5,220.8 426.9,216.3 427.3,228.5 427.7,220.3 428,211.2 428.4,211.7 428.8,216.9 429.2,213.8 429.6,233.1 429.9,212.7 430.3,226.8 430.7,220.6 431.1,226.6 431.5,224.9 431.8,209.3 432.2,230.9 432.6,216.1 433,208.6 433.3,212 433.7,237 434.1,226.2 434.5,236.7 434.9,233.4 435.2,221 435.6,220.2 436,232.8 436.4,220.4 436.8,229.2 437.1,223.1 437.5,234.2 437.9,233.1 438.3,223.4 438.7,227.4 439,230.8 439.4,222.8 439.8,228.7 440.2,228 440.6,232.8 440.9,237.6 441.3,234.1 441.7,229.6 442.1,238.1 442.4,233.3 442.8,232.3 443.2,227.3 443.6,237.5 444,227.2 444.3,231.3 444.7,235.4 445.1,235.2 445.5,238.2 445.9,227.7 446.2,226.7 446.6,235 447,235.8 447.4,233.4 447.8,226.7 448.1,226 448.5,228.1 448.9,238.4 449.3,233.7 449.6,236 450,237.9 450.4,239.4 450.8,235.2 451.2,236.5 451.5,238.4 451.9,229.5 452.3,232.3 452.7,230.5 453.1,236.2 453.4,233.8 453.8,232.2 454.2,230.9 454.6,234.5 455,239.1 455.3,239.2 455.7,235.4 456.1,234.8 456.5,232.6 456.8,233.4 457.2,237.5 457.6,239.5 458,236.7 458.4,239.1 458.7,239.5 459.1,235.9 459.5,237.4 459.9,236.1 460.3,232.2 460.6,236.5 461,235 461.4,237.5 461.8,236.6 462.2,236.1 462.5,237.3 462.9,239 463.3,238.3 463.7,234.9 464.1,235.2 464.4,238.9 464.8,239.1 465.2,239 465.6,237 465.9,235.2 466.3,236.6 466.7,237.7 467.1,239.7 467.5,238.2 467.8,236.3 468.2,238.2 468.6,237.7 469,235.6 469.4,238.1 469.7,237.8 470.1,238.6 470.5,237.1 470.9,234 471.3,236.4 471.6,235.6 472,239.6 472.4,239.9 472.8,236.1 473.1,239.1 473.5,235.8 473.9,238.7 474.3,238.6 474.7,239.2 475,236.5 475.4,238.9 475.8,240 476.2,237.6 476.6,238 476.9,237.1 477.3,239.3 477.7,235.3 478.1,238.9 478.5,236.5 478.8,236.6 479.2,239.6 479.6,240.2 480,240.2 480.4,240.3 480.7,240.2 481.1,240.4 481.5,240.4 481.9,240.3 482.2,240.4 482.6,240.3 483,240.5 483.4,240.3 483.8,240.2 484.1,240.2 484.5,240.4 484.9,240.3 485.3,240.3 485.7,240.3 486,240.5 486.4,240.4 486.8,240.5 487.2,240.4 487.6,240.4 487.9,240.4 488.3,240.5 488.7,240.4 489.1,240.5 489.4,240.5 489.8,240.5 490.2,240.5 490.6,240.5 491,240.6 491.3,240.5 491.7,240.5 492.1,240.4 492.5,240.6 492.9,240.4 493.2,240.5 493.6,240.6 494,240.4 494.4,240.5 494.8,240.5 495.1,240.5 495.5,240.5 495.9,240.5 495.9,240.6" fill="url(#wg1)" stroke="none" stroke-width="0"/>
<line x1="412.9" y1="240.5" x2="495.9" y2="240.6" stroke="#f06060" stroke-width="0.5" stroke-opacity="0.3"/>
<polygon points="403.3,251.5 491.1,251.6 493.2,246.8 407.4,246.7" fill="#f9f9f9" stroke="none" stroke-width="0"/>
<polygon points="403.3,251.5 403.3,251.5 403.7,251.5 404.1,251.5 404.5,251.5 404.9,249.7 405.3,218.9 405.7,216.5 406.1,222.8 406.5,227.8 406.9,235 407.3,239.4 407.7,236.5 408.1,238.7 408.5,241.9 408.9,245.1 409.3,243.3 409.7,247 410.1,247.1 410.5,247 410.9,248.9 411.3,248.7 411.7,249 412.1,249.2 412.5,249.8 412.9,250.2 413.3,249.9 413.7,250.3 414.1,250.4 414.5,250.7 414.9,250.6 415.3,250.6 415.7,250.9 416.1,250.9 416.5,250.8 416.9,251 417.3,251 417.7,251.1 418.1,251.1 418.5,251.1 418.9,251.2 419.4,251.2 419.8,251.2 420.2,251.2 420.6,251.2 421,251.3 421.4,251.3 421.8,251.3 422.2,251.4 422.6,251.3 423,251.3 423.4,251.3 423.8,251.4 424.2,251.4 424.6,251.4 425,251.4 425.4,251.4 425.8,251.4 426.2,251.4 426.6,251.4 427,251.4 427.4,251.4 427.8,251.4 428.2,251.4 428.6,251.4 429,251.4 429.4,251.4 429.8,251.4 430.2,251.5 430.6,251.4 431,251.5 431.4,251.5 431.8,251.5 432.2,251.5 432.6,251.5 433,251.5 433.4,251.5 433.8,251.5 434.2,251.5 434.6,251.5 435,251.5 435.4,251.5 435.8,251.5 436.2,251.5 436.6,251.5 437,251.5 437.4,251.5 437.8,251.5 438.2,251.5 438.6,251.5 439,251.5 439.4,251.5 439.8,251.5 440.2,251.5 440.6,251.5 441,251.5 441.4,251.5 441.8,251.5 442.2,251.5 442.6,251.5 443,251.5 443.4,251.5 443.8,251.5 444.2,251.5 444.6,251.5 445,251.5 445.4,251.5 445.8,251.5 446.2,251.5 446.6,251.5 447,251.5 447.4,251.5 447.8,251.5 448.2,251.5 448.6,251.5 449,251.5 449.4,251.5 449.8,251.5 450.2,251.5 450.6,251.5 451,251.5 451.4,251.5 451.8,251.5 452.2,251.5 452.6,251.5 453,251.5 453.4,251.5 453.8,251.5 454.2,251.5 454.6,251.5 455,251.5 455.4,251.5 455.8,251.5 456.2,251.5 456.7,251.5 457.1,251.5 457.5,251.5 457.9,251.5 458.3,251.5 458.7,251.5 459.1,251.5 459.5,251.5 459.9,251.5 460.3,251.5 460.7,251.5 461.1,251.5 461.5,251.5 461.9,251.5 462.3,251.5 462.7,251.5 463.1,251.5 463.5,251.5 463.9,251.5 464.3,251.5 464.7,251.5 465.1,251.5 465.5,251.5 465.9,251.5 466.3,251.5 466.7,251.5 467.1,251.5 467.5,251.5 467.9,251.5 468.3,251.5 468.7,251.5 469.1,251.5 469.5,251.5 469.9,251.5 470.3,251.5 470.7,251.5 471.1,251.5 471.5,251.5 471.9,251.5 472.3,251.5 472.7,251.5 473.1,251.5 473.5,251.5 473.9,251.5 474.3,251.5 474.7,251.5 475.1,251.5 475.5,251.5 475.9,251.5 476.3,251.5 476.7,251.5 477.1,251.5 477.5,251.5 477.9,251.5 478.3,251.5 478.7,251.5 479.1,251.5 479.5,251.5 479.9,251.5 480.3,251.5 480.7,251.5 481.1,251.5 481.5,251.5 481.9,251.5 482.3,251.5 482.7,251.5 483.1,251.5 483.5,251.5 483.9,251.5 484.3,251.5 484.7,251.5 485.1,251.5 485.5,251.6 485.9,251.6 486.3,251.6 486.7,251.6 487.1,251.6 487.5,251.6 487.9,251.6 488.3,251.6 488.7,251.6 489.1,251.6 489.5,251.6 489.9,251.6 490.3,251.6 490.7,251.6 491.1,251.6 491.1,251.6" fill="url(#wg1)" stroke="none" stroke-width="0"/>
<line x1="403.3" y1="251.5" x2="491.1" y2="251.6" stroke="#f06060" stroke-width="0.5" stroke-opacity="0.3"/>
<polygon points="393.6,262.6 486.3,262.7 488.4,258 397.7,257.9" fill="#f9f9f9" stroke="none" stroke-width="0"/>
<polygon points="393.6,262.6 393.6,262.6 394,262.6 394.4,262.6 394.8,262.6 395.2,239 395.7,227.8 396.1,242.5 396.5,250.9 396.9,255.7 397.4,258.4 397.8,260 398.2,260.9 398.6,261.4 399.1,261.8 399.5,262 399.9,262.1 400.3,262.2 400.8,262.3 401.2,262.3 401.6,262.4 402,262.4 402.4,262.4 402.9,262.5 403.3,262.5 403.7,262.5 404.1,262.5 404.6,262.5 405,262.5 405.4,262.5 405.8,262.6 406.3,262.6 406.7,262.6 407.1,262.6 407.5,262.6 408,262.6 408.4,262.6 408.8,262.6 409.2,262.6 409.6,262.6 410.1,262.6 410.5,262.6 410.9,262.6 411.3,262.6 411.8,262.6 412.2,262.6 412.6,262.6 413,262.6 413.5,262.6 413.9,262.6 414.3,262.6 414.7,262.6 415.2,262.6 415.6,262.6 416,262.6 416.4,262.7 416.8,262.7 417.3,262.7 417.7,262.7 418.1,262.7 418.5,262.7 419,262.7 419.4,262.7 419.8,262.7 420.2,262.7 420.7,262.7 421.1,262.7 421.5,262.7 421.9,262.7 422.4,262.7 422.8,262.7 423.2,262.7 423.6,262.7 424,262.7 424.5,262.7 424.9,262.7 425.3,262.7 425.7,262.7 426.2,262.7 426.6,262.7 427,262.7 427.4,262.7 427.9,262.7 428.3,262.7 428.7,262.7 429.1,262.7 429.6,262.7 430,262.7 430.4,262.7 430.8,262.7 431.2,262.7 431.7,262.7 432.1,262.7 432.5,262.7 432.9,262.7 433.4,262.7 433.8,262.7 434.2,262.7 434.6,262.7 435.1,262.7 435.5,262.7 435.9,262.7 436.3,262.7 436.8,262.7 437.2,262.7 437.6,262.7 438,262.7 438.5,262.7 438.9,262.7 439.3,262.7 439.7,262.7 440.1,262.7 440.6,262.7 441,262.7 441.4,262.7 441.8,262.7 442.3,262.7 442.7,262.7 443.1,262.7 443.5,262.7 444,262.7 444.4,262.7 444.8,262.7 445.2,262.7 445.7,262.7 446.1,262.7 446.5,262.7 446.9,262.7 447.3,262.7 447.8,262.7 448.2,262.7 448.6,262.7 449,262.7 449.5,262.7 449.9,262.7 450.3,262.7 450.7,262.7 451.2,262.7 451.6,262.7 452,262.7 452.4,262.7 452.9,262.7 453.3,262.7 453.7,262.7 454.1,262.7 454.5,262.7 455,262.7 455.4,262.7 455.8,262.7 456.2,262.7 456.7,262.7 457.1,262.7 457.5,262.7 457.9,262.7 458.4,262.7 458.8,262.7 459.2,262.7 459.6,262.7 460.1,262.7 460.5,262.7 460.9,262.7 461.3,262.7 461.7,262.7 462.2,262.7 462.6,262.7 463,262.7 463.4,262.7 463.9,262.7 464.3,262.7 464.7,262.7 465.1,262.7 465.6,262.7 466,262.7 466.4,262.7 466.8,262.7 467.3,262.7 467.7,262.7 468.1,262.7 468.5,262.7 468.9,262.7 469.4,262.7 469.8,262.7 470.2,262.7 470.6,262.7 471.1,262.7 471.5,262.7 471.9,262.7 472.3,262.7 472.8,262.7 473.2,262.7 473.6,262.7 474,262.7 474.5,262.7 474.9,262.7 475.3,262.7 475.7,262.7 476.1,262.7 476.6,262.7 477,262.7 477.4,262.7 477.8,262.7 478.3,262.7 478.7,262.7 479.1,262.7 479.5,262.7 480,262.7 480.4,262.7 480.8,262.7 481.2,262.7 481.7,262.7 482.1,262.7 482.5,262.7 482.9,262.7 483.3,262.7 483.8,262.7 484.2,262.7 484.6,262.7 485,262.7 485.5,262.7 485.9,262.7 486.3,262.7 486.3,262.7" fill="url(#wg1)" stroke="none" stroke-width="0"/>
<line x1="393.6" y1="262.6" x2="486.3" y2="262.7" stroke="#f06060" stroke-width="0.5" stroke-opacity="0.3"/>
<line x1="389.3" y1="267.7" x2="389.3" y2="220.4" stroke="#555" stroke-width="0.7"/>
<line x1="389" y1="267.5" x2="484.2" y2="267.6" stroke="#555" stroke-width="0.7"/>
<line x1="484.2" y1="267.6" x2="513.5" y2="199.9" stroke="#555" stroke-width="0.7"/>
<path d="M389.3,267.5h-1.5M389.3,251.1h-1.5M389.3,234.7h-1.5M389.3,267.5v1.5M413,267.5v1.5M436.8,267.6v1.5M460.5,267.6v1.5M484.2,267.6v1.5" stroke="#555" stroke-width="0.6" fill="none"/>
<text x="386.6" y="270.6" font-size="9.8" text-anchor="end" fill="#222" textLength="5.1" lengthAdjust="spacingAndGlyphs">0</text>
<text x="386.6" y="254.2" font-size="9.8" text-anchor="end" fill="#222" textLength="12.8" lengthAdjust="spacingAndGlyphs">0.4</text>
<text x="386.6" y="236.7" font-size="9.8" text-anchor="end" fill="#222" textLength="12.8" lengthAdjust="spacingAndGlyphs">0.8</text>
<text x="389.3" y="278" font-size="9.8" text-anchor="middle" fill="#222" textLength="5.1" lengthAdjust="spacingAndGlyphs">0</text>
<text x="413" y="278" font-size="9.8" text-anchor="middle" fill="#222" textLength="10.2" lengthAdjust="spacingAndGlyphs">50</text>
<text x="436.8" y="278" font-size="9.8" text-anchor="middle" fill="#222" textLength="15.3" lengthAdjust="spacingAndGlyphs">100</text>
<text x="460.5" y="278" font-size="9.8" text-anchor="middle" fill="#222" textLength="15.3" lengthAdjust="spacingAndGlyphs">150</text>
<text x="484.2" y="278" font-size="9.8" text-anchor="middle" fill="#222" textLength="15.3" lengthAdjust="spacingAndGlyphs">200</text>
<text x="382.4" y="289.9" font-size="9.3" text-anchor="start" fill="#222" textLength="102.7" lengthAdjust="spacingAndGlyphs">ISI duration in non-burst(s)</text>
<text transform="translate(371.4,252.2) rotate(-90)" x="0" y="0" font-size="8.2" text-anchor="middle" fill="#222" textLength="40.6" lengthAdjust="spacingAndGlyphs">Frequency</text>
<text x="490.6" y="266.3" font-size="8.8" text-anchor="start" fill="#222">t7<tspan font-size="5.4" dy="1.6">68</tspan></text>
<text x="494.7" y="255.3" font-size="8.8" text-anchor="start" fill="#222">t8<tspan font-size="5.4" dy="1.6">75</tspan></text>
<text x="497.6" y="245.5" font-size="8.8" text-anchor="start" fill="#222">t9<tspan font-size="5.4" dy="1.6">75</tspan></text>
<text x="501.6" y="235.3" font-size="8.8" text-anchor="start" fill="#222">t10<tspan font-size="5.4" dy="1.6">75</tspan></text>
<text x="505.7" y="227.4" font-size="8.8" text-anchor="start" fill="#222">t11<tspan font-size="5.4" dy="1.6">75</tspan></text>
<text x="509.2" y="220.3" font-size="8.8" text-anchor="start" fill="#222">t12<tspan font-size="5.4" dy="1.6">75</tspan></text>
<text x="512.3" y="211.6" font-size="8.8" text-anchor="start" fill="#222">t13<tspan font-size="5.4" dy="1.6">75</tspan></text>
<text x="514.4" y="202.6" font-size="8.8" text-anchor="start" fill="#222">t14<tspan font-size="5.4" dy="1.6">75</tspan></text>
<polygon points="549.8,263.7 638.5,264.5 666.3,200.4 604.9,200.4" fill="#f3f3f3" stroke="none" stroke-width="0"/>
<polygon points="549.8,263.7 549.8,218.6 604.9,170.2 604.9,200.4" fill="#e3f6f0" stroke="none" stroke-width="0"/>
<polygon points="604.9,200.4 666.3,200.4 666.3,170.2 604.9,170.2" fill="#fafad4" stroke="none" stroke-width="0"/>
<path d="M620.2,200.4L620.2,170.2M635.6,200.4L635.6,170.2M650.9,200.4L650.9,170.2M604.9,195.4L666.3,195.4M549.8,256.2L604.9,195.4M604.9,190.3L666.3,190.3M549.8,248.7L604.9,190.3M604.9,185.3L666.3,185.3M549.8,241.1L604.9,185.3M604.9,180.3L666.3,180.3M549.8,233.6L604.9,180.3M572,263.9L620.2,200.4M594.1,264.1L635.6,200.4M616.3,264.3L650.9,200.4" stroke="#c9cfc4" stroke-width="0.45" fill="none"/>
<path d="M549.8,218.6L604.9,170.2M604.9,170.2L666.3,170.2M666.3,170.2L666.3,200.4M604.9,200.4L604.9,170.2" stroke="#b8c4bc" stroke-width="0.5" fill="none"/>
<defs><linearGradient id="wg2" x1="0" y1="0" x2="1" y2="0"><stop offset="0" stop-color="#48d626"/><stop offset="1" stop-color="#a4ff74"/></linearGradient></defs>
<polygon points="602.7,202.9 665.2,203 667.1,198.5 606.6,198.5" fill="#f9f9f9" stroke="none" stroke-width="0"/>
<polygon points="602.7,202.9 602.7,202.9 603,202.9 603.3,202.9 603.6,202.9 603.8,202.9 604.1,202.9 604.4,202.9 604.7,202.9 605,202.9 605.3,202.9 605.5,202.9 605.8,201.9 606.1,182.3 606.4,178 606.7,179.2 607,180.4 607.3,181.5 607.5,182.5 607.8,183.5 608.1,184.4 608.4,185.3 608.7,186.1 609,184 609.3,191.4 609.5,188.2 609.8,197 610.1,186 610.4,190.1 610.7,196.2 611,197.5 611.3,189.6 611.5,195.4 611.8,198.8 612.1,195.5 612.4,199.7 612.7,202.1 613,188.6 613.3,193.8 613.5,191.8 613.8,191.8 614.1,199.6 614.4,196.3 614.7,189.4 615,202.9 615.3,198.1 615.5,196.4 615.8,198.6 616.1,201.7 616.4,193.9 616.7,197.7 617,199.7 617.2,194.9 617.5,199.2 617.8,195.9 618.1,196.3 618.4,199.9 618.7,200.6 619,201.6 619.2,200.7 619.5,199.2 619.8,197.1 620.1,201.2 620.4,200.5 620.7,202.8 621,198.7 621.2,200.1 621.5,202.8 621.8,202 622.1,201.7 622.4,201.3 622.7,202.9 623,202.4 623.2,201.8 623.5,198.6 623.8,202.2 624.1,199.4 624.4,201.9 624.7,202 625,200.6 625.2,199 625.5,200 625.8,201.4 626.1,202.4 626.4,201.5 626.7,200.8 627,201.7 627.2,202.2 627.5,200.4 627.8,201.3 628.1,201.1 628.4,201.8 628.7,202.2 628.9,202.8 629.2,202.6 629.5,202.8 629.8,201.6 630.1,202 630.4,202.5 630.7,202.6 630.9,202.5 631.2,202 631.5,202.1 631.8,201.7 632.1,202.4 632.4,202.2 632.7,202.4 632.9,202.2 633.2,202.9 633.5,201.6 633.8,201.8 634.1,202.4 634.4,202.6 634.7,202.3 634.9,202.2 635.2,202.4 635.5,202.6 635.8,202.8 636.1,202.5 636.4,202.4 636.7,201.6 636.9,202.8 637.2,202.9 637.5,202.7 637.8,202.6 638.1,203 638.4,202.7 638.7,202.5 638.9,202.5 639.2,202.5 639.5,202.7 639.8,202.8 640.1,202.8 640.4,202.8 640.6,202.7 640.9,202.7 641.2,202.5 641.5,202.7 641.8,202.8 642.1,202.6 642.4,202.8 642.6,202.5 642.9,202.9 643.2,202.6 643.5,202.9 643.8,202.9 644.1,202.9 644.4,202.9 644.6,202.6 644.9,202.8 645.2,202.7 645.5,202.8 645.8,202.9 646.1,202.8 646.4,202.8 646.6,202.8 646.9,202.9 647.2,202.7 647.5,202.9 647.8,202.7 648.1,202.7 648.4,202.9 648.6,202.8 648.9,202.9 649.2,202.8 649.5,202.8 649.8,202.9 650.1,202.8 650.3,202.9 650.6,202.9 650.9,202.9 651.2,202.9 651.5,202.8 651.8,202.9 652.1,202.9 652.3,202.8 652.6,202.9 652.9,202.9 653.2,203 653.5,202.8 653.8,202.9 654.1,202.9 654.3,202.9 654.6,202.9 654.9,202.8 655.2,202.9 655.5,202.9 655.8,202.9 656.1,202.8 656.3,202.9 656.6,202.9 656.9,202.9 657.2,202.9 657.5,202.9 657.8,203 658.1,202.9 658.3,202.9 658.6,202.9 658.9,202.9 659.2,202.9 659.5,202.9 659.8,203 660.1,202.9 660.3,202.9 660.6,202.9 660.9,202.9 661.2,202.9 661.5,202.9 661.8,202.9 662,202.9 662.3,202.9 662.6,202.9 662.9,202.9 663.2,202.9 663.5,202.9 663.8,202.9 664,202.9 664.3,203 664.6,203 664.9,203 665.2,202.9 665.2,203" fill="url(#wg2)" stroke="none" stroke-width="0"/>
<line x1="602.7" y1="202.9" x2="665.2" y2="203" stroke="#90e878" stroke-width="0.5" stroke-opacity="0.3"/>
<polygon points="597,209.5 662.3,209.6 664.2,205.1 600.8,205.1" fill="#f9f9f9" stroke="none" stroke-width="0"/>
<polygon points="597,209.5 597,209.5 597.3,209.5 597.6,209.5 597.9,209.5 598.2,209.5 598.5,209.5 598.8,209.5 599.1,209.5 599.4,209.5 599.7,209.5 599.9,196.6 600.2,181 600.5,182.9 600.8,184.7 601.1,186.3 601.4,187.9 601.7,189.3 602,190.6 602.3,197.8 602.6,185.3 602.9,194.5 603.2,200 603.5,192.3 603.8,199.1 604.1,204.4 604.4,199.1 604.7,186.6 605,186.9 605.3,201.1 605.6,199.9 605.9,203.2 606.2,196.2 606.5,198.3 606.8,203.8 607.1,195.8 607.4,207.2 607.7,202.4 608,198.4 608.3,204.1 608.6,201.6 608.9,204.2 609.2,203.3 609.5,202.2 609.8,209.5 610.1,208.8 610.4,207.5 610.7,202.9 611,204.9 611.3,208.1 611.6,206.5 611.9,206.2 612.2,205.9 612.5,206.9 612.8,208.2 613.1,207.8 613.4,205.3 613.7,206.4 614,205.4 614.3,205.3 614.6,209.3 614.9,205 615.2,208.1 615.5,207.5 615.8,208.8 616.1,208.7 616.4,206.4 616.7,208.7 617,207.9 617.3,208.5 617.5,209.1 617.8,205.7 618.1,208.7 618.4,209 618.7,208.1 619,209.1 619.3,209.2 619.6,209.2 619.9,208.7 620.2,208.2 620.5,209.2 620.8,209.2 621.1,208.5 621.4,208.7 621.7,209.2 622,209.1 622.3,209.1 622.6,208.6 622.9,208.9 623.2,208.2 623.5,208.9 623.8,209.4 624.1,209.2 624.4,208.8 624.7,209.3 625,209.3 625.3,209.2 625.6,209.3 625.9,209 626.2,209.3 626.5,209.2 626.8,209.3 627.1,208.6 627.4,209.3 627.7,209.4 628,209.1 628.3,209.5 628.6,209.5 628.9,209.4 629.2,209.4 629.5,209.4 629.8,209.4 630.1,209.1 630.4,209.3 630.7,209.4 631,209.5 631.3,209.3 631.6,209.5 631.9,209.6 632.2,209.4 632.5,209.5 632.8,209.5 633.1,209.4 633.4,209.3 633.7,209.5 634,209.5 634.3,209.5 634.6,209.5 634.9,209.5 635.2,209.4 635.4,209.3 635.7,209.3 636,209.5 636.3,209.4 636.6,209.3 636.9,209.5 637.2,209.5 637.5,209.5 637.8,209.5 638.1,209.5 638.4,209.5 638.7,209.5 639,209.4 639.3,209.6 639.6,209.4 639.9,209.5 640.2,209.5 640.5,209.4 640.8,209.5 641.1,209.5 641.4,209.5 641.7,209.5 642,209.5 642.3,209.5 642.6,209.6 642.9,209.5 643.2,209.5 643.5,209.6 643.8,209.5 644.1,209.5 644.4,209.6 644.7,209.6 645,209.6 645.3,209.6 645.6,209.6 645.9,209.6 646.2,209.5 646.5,209.6 646.8,209.6 647.1,209.5 647.4,209.6 647.7,209.6 648,209.6 648.3,209.6 648.6,209.6 648.9,209.6 649.2,209.6 649.5,209.6 649.8,209.6 650.1,209.6 650.4,209.6 650.7,209.6 651,209.6 651.3,209.6 651.6,209.6 651.9,209.6 652.2,209.6 652.5,209.6 652.8,209.6 653,209.6 653.3,209.6 653.6,209.6 653.9,209.6 654.2,209.6 654.5,209.6 654.8,209.6 655.1,209.6 655.4,209.6 655.7,209.6 656,209.6 656.3,209.6 656.6,209.6 656.9,209.6 657.2,209.6 657.5,209.6 657.8,209.6 658.1,209.6 658.4,209.6 658.7,209.6 659,209.6 659.3,209.6 659.6,209.6 659.9,209.6 660.2,209.6 660.5,209.6 660.8,209.6 661.1,209.6 661.4,209.6 661.7,209.6 662,209.6 662.3,209.6 662.3,209.6" fill="url(#wg2)" stroke="none" stroke-width="0"/>
<line x1="597" y1="209.5" x2="662.3" y2="209.6" stroke="#90e878" stroke-width="0.5" stroke-opacity="0.3"/>
<polygon points="590.7,216.7 659.1,216.9 661.1,212.5 594.5,212.3" fill="#f9f9f9" stroke="none" stroke-width="0"/>
<polygon points="590.7,216.7 590.7,216.7 591,216.7 591.3,216.7 591.6,216.7 591.9,216.7 592.2,216.7 592.6,216.7 592.9,216.7 593.2,216.7 593.5,216.7 593.8,216.7 594.1,199.9 594.4,186.3 594.7,188.4 595.1,190.3 595.4,192 595.7,193.7 596,195.2 596.3,196.6 596.6,192.3 596.9,206.2 597.2,202.6 597.6,187.1 597.9,204.1 598.2,205.8 598.5,198 598.8,208.8 599.1,196.7 599.4,205.1 599.7,214.1 600.1,213.9 600.4,197.6 600.7,207.3 601,209.4 601.3,208.3 601.6,208.5 601.9,210.3 602.2,212.6 602.6,206.9 602.9,215.4 603.2,210.9 603.5,206.6 603.8,210.7 604.1,215.1 604.4,212 604.7,212.6 605.1,216 605.4,215.5 605.7,214.2 606,216 606.3,216.5 606.6,209.7 606.9,212.3 607.2,213.7 607.6,214 607.9,209.8 608.2,214.2 608.5,211.9 608.8,212.7 609.1,214.2 609.4,215.5 609.7,212.2 610.1,214.3 610.4,213.5 610.7,215.2 611,216.1 611.3,216.6 611.6,215.6 611.9,216.4 612.2,216.4 612.6,215 612.9,215 613.2,215.7 613.5,215.3 613.8,215.6 614.1,215.9 614.4,215.6 614.7,215.9 615.1,214.8 615.4,215.3 615.7,216.3 616,216.2 616.3,215.8 616.6,216.3 616.9,215.9 617.2,216.4 617.6,216.5 617.9,216.2 618.2,216 618.5,216.5 618.8,216.4 619.1,216.5 619.4,216.1 619.7,216.8 620.1,216.3 620.4,216.7 620.7,216.4 621,216.5 621.3,216.5 621.6,216.3 621.9,216.2 622.2,216.4 622.6,216.8 622.9,216.4 623.2,216.6 623.5,216.6 623.8,216.6 624.1,216.3 624.4,216.7 624.7,216.7 625.1,216.8 625.4,216.4 625.7,216.3 626,216.5 626.3,216.8 626.6,216.4 626.9,216.7 627.2,216.6 627.6,216.3 627.9,216.8 628.2,216.8 628.5,216.7 628.8,216.7 629.1,216.7 629.4,216.6 629.8,216.7 630.1,216.7 630.4,216.6 630.7,216.8 631,216.8 631.3,216.8 631.6,216.7 631.9,216.6 632.3,216.8 632.6,216.8 632.9,216.8 633.2,216.8 633.5,216.8 633.8,216.8 634.1,216.8 634.4,216.8 634.8,216.8 635.1,216.7 635.4,216.8 635.7,216.7 636,216.8 636.3,216.8 636.6,216.8 636.9,216.8 637.3,216.8 637.6,216.8 637.9,216.9 638.2,216.8 638.5,216.8 638.8,216.8 639.1,216.8 639.4,216.9 639.8,216.8 640.1,216.9 640.4,216.8 640.7,216.8 641,216.9 641.3,216.9 641.6,216.9 641.9,216.9 642.3,216.8 642.6,216.9 642.9,216.8 643.2,216.8 643.5,216.9 643.8,216.9 644.1,216.9 644.4,216.9 644.8,216.9 645.1,216.9 645.4,216.9 645.7,216.9 646,216.9 646.3,216.9 646.6,216.9 646.9,216.9 647.3,216.9 647.6,216.9 647.9,216.9 648.2,216.9 648.5,216.9 648.8,216.9 649.1,216.9 649.4,216.9 649.8,216.9 650.1,216.9 650.4,216.9 650.7,216.9 651,216.9 651.3,216.9 651.6,216.9 651.9,216.9 652.3,216.9 652.6,216.9 652.9,216.9 653.2,216.9 653.5,216.9 653.8,216.9 654.1,216.9 654.4,216.9 654.8,216.9 655.1,216.9 655.4,216.9 655.7,216.9 656,216.9 656.3,216.9 656.6,216.9 656.9,216.9 657.3,216.9 657.6,216.9 657.9,216.9 658.2,216.9 658.5,216.9 658.8,216.9 659.1,216.9 659.1,216.9" fill="url(#wg2)" stroke="none" stroke-width="0"/>
<line x1="590.7" y1="216.7" x2="659.1" y2="216.9" stroke="#90e878" stroke-width="0.5" stroke-opacity="0.3"/>
<polygon points="584.8,223.5 656.2,223.8 658.1,219.3 588.6,219.1" fill="#f9f9f9" stroke="none" stroke-width="0"/>
<polygon points="584.8,223.5 584.8,223.5 585.1,223.5 585.4,223.5 585.8,223.5 586.1,223.5 586.4,219.1 586.7,195 587.1,193.7 587.4,195.7 587.7,197.5 588,199.2 588.4,200.8 588.7,202.3 589,214.1 589.4,201.2 589.7,217.4 590,206.1 590.3,206.3 590.7,215.3 591,207.5 591.3,203.1 591.6,215.9 592,204.8 592.3,202.1 592.6,210.5 592.9,218.7 593.3,220.8 593.6,222.1 593.9,214.1 594.2,217.4 594.6,217.2 594.9,209.3 595.2,219.5 595.5,218.7 595.9,215.5 596.2,218.4 596.5,219.8 596.8,218.5 597.2,216.9 597.5,222.3 597.8,215.3 598.1,220.4 598.5,220.2 598.8,219.3 599.1,219.6 599.5,222.5 599.8,220.4 600.1,222.7 600.4,222.2 600.8,221.2 601.1,217 601.4,221 601.7,222.3 602.1,222.4 602.4,222.9 602.7,219.5 603,221.2 603.4,222.5 603.7,221.9 604,220.5 604.3,221.5 604.7,223.3 605,221.3 605.3,222.7 605.6,223.2 606,220.5 606.3,223 606.6,222.4 606.9,222.7 607.3,223.2 607.6,221.2 607.9,221.4 608.3,222.9 608.6,223.5 608.9,223.3 609.2,221.6 609.6,222.8 609.9,222.4 610.2,222.3 610.5,222.6 610.9,223.3 611.2,223.6 611.5,223.2 611.8,222.2 612.2,223.4 612.5,222.8 612.8,223 613.1,222.7 613.5,222.9 613.8,223.2 614.1,223.1 614.4,222.9 614.8,223.4 615.1,222.6 615.4,223.4 615.7,223.4 616.1,223.2 616.4,223.1 616.7,223.4 617,223.2 617.4,223.3 617.7,223.3 618,223.4 618.4,223.4 618.7,223.5 619,223.4 619.3,223.3 619.7,223.5 620,223.6 620.3,223.4 620.6,223.4 621,223.5 621.3,223.5 621.6,223.2 621.9,223.3 622.3,223.4 622.6,223.5 622.9,223.5 623.2,223.5 623.6,223.6 623.9,223.6 624.2,223.5 624.5,223.6 624.9,223.5 625.2,223.5 625.5,223.6 625.8,223.5 626.2,223.4 626.5,223.7 626.8,223.5 627.2,223.5 627.5,223.4 627.8,223.6 628.1,223.6 628.5,223.5 628.8,223.6 629.1,223.5 629.4,223.6 629.8,223.6 630.1,223.6 630.4,223.5 630.7,223.7 631.1,223.7 631.4,223.5 631.7,223.7 632,223.7 632.4,223.7 632.7,223.6 633,223.6 633.3,223.6 633.7,223.6 634,223.7 634.3,223.6 634.6,223.6 635,223.7 635.3,223.7 635.6,223.7 635.9,223.7 636.3,223.7 636.6,223.7 636.9,223.7 637.3,223.7 637.6,223.7 637.9,223.7 638.2,223.7 638.6,223.7 638.9,223.7 639.2,223.7 639.5,223.7 639.9,223.7 640.2,223.7 640.5,223.7 640.8,223.7 641.2,223.7 641.5,223.7 641.8,223.7 642.1,223.7 642.5,223.7 642.8,223.7 643.1,223.7 643.4,223.7 643.8,223.7 644.1,223.7 644.4,223.7 644.7,223.7 645.1,223.7 645.4,223.7 645.7,223.7 646.1,223.7 646.4,223.7 646.7,223.8 647,223.8 647.4,223.7 647.7,223.8 648,223.8 648.3,223.7 648.7,223.8 649,223.8 649.3,223.8 649.6,223.8 650,223.8 650.3,223.8 650.6,223.8 650.9,223.8 651.3,223.8 651.6,223.8 651.9,223.8 652.2,223.8 652.6,223.8 652.9,223.8 653.2,223.8 653.5,223.8 653.9,223.8 654.2,223.8 654.5,223.8 654.8,223.8 655.2,223.8 655.5,223.8 655.8,223.8 656.2,223.8 656.2,223.8" fill="url(#wg2)" stroke="none" stroke-width="0"/>
<line x1="584.8" y1="223.5" x2="656.2" y2="223.8" stroke="#90e878" stroke-width="0.5" stroke-opacity="0.3"/>
<polygon points="577.8,231.5 652.7,231.9 654.6,227.4 581.7,227" fill="#f9f9f9" stroke="none" stroke-width="0"/>
<polygon points="577.8,231.5 577.8,231.5 578.2,231.5 578.5,231.5 578.9,231.5 579.2,209.6 579.6,202 579.9,203.9 580.2,205.7 580.6,207.4 580.9,208.9 581.3,210.3 581.6,205.4 581.9,220.3 582.3,206.9 582.6,222.4 583,207.6 583.3,223.4 583.7,215.6 584,209.1 584.3,211.1 584.7,218.4 585,227.2 585.4,225.3 585.7,222.5 586,217.2 586.4,225.7 586.7,224.3 587.1,225.9 587.4,222.3 587.8,222.7 588.1,223.6 588.4,229.4 588.8,223.4 589.1,223.8 589.5,227.7 589.8,226.1 590.1,224.4 590.5,225.9 590.8,229.6 591.2,229 591.5,230.9 591.9,228.5 592.2,227.1 592.5,229.8 592.9,228.7 593.2,229.8 593.6,228.1 593.9,229.3 594.2,224.8 594.6,230.3 594.9,228.3 595.3,229 595.6,227.9 595.9,230.7 596.3,228.9 596.6,231.2 597,230 597.3,230.6 597.7,231 598,227.8 598.3,228.6 598.7,229.5 599,230.2 599.4,228 599.7,231.1 600,230.7 600.4,231 600.7,229.2 601.1,231.1 601.4,231.3 601.8,230.4 602.1,230.3 602.4,230.5 602.8,231 603.1,230.9 603.5,230.2 603.8,230.9 604.1,230.7 604.5,230.4 604.8,230.5 605.2,230.6 605.5,231.2 605.9,230.9 606.2,231.2 606.5,231.5 606.9,231.2 607.2,230.5 607.6,231.2 607.9,231.4 608.2,231.4 608.6,231.5 608.9,230.6 609.3,231 609.6,231.1 610,231 610.3,231.1 610.6,231.3 611,231.4 611.3,231.1 611.7,231.2 612,231.6 612.3,231.5 612.7,230.9 613,231.2 613.4,231.4 613.7,231.1 614.1,231.3 614.4,231.1 614.7,231.4 615.1,231 615.4,231.3 615.8,231.4 616.1,231.5 616.4,231.6 616.8,231.6 617.1,231.6 617.5,231.5 617.8,231.6 618.2,231.7 618.5,231.5 618.8,231.5 619.2,231.6 619.5,231.6 619.9,231.6 620.2,231.6 620.5,231.6 620.9,231.6 621.2,231.6 621.6,231.6 621.9,231.4 622.3,231.5 622.6,231.6 622.9,231.6 623.3,231.6 623.6,231.7 624,231.7 624.3,231.6 624.6,231.6 625,231.6 625.3,231.7 625.7,231.7 626,231.7 626.3,231.7 626.7,231.7 627,231.7 627.4,231.7 627.7,231.7 628.1,231.7 628.4,231.7 628.7,231.7 629.1,231.7 629.4,231.7 629.8,231.7 630.1,231.6 630.4,231.7 630.8,231.7 631.1,231.7 631.5,231.7 631.8,231.7 632.2,231.7 632.5,231.7 632.8,231.7 633.2,231.7 633.5,231.8 633.9,231.7 634.2,231.8 634.5,231.8 634.9,231.7 635.2,231.8 635.6,231.8 635.9,231.7 636.3,231.8 636.6,231.8 636.9,231.8 637.3,231.8 637.6,231.8 638,231.8 638.3,231.8 638.6,231.8 639,231.8 639.3,231.8 639.7,231.8 640,231.8 640.4,231.8 640.7,231.8 641,231.8 641.4,231.8 641.7,231.8 642.1,231.8 642.4,231.8 642.7,231.8 643.1,231.8 643.4,231.8 643.8,231.8 644.1,231.8 644.5,231.8 644.8,231.8 645.1,231.8 645.5,231.8 645.8,231.8 646.2,231.8 646.5,231.8 646.8,231.8 647.2,231.8 647.5,231.8 647.9,231.8 648.2,231.8 648.6,231.8 648.9,231.9 649.2,231.9 649.6,231.8 649.9,231.9 650.3,231.9 650.6,231.9 650.9,231.9 651.3,231.9 651.6,231.9 652,231.9 652.3,231.9 652.7,231.9 652.7,231.9" fill="url(#wg2)" stroke="none" stroke-width="0"/>
<line x1="577.8" y1="231.5" x2="652.7" y2="231.9" stroke="#90e878" stroke-width="0.5" stroke-opacity="0.3"/>
<polygon points="570.1,240.4 648.7,240.9 650.7,236.4 573.9,236" fill="#f9f9f9" stroke="none" stroke-width="0"/>
<polygon points="570.1,240.4 570.1,240.4 570.4,240.4 570.8,240.4 571.2,240.4 571.5,240.4 571.9,240.4 572.2,240.4 572.6,240.4 572.9,240.4 573.3,238.7 573.7,234.1 574,231.3 574.4,221.6 574.7,224 575.1,231.1 575.5,230.8 575.8,219.9 576.2,209.9 576.5,217.9 576.9,218.7 577.3,215.3 577.6,225.3 578,235.7 578.3,226.5 578.7,225.8 579.1,223.3 579.4,226 579.8,223.1 580.1,225.6 580.5,230.2 580.9,234.7 581.2,231.8 581.6,230.9 581.9,226.2 582.3,235.5 582.6,233.3 583,234.3 583.4,236.3 583.7,233.1 584.1,230.8 584.4,237.2 584.8,237.5 585.2,234.8 585.5,229.8 585.9,238.9 586.2,240.1 586.6,233.4 587,232.2 587.3,233.3 587.7,238.3 588,234 588.4,237.8 588.8,236.3 589.1,239.3 589.5,235.4 589.8,236.6 590.2,237 590.5,237.5 590.9,236.8 591.3,236.1 591.6,238 592,239.2 592.3,238.1 592.7,236.8 593.1,236.2 593.4,234.6 593.8,238.8 594.1,238.4 594.5,234.1 594.9,237.4 595.2,238 595.6,237.2 595.9,236.9 596.3,238.3 596.7,235.8 597,237.3 597.4,239.8 597.7,237.8 598.1,236.4 598.4,235 598.8,238.7 599.2,238.5 599.5,240 599.9,235.2 600.2,237.5 600.6,235.9 601,239 601.3,237.7 601.7,239.9 602,237 602.4,239.6 602.8,239.6 603.1,237.5 603.5,239.9 603.8,239.4 604.2,237.8 604.6,238.9 604.9,239.4 605.3,238 605.6,239.4 606,237.7 606.4,237.6 606.7,237.9 607.1,237.7 607.4,239 607.8,239.9 608.1,237 608.5,239.2 608.9,238.1 609.2,239 609.6,240.7 609.9,240.7 610.3,240.7 610.7,240.7 611,240.7 611.4,240.7 611.7,240.7 612.1,240.7 612.5,240.7 612.8,240.7 613.2,240.7 613.5,240.7 613.9,240.7 614.3,240.7 614.6,240.7 615,240.7 615.3,240.7 615.7,240.7 616,240.7 616.4,240.7 616.8,240.7 617.1,240.7 617.5,240.7 617.8,240.7 618.2,240.7 618.6,240.7 618.9,240.7 619.3,240.7 619.6,240.7 620,240.7 620.4,240.7 620.7,240.7 621.1,240.7 621.4,240.7 621.8,240.7 622.2,240.7 622.5,240.7 622.9,240.7 623.2,240.7 623.6,240.7 623.9,240.8 624.3,240.8 624.7,240.8 625,240.8 625.4,240.8 625.7,240.8 626.1,240.8 626.5,240.8 626.8,240.8 627.2,240.8 627.5,240.8 627.9,240.8 628.3,240.8 628.6,240.8 629,240.8 629.3,240.8 629.7,240.8 630.1,240.8 630.4,240.8 630.8,240.8 631.1,240.8 631.5,240.8 631.9,240.8 632.2,240.8 632.6,240.8 632.9,240.8 633.3,240.8 633.6,240.8 634,240.8 634.4,240.8 634.7,240.8 635.1,240.8 635.4,240.8 635.8,240.8 636.2,240.8 636.5,240.8 636.9,240.8 637.2,240.8 637.6,240.8 638,240.8 638.3,240.8 638.7,240.8 639,240.8 639.4,240.9 639.8,240.9 640.1,240.9 640.5,240.9 640.8,240.9 641.2,240.9 641.5,240.9 641.9,240.9 642.3,240.9 642.6,240.9 643,240.9 643.3,240.9 643.7,240.9 644.1,240.9 644.4,240.9 644.8,240.9 645.1,240.9 645.5,240.9 645.9,240.9 646.2,240.9 646.6,240.9 646.9,240.9 647.3,240.9 647.7,240.9 648,240.9 648.4,240.9 648.7,240.9 648.7,240.9" fill="url(#wg2)" stroke="none" stroke-width="0"/>
<line x1="570.1" y1="240.4" x2="648.7" y2="240.9" stroke="#90e878" stroke-width="0.5" stroke-opacity="0.3"/>
<polygon points="561.7,250 644.5,250.7 646.5,246.2 565.6,245.6" fill="#f9f9f9" stroke="none" stroke-width="0"/>
<polygon points="561.7,250 561.7,250 562.1,250 562.5,250 562.8,250 563.2,250 563.6,250 564,250 564.3,250 564.7,246.8 565.1,218.4 565.5,215.7 565.9,219 566.2,221.9 566.6,224.5 567,226.9 567.4,232.7 567.8,231.7 568.1,234.7 568.5,231.6 568.9,233.7 569.3,232 569.6,233.8 570,238.4 570.4,238.1 570.8,243.3 571.2,245.5 571.5,242.7 571.9,241.4 572.3,242.2 572.7,243.5 573,243.4 573.4,243.5 573.8,241.9 574.2,244.7 574.6,245.7 574.9,247.7 575.3,245.9 575.7,245.7 576.1,246.7 576.4,246.7 576.8,246.9 577.2,247 577.6,249.2 578,246.8 578.3,246.4 578.7,249.5 579.1,247.4 579.5,248.6 579.9,249 580.2,249.3 580.6,248.3 581,248.7 581.4,249.3 581.7,249.4 582.1,249.4 582.5,249.1 582.9,249.6 583.3,249.7 583.6,249.5 584,249.6 584.4,249.7 584.8,249.8 585.1,248.4 585.5,249.4 585.9,249.2 586.3,250 586.7,249.8 587,249 587.4,249.4 587.8,249.4 588.2,249.7 588.5,249.2 588.9,249.8 589.3,249.7 589.7,249 590.1,249.7 590.4,249.9 590.8,249.6 591.2,249.6 591.6,249.6 591.9,249.8 592.3,249.9 592.7,249.8 593.1,249.8 593.5,250 593.8,250 594.2,249.8 594.6,249.8 595,250 595.4,250.2 595.7,250.1 596.1,249.9 596.5,250.1 596.9,250.2 597.2,249.9 597.6,249.9 598,249.9 598.4,250.2 598.8,249.8 599.1,250.1 599.5,250.2 599.9,250.2 600.3,250.2 600.6,250 601,250.1 601.4,250.1 601.8,250.1 602.2,250.1 602.5,250.2 602.9,250.1 603.3,250.2 603.7,250.1 604,250.3 604.4,250.1 604.8,250.2 605.2,250.2 605.6,250.3 605.9,250.2 606.3,250.2 606.7,250.3 607.1,250.3 607.5,250.2 607.8,250.3 608.2,250.3 608.6,250.3 609,250.3 609.3,250.3 609.7,250.4 610.1,250.3 610.5,250.4 610.9,250.4 611.2,250.4 611.6,250.3 612,250.4 612.4,250.4 612.7,250.3 613.1,250.3 613.5,250.4 613.9,250.4 614.3,250.4 614.6,250.4 615,250.4 615.4,250.4 615.8,250.4 616.1,250.4 616.5,250.4 616.9,250.4 617.3,250.4 617.7,250.4 618,250.4 618.4,250.4 618.8,250.4 619.2,250.4 619.6,250.4 619.9,250.5 620.3,250.4 620.7,250.5 621.1,250.4 621.4,250.5 621.8,250.5 622.2,250.5 622.6,250.5 623,250.5 623.3,250.5 623.7,250.5 624.1,250.5 624.5,250.5 624.8,250.5 625.2,250.5 625.6,250.5 626,250.5 626.4,250.5 626.7,250.5 627.1,250.5 627.5,250.5 627.9,250.5 628.2,250.5 628.6,250.5 629,250.5 629.4,250.5 629.8,250.5 630.1,250.5 630.5,250.5 630.9,250.5 631.3,250.5 631.6,250.6 632,250.5 632.4,250.6 632.8,250.6 633.2,250.6 633.5,250.6 633.9,250.6 634.3,250.6 634.7,250.6 635.1,250.6 635.4,250.6 635.8,250.6 636.2,250.6 636.6,250.6 636.9,250.6 637.3,250.6 637.7,250.6 638.1,250.6 638.5,250.6 638.8,250.6 639.2,250.6 639.6,250.6 640,250.6 640.3,250.6 640.7,250.6 641.1,250.6 641.5,250.6 641.9,250.6 642.2,250.6 642.6,250.6 643,250.6 643.4,250.6 643.7,250.6 644.1,250.6 644.5,250.7 644.5,250.7" fill="url(#wg2)" stroke="none" stroke-width="0"/>
<line x1="561.7" y1="250" x2="644.5" y2="250.7" stroke="#90e878" stroke-width="0.5" stroke-opacity="0.3"/>
<polygon points="553.3,259.7 640.3,260.5 642.2,256 557.1,255.3" fill="#f9f9f9" stroke="none" stroke-width="0"/>
<polygon points="553.3,259.7 553.3,259.7 553.7,259.7 554.1,259.7 554.5,259.7 554.9,258.1 555.3,229.5 555.7,243 556.1,253.7 556.4,257.1 556.8,258.3 557.2,258.7 557.6,258.9 558,259 558.4,259.1 558.8,259.2 559.2,259.2 559.6,259.3 560,259.3 560.4,259.4 560.8,259.4 561.2,259.4 561.6,259.5 562,259.5 562.4,259.5 562.8,259.6 563.2,259.6 563.6,259.6 564,259.6 564.4,259.6 564.8,259.7 565.2,259.7 565.6,259.7 566,259.7 566.4,259.7 566.8,259.7 567.2,259.7 567.6,259.8 568,259.8 568.4,259.8 568.8,259.8 569.2,259.8 569.6,259.8 570,259.8 570.3,259.8 570.7,259.8 571.1,259.8 571.5,259.8 571.9,259.8 572.3,259.8 572.7,259.9 573.1,259.9 573.5,259.9 573.9,259.9 574.3,259.9 574.7,259.9 575.1,259.9 575.5,259.9 575.9,259.9 576.3,259.9 576.7,259.9 577.1,259.9 577.5,259.9 577.9,259.9 578.3,259.9 578.7,259.9 579.1,259.9 579.5,259.9 579.9,259.9 580.3,259.9 580.7,259.9 581.1,259.9 581.5,260 581.9,260 582.3,260 582.7,260 583.1,260 583.5,260 583.9,260 584.3,260 584.6,260 585,260 585.4,260 585.8,260 586.2,260 586.6,260 587,260 587.4,260 587.8,260 588.2,260 588.6,260 589,260 589.4,260 589.8,260 590.2,260 590.6,260 591,260 591.4,260 591.8,260 592.2,260 592.6,260.1 593,260.1 593.4,260.1 593.8,260.1 594.2,260.1 594.6,260.1 595,260.1 595.4,260.1 595.8,260.1 596.2,260.1 596.6,260.1 597,260.1 597.4,260.1 597.8,260.1 598.2,260.1 598.5,260.1 598.9,260.1 599.3,260.1 599.7,260.1 600.1,260.1 600.5,260.1 600.9,260.1 601.3,260.1 601.7,260.1 602.1,260.1 602.5,260.1 602.9,260.1 603.3,260.1 603.7,260.1 604.1,260.2 604.5,260.2 604.9,260.2 605.3,260.2 605.7,260.2 606.1,260.2 606.5,260.2 606.9,260.2 607.3,260.2 607.7,260.2 608.1,260.2 608.5,260.2 608.9,260.2 609.3,260.2 609.7,260.2 610.1,260.2 610.5,260.2 610.9,260.2 611.3,260.2 611.7,260.2 612.1,260.2 612.4,260.2 612.8,260.2 613.2,260.2 613.6,260.2 614,260.2 614.4,260.2 614.8,260.2 615.2,260.2 615.6,260.2 616,260.3 616.4,260.3 616.8,260.3 617.2,260.3 617.6,260.3 618,260.3 618.4,260.3 618.8,260.3 619.2,260.3 619.6,260.3 620,260.3 620.4,260.3 620.8,260.3 621.2,260.3 621.6,260.3 622,260.3 622.4,260.3 622.8,260.3 623.2,260.3 623.6,260.3 624,260.3 624.4,260.3 624.8,260.3 625.2,260.3 625.6,260.3 626,260.3 626.4,260.3 626.7,260.3 627.1,260.3 627.5,260.4 627.9,260.4 628.3,260.4 628.7,260.4 629.1,260.4 629.5,260.4 629.9,260.4 630.3,260.4 630.7,260.4 631.1,260.4 631.5,260.4 631.9,260.4 632.3,260.4 632.7,260.4 633.1,260.4 633.5,260.4 633.9,260.4 634.3,260.4 634.7,260.4 635.1,260.4 635.5,260.4 635.9,260.4 636.3,260.4 636.7,260.4 637.1,260.4 637.5,260.4 637.9,260.4 638.3,260.4 638.7,260.4 639.1,260.5 639.5,260.5 639.9,260.5 640.3,260.5 640.3,260.5" fill="url(#wg2)" stroke="none" stroke-width="0"/>
<line x1="553.3" y1="259.7" x2="640.3" y2="260.5" stroke="#90e878" stroke-width="0.5" stroke-opacity="0.3"/>
<line x1="549.8" y1="263.9" x2="549.8" y2="218.6" stroke="#555" stroke-width="0.7"/>
<line x1="549.5" y1="263.7" x2="638.5" y2="264.5" stroke="#555" stroke-width="0.7"/>
<line x1="638.5" y1="264.5" x2="666.3" y2="200.4" stroke="#555" stroke-width="0.7"/>
<path d="M549.8,263.7h-1.5M549.8,248.7h-1.5M549.8,233.6h-1.5M549.8,263.7v1.5M572,263.9v1.5M594.1,264.1v1.5M616.3,264.3v1.5M638.5,264.5v1.5" stroke="#555" stroke-width="0.6" fill="none"/>
<text x="547.4" y="267.4" font-size="10" text-anchor="end" fill="#222" textLength="5.2" lengthAdjust="spacingAndGlyphs">0</text>
<text x="547.4" y="251.9" font-size="10" text-anchor="end" fill="#222" textLength="12.9" lengthAdjust="spacingAndGlyphs">0.4</text>
<text x="547.4" y="235.8" font-size="10" text-anchor="end" fill="#222" textLength="12.9" lengthAdjust="spacingAndGlyphs">0.8</text>
<text x="549.8" y="273.4" font-size="9.8" text-anchor="middle" fill="#222" textLength="5.1" lengthAdjust="spacingAndGlyphs">0</text>
<text x="572" y="273.4" font-size="9.8" text-anchor="middle" fill="#222" textLength="10.2" lengthAdjust="spacingAndGlyphs">10</text>
<text x="594.1" y="273.4" font-size="9.8" text-anchor="middle" fill="#222" textLength="10.2" lengthAdjust="spacingAndGlyphs">20</text>
<text x="616.3" y="273.4" font-size="9.8" text-anchor="middle" fill="#222" textLength="10.2" lengthAdjust="spacingAndGlyphs">30</text>
<text x="638.5" y="273.4" font-size="9.8" text-anchor="middle" fill="#222" textLength="10.2" lengthAdjust="spacingAndGlyphs">40</text>
<text x="553.4" y="288.5" font-size="9.2" text-anchor="start" fill="#222" textLength="86.3" lengthAdjust="spacingAndGlyphs">ISI duration in burst (s)</text>
<text transform="translate(530.9,250.8) rotate(-90)" x="0" y="0" font-size="8.2" text-anchor="middle" fill="#222" textLength="43.5" lengthAdjust="spacingAndGlyphs">Frequency</text>
<text x="644.3" y="262.7" font-size="8.8" text-anchor="start" fill="#222">t7<tspan font-size="5.4" dy="1.6">65</tspan></text>
<text x="648.5" y="253" font-size="8.8" text-anchor="start" fill="#222">t8<tspan font-size="5.4" dy="1.6">75</tspan></text>
<text x="652.2" y="243.4" font-size="8.8" text-anchor="start" fill="#222">t9<tspan font-size="5.4" dy="1.6">75</tspan></text>
<text x="655.7" y="234.5" font-size="8.8" text-anchor="start" fill="#222">t10<tspan font-size="5.4" dy="1.6">75</tspan></text>
<text x="659.6" y="226.5" font-size="8.8" text-anchor="start" fill="#222">t11<tspan font-size="5.4" dy="1.6">75</tspan></text>
<text x="662.3" y="219.7" font-size="8.8" text-anchor="start" fill="#222">t12<tspan font-size="5.4" dy="1.6">75</tspan></text>
<text x="664.4" y="212.5" font-size="8.8" text-anchor="start" fill="#222">t13<tspan font-size="5.4" dy="1.6">75</tspan></text>
<text x="667.6" y="205.9" font-size="8.8" text-anchor="start" fill="#222">t14<tspan font-size="5.4" dy="1.6">75</tspan></text>
</svg></body></html>
